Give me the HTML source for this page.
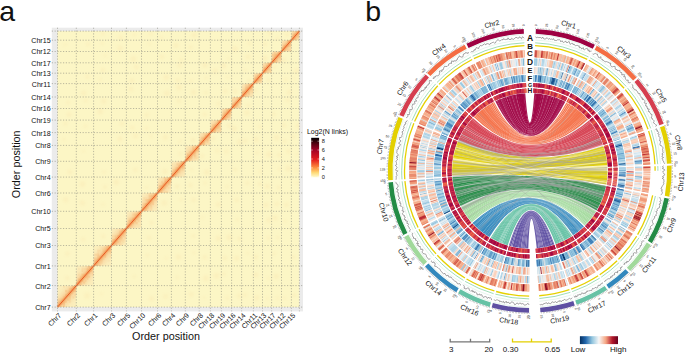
<!DOCTYPE html>
<html><head><meta charset="utf-8"><style>
html,body{margin:0;padding:0;background:#fff;}
body{width:685px;height:354px;overflow:hidden;}
svg{display:block;font-family:"Liberation Sans",sans-serif;}
text{fill:#111;}
</style></head><body>
<svg width="685" height="354" viewBox="0 0 685 354">
<rect x="51.8" y="27.7" width="251.2" height="283.7" fill="#ebebeb"/><rect x="57.5" y="31.1" width="241.9" height="276.0" fill="#fcf6c5"/><defs><clipPath id="cb0"><rect x="57.50" y="285.65" width="18.80" height="21.45"/></clipPath><clipPath id="cb1"><rect x="76.30" y="265.91" width="17.30" height="19.74"/></clipPath><clipPath id="cb2"><rect x="93.60" y="245.49" width="17.90" height="20.42"/></clipPath><clipPath id="cb3"><rect x="111.50" y="228.49" width="14.90" height="17.00"/></clipPath><clipPath id="cb4"><rect x="126.40" y="211.26" width="15.10" height="17.23"/></clipPath><clipPath id="cb5"><rect x="141.50" y="193.00" width="16.00" height="18.26"/></clipPath><clipPath id="cb6"><rect x="157.50" y="177.14" width="13.90" height="15.86"/></clipPath><clipPath id="cb7"><rect x="171.40" y="161.28" width="13.90" height="15.86"/></clipPath><clipPath id="cb8"><rect x="185.30" y="145.42" width="13.90" height="15.86"/></clipPath><clipPath id="cb9"><rect x="199.20" y="132.65" width="11.20" height="12.78"/></clipPath><clipPath id="cb10"><rect x="210.40" y="120.10" width="11.00" height="12.55"/></clipPath><clipPath id="cb11"><rect x="221.40" y="108.46" width="10.20" height="11.64"/></clipPath><clipPath id="cb12"><rect x="231.60" y="97.05" width="10.00" height="11.41"/></clipPath><clipPath id="cb13"><rect x="241.60" y="83.58" width="11.80" height="13.46"/></clipPath><clipPath id="cb14"><rect x="253.40" y="73.20" width="9.10" height="10.38"/></clipPath><clipPath id="cb15"><rect x="262.50" y="62.82" width="9.10" height="10.38"/></clipPath><clipPath id="cb16"><rect x="271.60" y="51.52" width="9.90" height="11.30"/></clipPath><clipPath id="cb17"><rect x="281.50" y="40.23" width="9.90" height="11.30"/></clipPath><clipPath id="cb18"><rect x="291.40" y="31.10" width="8.00" height="9.13"/></clipPath><filter id="bl0" x="-30%" y="-30%" width="160%" height="160%"><feGaussianBlur stdDeviation="0.5"/></filter><filter id="bl1" x="-30%" y="-30%" width="160%" height="160%"><feGaussianBlur stdDeviation="1"/></filter><filter id="bl2" x="-30%" y="-30%" width="160%" height="160%"><feGaussianBlur stdDeviation="2.2"/></filter><filter id="bl3" x="-30%" y="-30%" width="160%" height="160%"><feGaussianBlur stdDeviation="1.6"/></filter></defs><g fill="#f5c98a" opacity="0.14" filter="url(#bl3)"><circle cx="67.3" cy="278.3" r="2.2"/><circle cx="67.4" cy="253.8" r="2.3"/><circle cx="65.7" cy="199.7" r="2.7"/><circle cx="69.8" cy="172.0" r="2.5"/><circle cx="64.0" cy="139.2" r="1.6"/><circle cx="65.4" cy="123.6" r="2.2"/><circle cx="69.0" cy="114.4" r="2.5"/><circle cx="67.9" cy="102.5" r="1.9"/><circle cx="65.3" cy="44.6" r="1.6"/><circle cx="87.0" cy="295.7" r="2.9"/><circle cx="83.2" cy="239.4" r="2.2"/><circle cx="82.4" cy="202.9" r="2.7"/><circle cx="82.5" cy="184.1" r="2.9"/><circle cx="83.4" cy="151.0" r="1.6"/><circle cx="85.3" cy="126.1" r="1.8"/><circle cx="85.8" cy="100.5" r="2.1"/><circle cx="83.6" cy="93.1" r="2.7"/><circle cx="87.3" cy="76.7" r="2.1"/><circle cx="87.9" cy="44.2" r="1.9"/><circle cx="101.3" cy="293.8" r="1.6"/><circle cx="103.2" cy="236.2" r="2.2"/><circle cx="103.0" cy="204.3" r="1.8"/><circle cx="105.0" cy="187.0" r="1.9"/><circle cx="104.0" cy="171.9" r="1.8"/><circle cx="100.2" cy="111.5" r="2.9"/><circle cx="103.8" cy="101.3" r="2.7"/><circle cx="100.6" cy="79.7" r="1.6"/><circle cx="102.9" cy="70.1" r="2.4"/><circle cx="105.1" cy="55.4" r="1.5"/><circle cx="102.2" cy="43.2" r="1.8"/><circle cx="103.0" cy="33.5" r="2.0"/><circle cx="116.2" cy="182.2" r="2.9"/><circle cx="119.8" cy="138.9" r="2.6"/><circle cx="121.9" cy="123.8" r="2.3"/><circle cx="120.1" cy="48.3" r="2.8"/><circle cx="120.7" cy="37.8" r="2.4"/><circle cx="134.4" cy="276.4" r="1.6"/><circle cx="135.4" cy="169.7" r="2.2"/><circle cx="135.5" cy="136.2" r="2.4"/><circle cx="132.3" cy="127.6" r="2.2"/><circle cx="131.0" cy="89.1" r="2.5"/><circle cx="132.0" cy="80.8" r="2.5"/><circle cx="136.3" cy="67.0" r="2.5"/><circle cx="133.5" cy="59.0" r="2.9"/><circle cx="134.4" cy="34.6" r="1.7"/><circle cx="151.5" cy="298.5" r="2.6"/><circle cx="147.5" cy="255.4" r="1.9"/><circle cx="149.0" cy="237.7" r="2.2"/><circle cx="151.5" cy="222.8" r="2.2"/><circle cx="146.7" cy="187.3" r="1.6"/><circle cx="151.2" cy="136.2" r="1.7"/><circle cx="146.6" cy="128.3" r="1.9"/><circle cx="146.8" cy="115.1" r="2.2"/><circle cx="149.4" cy="43.9" r="1.5"/><circle cx="150.8" cy="33.7" r="1.9"/><circle cx="165.6" cy="296.5" r="2.4"/><circle cx="166.2" cy="258.1" r="1.6"/><circle cx="164.2" cy="202.9" r="2.9"/><circle cx="164.9" cy="171.5" r="2.7"/><circle cx="165.4" cy="137.3" r="2.6"/><circle cx="166.8" cy="93.2" r="3.0"/><circle cx="166.2" cy="77.3" r="2.9"/><circle cx="161.9" cy="56.8" r="2.3"/><circle cx="161.6" cy="37.5" r="1.6"/><circle cx="177.4" cy="277.5" r="1.7"/><circle cx="178.4" cy="257.0" r="2.8"/><circle cx="181.0" cy="199.6" r="1.8"/><circle cx="177.1" cy="186.4" r="2.5"/><circle cx="180.4" cy="153.7" r="2.0"/><circle cx="180.4" cy="141.4" r="1.8"/><circle cx="178.8" cy="101.0" r="2.3"/><circle cx="179.0" cy="87.5" r="3.0"/><circle cx="177.8" cy="80.2" r="2.3"/><circle cx="179.5" cy="65.4" r="2.3"/><circle cx="181.1" cy="59.7" r="1.9"/><circle cx="176.1" cy="45.5" r="2.7"/><circle cx="191.2" cy="294.5" r="2.4"/><circle cx="193.9" cy="252.8" r="1.8"/><circle cx="193.4" cy="235.9" r="2.0"/><circle cx="193.6" cy="199.9" r="2.3"/><circle cx="190.4" cy="185.3" r="2.2"/><circle cx="191.7" cy="169.4" r="1.7"/><circle cx="193.0" cy="139.9" r="2.3"/><circle cx="193.7" cy="92.2" r="2.9"/><circle cx="191.1" cy="80.9" r="1.8"/><circle cx="190.7" cy="47.2" r="1.9"/><circle cx="194.2" cy="35.2" r="2.7"/><circle cx="204.2" cy="297.5" r="1.5"/><circle cx="205.9" cy="278.2" r="3.0"/><circle cx="204.8" cy="257.2" r="2.3"/><circle cx="202.2" cy="217.5" r="1.6"/><circle cx="205.2" cy="183.0" r="1.8"/><circle cx="206.8" cy="172.2" r="2.9"/><circle cx="202.2" cy="156.1" r="2.2"/><circle cx="204.6" cy="114.4" r="2.1"/><circle cx="206.0" cy="92.4" r="1.8"/><circle cx="206.2" cy="77.8" r="1.8"/><circle cx="204.9" cy="65.1" r="2.8"/><circle cx="216.5" cy="275.8" r="3.0"/><circle cx="218.4" cy="238.5" r="2.7"/><circle cx="218.3" cy="204.4" r="2.5"/><circle cx="217.2" cy="150.8" r="2.0"/><circle cx="213.0" cy="138.2" r="2.5"/><circle cx="218.6" cy="103.7" r="2.0"/><circle cx="215.2" cy="71.0" r="2.5"/><circle cx="227.2" cy="297.8" r="1.9"/><circle cx="223.8" cy="274.0" r="2.1"/><circle cx="225.0" cy="258.1" r="2.3"/><circle cx="229.3" cy="237.4" r="3.0"/><circle cx="227.1" cy="186.6" r="1.6"/><circle cx="226.3" cy="151.4" r="2.2"/><circle cx="229.2" cy="125.9" r="2.3"/><circle cx="225.2" cy="91.2" r="2.3"/><circle cx="227.8" cy="77.2" r="1.5"/><circle cx="223.8" cy="65.9" r="2.6"/><circle cx="228.9" cy="58.7" r="1.6"/><circle cx="239.0" cy="296.0" r="2.2"/><circle cx="236.7" cy="258.3" r="2.6"/><circle cx="239.5" cy="238.9" r="2.4"/><circle cx="237.3" cy="219.6" r="1.8"/><circle cx="236.8" cy="199.9" r="2.2"/><circle cx="235.2" cy="169.7" r="2.1"/><circle cx="239.6" cy="141.8" r="2.6"/><circle cx="234.3" cy="128.7" r="2.7"/><circle cx="235.2" cy="91.4" r="2.3"/><circle cx="235.1" cy="48.8" r="2.9"/><circle cx="244.9" cy="295.0" r="2.1"/><circle cx="247.7" cy="253.1" r="1.6"/><circle cx="247.4" cy="183.3" r="2.0"/><circle cx="245.2" cy="140.9" r="2.4"/><circle cx="247.0" cy="112.8" r="2.7"/><circle cx="248.4" cy="105.7" r="2.0"/><circle cx="249.0" cy="80.9" r="2.1"/><circle cx="245.1" cy="70.3" r="1.6"/><circle cx="247.9" cy="57.1" r="2.5"/><circle cx="249.2" cy="43.3" r="1.8"/><circle cx="256.8" cy="297.7" r="2.5"/><circle cx="255.8" cy="274.9" r="2.6"/><circle cx="255.7" cy="257.0" r="2.4"/><circle cx="259.8" cy="183.9" r="2.0"/><circle cx="260.6" cy="171.6" r="1.9"/><circle cx="257.1" cy="152.5" r="2.1"/><circle cx="256.1" cy="139.4" r="2.7"/><circle cx="260.0" cy="126.7" r="1.8"/><circle cx="255.1" cy="90.4" r="2.3"/><circle cx="267.3" cy="298.1" r="1.6"/><circle cx="268.5" cy="278.2" r="1.6"/><circle cx="268.5" cy="237.9" r="1.9"/><circle cx="268.6" cy="220.0" r="2.6"/><circle cx="266.1" cy="204.9" r="2.5"/><circle cx="267.3" cy="186.4" r="2.6"/><circle cx="269.0" cy="154.4" r="2.8"/><circle cx="268.3" cy="80.2" r="2.1"/><circle cx="264.9" cy="58.6" r="3.0"/><circle cx="265.1" cy="44.1" r="2.1"/><circle cx="269.9" cy="33.0" r="2.0"/><circle cx="277.4" cy="298.0" r="1.8"/><circle cx="276.3" cy="276.3" r="2.9"/><circle cx="274.2" cy="253.8" r="1.8"/><circle cx="277.9" cy="237.6" r="1.8"/><circle cx="275.2" cy="217.9" r="2.6"/><circle cx="276.8" cy="204.0" r="2.2"/><circle cx="278.9" cy="187.6" r="2.0"/><circle cx="279.3" cy="169.1" r="1.8"/><circle cx="279.2" cy="155.2" r="2.1"/><circle cx="276.6" cy="137.7" r="3.0"/><circle cx="273.6" cy="114.1" r="2.1"/><circle cx="274.5" cy="66.9" r="1.9"/><circle cx="277.4" cy="38.6" r="1.9"/><circle cx="284.4" cy="298.0" r="1.5"/><circle cx="285.1" cy="221.2" r="1.6"/><circle cx="286.3" cy="204.9" r="2.4"/><circle cx="288.2" cy="168.7" r="2.9"/><circle cx="288.4" cy="151.6" r="2.3"/><circle cx="284.4" cy="141.0" r="2.0"/><circle cx="283.9" cy="125.2" r="2.2"/><circle cx="287.6" cy="100.4" r="2.1"/><circle cx="289.3" cy="92.3" r="2.5"/><circle cx="285.7" cy="79.7" r="1.9"/><circle cx="283.5" cy="60.1" r="2.7"/><circle cx="287.1" cy="34.4" r="2.1"/><circle cx="294.2" cy="295.4" r="2.1"/><circle cx="293.6" cy="257.1" r="2.0"/><circle cx="297.4" cy="182.6" r="1.7"/><circle cx="296.5" cy="170.5" r="1.8"/><circle cx="297.4" cy="153.9" r="1.6"/><circle cx="293.3" cy="136.8" r="2.1"/><circle cx="297.9" cy="125.9" r="2.3"/><circle cx="294.4" cy="77.9" r="1.5"/><circle cx="296.6" cy="70.9" r="2.7"/></g><g clip-path="url(#cb0)"><rect x="57.50" y="285.65" width="18.80" height="21.45" fill="#f8d49a" opacity="0.2"/><line x1="57.50" y1="307.10" x2="76.30" y2="285.65" stroke="#f7c084" stroke-width="12" opacity="0.42" filter="url(#bl2)"/><line x1="57.50" y1="307.10" x2="76.30" y2="285.65" stroke="#f39a55" stroke-width="4.5" opacity="0.45" filter="url(#bl1)"/></g><g clip-path="url(#cb1)"><rect x="76.30" y="265.91" width="17.30" height="19.74" fill="#f8d49a" opacity="0.2"/><line x1="76.30" y1="285.65" x2="93.60" y2="265.91" stroke="#f7c084" stroke-width="12" opacity="0.42" filter="url(#bl2)"/><line x1="76.30" y1="285.65" x2="93.60" y2="265.91" stroke="#f39a55" stroke-width="4.5" opacity="0.45" filter="url(#bl1)"/></g><g clip-path="url(#cb2)"><rect x="93.60" y="245.49" width="17.90" height="20.42" fill="#f8d49a" opacity="0.2"/><line x1="93.60" y1="265.91" x2="111.50" y2="245.49" stroke="#f7c084" stroke-width="12" opacity="0.42" filter="url(#bl2)"/><line x1="93.60" y1="265.91" x2="111.50" y2="245.49" stroke="#f39a55" stroke-width="4.5" opacity="0.45" filter="url(#bl1)"/></g><g clip-path="url(#cb3)"><rect x="111.50" y="228.49" width="14.90" height="17.00" fill="#f8d49a" opacity="0.2"/><line x1="111.50" y1="245.49" x2="126.40" y2="228.49" stroke="#f7c084" stroke-width="12" opacity="0.42" filter="url(#bl2)"/><line x1="111.50" y1="245.49" x2="126.40" y2="228.49" stroke="#f39a55" stroke-width="4.5" opacity="0.45" filter="url(#bl1)"/></g><g clip-path="url(#cb4)"><rect x="126.40" y="211.26" width="15.10" height="17.23" fill="#f8d49a" opacity="0.2"/><line x1="126.40" y1="228.49" x2="141.50" y2="211.26" stroke="#f7c084" stroke-width="12" opacity="0.42" filter="url(#bl2)"/><line x1="126.40" y1="228.49" x2="141.50" y2="211.26" stroke="#f39a55" stroke-width="4.5" opacity="0.45" filter="url(#bl1)"/></g><g clip-path="url(#cb5)"><rect x="141.50" y="193.00" width="16.00" height="18.26" fill="#f8d49a" opacity="0.2"/><line x1="141.50" y1="211.26" x2="157.50" y2="193.00" stroke="#f7c084" stroke-width="12" opacity="0.42" filter="url(#bl2)"/><line x1="141.50" y1="211.26" x2="157.50" y2="193.00" stroke="#f39a55" stroke-width="4.5" opacity="0.45" filter="url(#bl1)"/></g><g clip-path="url(#cb6)"><rect x="157.50" y="177.14" width="13.90" height="15.86" fill="#f8d49a" opacity="0.2"/><line x1="157.50" y1="193.00" x2="171.40" y2="177.14" stroke="#f7c084" stroke-width="12" opacity="0.42" filter="url(#bl2)"/><line x1="157.50" y1="193.00" x2="171.40" y2="177.14" stroke="#f39a55" stroke-width="4.5" opacity="0.45" filter="url(#bl1)"/></g><g clip-path="url(#cb7)"><rect x="171.40" y="161.28" width="13.90" height="15.86" fill="#f8d49a" opacity="0.2"/><line x1="171.40" y1="177.14" x2="185.30" y2="161.28" stroke="#f7c084" stroke-width="12" opacity="0.42" filter="url(#bl2)"/><line x1="171.40" y1="177.14" x2="185.30" y2="161.28" stroke="#f39a55" stroke-width="4.5" opacity="0.45" filter="url(#bl1)"/></g><g clip-path="url(#cb8)"><rect x="185.30" y="145.42" width="13.90" height="15.86" fill="#f8d49a" opacity="0.2"/><line x1="185.30" y1="161.28" x2="199.20" y2="145.42" stroke="#f7c084" stroke-width="12" opacity="0.42" filter="url(#bl2)"/><line x1="185.30" y1="161.28" x2="199.20" y2="145.42" stroke="#f39a55" stroke-width="4.5" opacity="0.45" filter="url(#bl1)"/></g><g clip-path="url(#cb9)"><rect x="199.20" y="132.65" width="11.20" height="12.78" fill="#f8d49a" opacity="0.2"/><line x1="199.20" y1="145.42" x2="210.40" y2="132.65" stroke="#f7c084" stroke-width="12" opacity="0.42" filter="url(#bl2)"/><line x1="199.20" y1="145.42" x2="210.40" y2="132.65" stroke="#f39a55" stroke-width="4.5" opacity="0.45" filter="url(#bl1)"/></g><g clip-path="url(#cb10)"><rect x="210.40" y="120.10" width="11.00" height="12.55" fill="#f8d49a" opacity="0.2"/><line x1="210.40" y1="132.65" x2="221.40" y2="120.10" stroke="#f7c084" stroke-width="12" opacity="0.42" filter="url(#bl2)"/><line x1="210.40" y1="132.65" x2="221.40" y2="120.10" stroke="#f39a55" stroke-width="4.5" opacity="0.45" filter="url(#bl1)"/></g><g clip-path="url(#cb11)"><rect x="221.40" y="108.46" width="10.20" height="11.64" fill="#f8d49a" opacity="0.2"/><line x1="221.40" y1="120.10" x2="231.60" y2="108.46" stroke="#f7c084" stroke-width="12" opacity="0.42" filter="url(#bl2)"/><line x1="221.40" y1="120.10" x2="231.60" y2="108.46" stroke="#f39a55" stroke-width="4.5" opacity="0.45" filter="url(#bl1)"/></g><g clip-path="url(#cb12)"><rect x="231.60" y="97.05" width="10.00" height="11.41" fill="#f8d49a" opacity="0.2"/><line x1="231.60" y1="108.46" x2="241.60" y2="97.05" stroke="#f7c084" stroke-width="12" opacity="0.42" filter="url(#bl2)"/><line x1="231.60" y1="108.46" x2="241.60" y2="97.05" stroke="#f39a55" stroke-width="4.5" opacity="0.45" filter="url(#bl1)"/></g><g clip-path="url(#cb13)"><rect x="241.60" y="83.58" width="11.80" height="13.46" fill="#f8d49a" opacity="0.2"/><line x1="241.60" y1="97.05" x2="253.40" y2="83.58" stroke="#f7c084" stroke-width="12" opacity="0.42" filter="url(#bl2)"/><line x1="241.60" y1="97.05" x2="253.40" y2="83.58" stroke="#f39a55" stroke-width="4.5" opacity="0.45" filter="url(#bl1)"/></g><g clip-path="url(#cb14)"><rect x="253.40" y="73.20" width="9.10" height="10.38" fill="#f8d49a" opacity="0.2"/><line x1="253.40" y1="83.58" x2="262.50" y2="73.20" stroke="#f7c084" stroke-width="12" opacity="0.42" filter="url(#bl2)"/><line x1="253.40" y1="83.58" x2="262.50" y2="73.20" stroke="#f39a55" stroke-width="4.5" opacity="0.45" filter="url(#bl1)"/></g><g clip-path="url(#cb15)"><rect x="262.50" y="62.82" width="9.10" height="10.38" fill="#f8d49a" opacity="0.2"/><line x1="262.50" y1="73.20" x2="271.60" y2="62.82" stroke="#f7c084" stroke-width="12" opacity="0.42" filter="url(#bl2)"/><line x1="262.50" y1="73.20" x2="271.60" y2="62.82" stroke="#f39a55" stroke-width="4.5" opacity="0.45" filter="url(#bl1)"/></g><g clip-path="url(#cb16)"><rect x="271.60" y="51.52" width="9.90" height="11.30" fill="#f8d49a" opacity="0.2"/><line x1="271.60" y1="62.82" x2="281.50" y2="51.52" stroke="#f7c084" stroke-width="12" opacity="0.42" filter="url(#bl2)"/><line x1="271.60" y1="62.82" x2="281.50" y2="51.52" stroke="#f39a55" stroke-width="4.5" opacity="0.45" filter="url(#bl1)"/></g><g clip-path="url(#cb17)"><rect x="281.50" y="40.23" width="9.90" height="11.30" fill="#f8d49a" opacity="0.2"/><line x1="281.50" y1="51.52" x2="291.40" y2="40.23" stroke="#f7c084" stroke-width="12" opacity="0.42" filter="url(#bl2)"/><line x1="281.50" y1="51.52" x2="291.40" y2="40.23" stroke="#f39a55" stroke-width="4.5" opacity="0.45" filter="url(#bl1)"/></g><g clip-path="url(#cb18)"><rect x="291.40" y="31.10" width="8.00" height="9.13" fill="#f8d49a" opacity="0.2"/><line x1="291.40" y1="40.23" x2="299.40" y2="31.10" stroke="#f7c084" stroke-width="12" opacity="0.42" filter="url(#bl2)"/><line x1="291.40" y1="40.23" x2="299.40" y2="31.10" stroke="#f39a55" stroke-width="4.5" opacity="0.45" filter="url(#bl1)"/></g><g fill="#f5a55c"><rect x="57.5" y="302.8" width="1.9" height="2.1" opacity="0.18"/><rect x="57.5" y="300.7" width="1.9" height="2.1" opacity="0.22"/><rect x="57.5" y="298.5" width="1.9" height="2.1" opacity="0.13"/><rect x="59.4" y="300.7" width="1.9" height="2.1" opacity="0.18"/><rect x="59.4" y="298.5" width="1.9" height="2.1" opacity="0.10"/><rect x="61.3" y="302.8" width="1.9" height="2.1" opacity="0.14"/><rect x="61.3" y="298.5" width="1.9" height="2.1" opacity="0.15"/><rect x="63.1" y="305.0" width="1.9" height="2.1" opacity="0.24"/><rect x="63.1" y="302.8" width="1.9" height="2.1" opacity="0.28"/><rect x="63.1" y="300.7" width="1.9" height="2.1" opacity="0.24"/><rect x="63.1" y="296.4" width="1.9" height="2.1" opacity="0.16"/><rect x="63.1" y="285.6" width="1.9" height="2.1" opacity="0.12"/><rect x="65.0" y="300.7" width="1.9" height="2.1" opacity="0.20"/><rect x="65.0" y="294.2" width="1.9" height="2.1" opacity="0.24"/><rect x="65.0" y="292.1" width="1.9" height="2.1" opacity="0.07"/><rect x="65.0" y="289.9" width="1.9" height="2.1" opacity="0.24"/><rect x="66.9" y="298.5" width="1.9" height="2.1" opacity="0.21"/><rect x="66.9" y="292.1" width="1.9" height="2.1" opacity="0.14"/><rect x="66.9" y="289.9" width="1.9" height="2.1" opacity="0.10"/><rect x="68.8" y="300.7" width="1.9" height="2.1" opacity="0.13"/><rect x="68.8" y="298.5" width="1.9" height="2.1" opacity="0.18"/><rect x="68.8" y="296.4" width="1.9" height="2.1" opacity="0.22"/><rect x="68.8" y="294.2" width="1.9" height="2.1" opacity="0.36"/><rect x="68.8" y="289.9" width="1.9" height="2.1" opacity="0.22"/><rect x="68.8" y="287.8" width="1.9" height="2.1" opacity="0.21"/><rect x="70.7" y="292.1" width="1.9" height="2.1" opacity="0.21"/><rect x="70.7" y="287.8" width="1.9" height="2.1" opacity="0.34"/><rect x="72.5" y="296.4" width="1.9" height="2.1" opacity="0.16"/><rect x="72.5" y="289.9" width="1.9" height="2.1" opacity="0.30"/><rect x="72.5" y="285.6" width="1.9" height="2.1" opacity="0.25"/><rect x="74.4" y="294.2" width="1.9" height="2.1" opacity="0.15"/><rect x="74.4" y="289.9" width="1.9" height="2.1" opacity="0.14"/><rect x="74.4" y="287.8" width="1.9" height="2.1" opacity="0.15"/><rect x="76.3" y="281.7" width="1.7" height="2.0" opacity="0.34"/><rect x="78.0" y="279.7" width="1.7" height="2.0" opacity="0.31"/><rect x="78.0" y="277.8" width="1.7" height="2.0" opacity="0.19"/><rect x="78.0" y="273.8" width="1.7" height="2.0" opacity="0.08"/><rect x="78.0" y="267.9" width="1.7" height="2.0" opacity="0.10"/><rect x="79.8" y="283.7" width="1.7" height="2.0" opacity="0.15"/><rect x="79.8" y="281.7" width="1.7" height="2.0" opacity="0.10"/><rect x="79.8" y="277.8" width="1.7" height="2.0" opacity="0.34"/><rect x="79.8" y="275.8" width="1.7" height="2.0" opacity="0.18"/><rect x="81.5" y="279.7" width="1.7" height="2.0" opacity="0.32"/><rect x="81.5" y="275.8" width="1.7" height="2.0" opacity="0.22"/><rect x="81.5" y="273.8" width="1.7" height="2.0" opacity="0.27"/><rect x="81.5" y="269.9" width="1.7" height="2.0" opacity="0.14"/><rect x="81.5" y="267.9" width="1.7" height="2.0" opacity="0.15"/><rect x="81.5" y="265.9" width="1.7" height="2.0" opacity="0.04"/><rect x="83.2" y="281.7" width="1.7" height="2.0" opacity="0.23"/><rect x="83.2" y="273.8" width="1.7" height="2.0" opacity="0.28"/><rect x="83.2" y="267.9" width="1.7" height="2.0" opacity="0.08"/><rect x="84.9" y="281.7" width="1.7" height="2.0" opacity="0.07"/><rect x="84.9" y="279.7" width="1.7" height="2.0" opacity="0.18"/><rect x="84.9" y="275.8" width="1.7" height="2.0" opacity="0.27"/><rect x="84.9" y="267.9" width="1.7" height="2.0" opacity="0.11"/><rect x="86.7" y="277.8" width="1.7" height="2.0" opacity="0.24"/><rect x="86.7" y="275.8" width="1.7" height="2.0" opacity="0.19"/><rect x="86.7" y="273.8" width="1.7" height="2.0" opacity="0.09"/><rect x="86.7" y="269.9" width="1.7" height="2.0" opacity="0.16"/><rect x="86.7" y="267.9" width="1.7" height="2.0" opacity="0.26"/><rect x="86.7" y="265.9" width="1.7" height="2.0" opacity="0.11"/><rect x="88.4" y="275.8" width="1.7" height="2.0" opacity="0.23"/><rect x="88.4" y="271.8" width="1.7" height="2.0" opacity="0.21"/><rect x="88.4" y="265.9" width="1.7" height="2.0" opacity="0.29"/><rect x="90.1" y="269.9" width="1.7" height="2.0" opacity="0.23"/><rect x="91.9" y="273.8" width="1.7" height="2.0" opacity="0.14"/><rect x="91.9" y="271.8" width="1.7" height="2.0" opacity="0.14"/><rect x="93.6" y="259.8" width="1.8" height="2.0" opacity="0.18"/><rect x="93.6" y="257.7" width="1.8" height="2.0" opacity="0.17"/><rect x="93.6" y="253.7" width="1.8" height="2.0" opacity="0.11"/><rect x="95.4" y="263.9" width="1.8" height="2.0" opacity="0.09"/><rect x="95.4" y="259.8" width="1.8" height="2.0" opacity="0.21"/><rect x="95.4" y="257.7" width="1.8" height="2.0" opacity="0.13"/><rect x="95.4" y="253.7" width="1.8" height="2.0" opacity="0.19"/><rect x="97.2" y="263.9" width="1.8" height="2.0" opacity="0.14"/><rect x="97.2" y="261.8" width="1.8" height="2.0" opacity="0.17"/><rect x="97.2" y="257.7" width="1.8" height="2.0" opacity="0.23"/><rect x="97.2" y="255.7" width="1.8" height="2.0" opacity="0.21"/><rect x="97.2" y="253.7" width="1.8" height="2.0" opacity="0.21"/><rect x="97.2" y="251.6" width="1.8" height="2.0" opacity="0.09"/><rect x="97.2" y="249.6" width="1.8" height="2.0" opacity="0.13"/><rect x="99.0" y="263.9" width="1.8" height="2.0" opacity="0.13"/><rect x="99.0" y="261.8" width="1.8" height="2.0" opacity="0.12"/><rect x="99.0" y="255.7" width="1.8" height="2.0" opacity="0.22"/><rect x="99.0" y="249.6" width="1.8" height="2.0" opacity="0.12"/><rect x="99.0" y="245.5" width="1.8" height="2.0" opacity="0.06"/><rect x="100.8" y="261.8" width="1.8" height="2.0" opacity="0.13"/><rect x="100.8" y="259.8" width="1.8" height="2.0" opacity="0.17"/><rect x="100.8" y="257.7" width="1.8" height="2.0" opacity="0.09"/><rect x="100.8" y="247.5" width="1.8" height="2.0" opacity="0.08"/><rect x="102.5" y="257.7" width="1.8" height="2.0" opacity="0.15"/><rect x="102.5" y="251.6" width="1.8" height="2.0" opacity="0.09"/><rect x="102.5" y="249.6" width="1.8" height="2.0" opacity="0.22"/><rect x="102.5" y="247.5" width="1.8" height="2.0" opacity="0.12"/><rect x="104.3" y="255.7" width="1.8" height="2.0" opacity="0.26"/><rect x="104.3" y="253.7" width="1.8" height="2.0" opacity="0.31"/><rect x="104.3" y="249.6" width="1.8" height="2.0" opacity="0.18"/><rect x="104.3" y="247.5" width="1.8" height="2.0" opacity="0.20"/><rect x="104.3" y="245.5" width="1.8" height="2.0" opacity="0.09"/><rect x="106.1" y="247.5" width="1.8" height="2.0" opacity="0.19"/><rect x="106.1" y="245.5" width="1.8" height="2.0" opacity="0.23"/><rect x="107.9" y="259.8" width="1.8" height="2.0" opacity="0.05"/><rect x="107.9" y="249.6" width="1.8" height="2.0" opacity="0.19"/><rect x="107.9" y="245.5" width="1.8" height="2.0" opacity="0.35"/><rect x="109.7" y="255.7" width="1.8" height="2.0" opacity="0.08"/><rect x="109.7" y="251.6" width="1.8" height="2.0" opacity="0.22"/><rect x="109.7" y="249.6" width="1.8" height="2.0" opacity="0.25"/><rect x="109.7" y="247.5" width="1.8" height="2.0" opacity="0.10"/><rect x="111.5" y="241.2" width="1.9" height="2.1" opacity="0.15"/><rect x="111.5" y="239.1" width="1.9" height="2.1" opacity="0.10"/><rect x="111.5" y="234.9" width="1.9" height="2.1" opacity="0.09"/><rect x="113.4" y="239.1" width="1.9" height="2.1" opacity="0.29"/><rect x="113.4" y="234.9" width="1.9" height="2.1" opacity="0.09"/><rect x="115.2" y="243.4" width="1.9" height="2.1" opacity="0.27"/><rect x="115.2" y="241.2" width="1.9" height="2.1" opacity="0.17"/><rect x="115.2" y="237.0" width="1.9" height="2.1" opacity="0.14"/><rect x="115.2" y="234.9" width="1.9" height="2.1" opacity="0.07"/><rect x="117.1" y="241.2" width="1.9" height="2.1" opacity="0.22"/><rect x="117.1" y="234.9" width="1.9" height="2.1" opacity="0.28"/><rect x="119.0" y="243.4" width="1.9" height="2.1" opacity="0.14"/><rect x="119.0" y="241.2" width="1.9" height="2.1" opacity="0.14"/><rect x="119.0" y="239.1" width="1.9" height="2.1" opacity="0.08"/><rect x="119.0" y="237.0" width="1.9" height="2.1" opacity="0.18"/><rect x="119.0" y="232.7" width="1.9" height="2.1" opacity="0.16"/><rect x="119.0" y="230.6" width="1.9" height="2.1" opacity="0.16"/><rect x="120.8" y="243.4" width="1.9" height="2.1" opacity="0.12"/><rect x="120.8" y="241.2" width="1.9" height="2.1" opacity="0.06"/><rect x="120.8" y="239.1" width="1.9" height="2.1" opacity="0.14"/><rect x="120.8" y="237.0" width="1.9" height="2.1" opacity="0.20"/><rect x="120.8" y="230.6" width="1.9" height="2.1" opacity="0.28"/><rect x="120.8" y="228.5" width="1.9" height="2.1" opacity="0.16"/><rect x="122.7" y="241.2" width="1.9" height="2.1" opacity="0.09"/><rect x="122.7" y="239.1" width="1.9" height="2.1" opacity="0.12"/><rect x="122.7" y="234.9" width="1.9" height="2.1" opacity="0.14"/><rect x="122.7" y="232.7" width="1.9" height="2.1" opacity="0.09"/><rect x="122.7" y="228.5" width="1.9" height="2.1" opacity="0.34"/><rect x="124.5" y="237.0" width="1.9" height="2.1" opacity="0.12"/><rect x="124.5" y="230.6" width="1.9" height="2.1" opacity="0.25"/><rect x="128.3" y="219.9" width="1.9" height="2.2" opacity="0.28"/><rect x="128.3" y="217.7" width="1.9" height="2.2" opacity="0.08"/><rect x="130.2" y="224.2" width="1.9" height="2.2" opacity="0.14"/><rect x="130.2" y="219.9" width="1.9" height="2.2" opacity="0.28"/><rect x="130.2" y="217.7" width="1.9" height="2.2" opacity="0.07"/><rect x="132.1" y="222.0" width="1.9" height="2.2" opacity="0.26"/><rect x="132.1" y="217.7" width="1.9" height="2.2" opacity="0.32"/><rect x="132.1" y="213.4" width="1.9" height="2.2" opacity="0.12"/><rect x="133.9" y="219.9" width="1.9" height="2.2" opacity="0.36"/><rect x="133.9" y="213.4" width="1.9" height="2.2" opacity="0.21"/><rect x="135.8" y="222.0" width="1.9" height="2.2" opacity="0.20"/><rect x="135.8" y="217.7" width="1.9" height="2.2" opacity="0.15"/><rect x="135.8" y="213.4" width="1.9" height="2.2" opacity="0.13"/><rect x="137.7" y="226.3" width="1.9" height="2.2" opacity="0.04"/><rect x="137.7" y="224.2" width="1.9" height="2.2" opacity="0.05"/><rect x="137.7" y="219.9" width="1.9" height="2.2" opacity="0.14"/><rect x="137.7" y="215.6" width="1.9" height="2.2" opacity="0.13"/><rect x="139.6" y="224.2" width="1.9" height="2.2" opacity="0.06"/><rect x="139.6" y="213.4" width="1.9" height="2.2" opacity="0.29"/><rect x="141.5" y="207.2" width="1.8" height="2.0" opacity="0.18"/><rect x="143.3" y="203.1" width="1.8" height="2.0" opacity="0.16"/><rect x="143.3" y="199.1" width="1.8" height="2.0" opacity="0.07"/><rect x="143.3" y="197.1" width="1.8" height="2.0" opacity="0.11"/><rect x="145.1" y="209.2" width="1.8" height="2.0" opacity="0.23"/><rect x="145.1" y="207.2" width="1.8" height="2.0" opacity="0.26"/><rect x="145.1" y="203.1" width="1.8" height="2.0" opacity="0.35"/><rect x="145.1" y="199.1" width="1.8" height="2.0" opacity="0.19"/><rect x="145.1" y="197.1" width="1.8" height="2.0" opacity="0.05"/><rect x="146.8" y="207.2" width="1.8" height="2.0" opacity="0.14"/><rect x="146.8" y="205.2" width="1.8" height="2.0" opacity="0.24"/><rect x="146.8" y="201.1" width="1.8" height="2.0" opacity="0.19"/><rect x="146.8" y="199.1" width="1.8" height="2.0" opacity="0.25"/><rect x="148.6" y="203.1" width="1.8" height="2.0" opacity="0.28"/><rect x="148.6" y="199.1" width="1.8" height="2.0" opacity="0.31"/><rect x="148.6" y="197.1" width="1.8" height="2.0" opacity="0.11"/><rect x="148.6" y="195.0" width="1.8" height="2.0" opacity="0.23"/><rect x="148.6" y="193.0" width="1.8" height="2.0" opacity="0.12"/><rect x="150.4" y="209.2" width="1.8" height="2.0" opacity="0.08"/><rect x="150.4" y="207.2" width="1.8" height="2.0" opacity="0.13"/><rect x="150.4" y="205.2" width="1.8" height="2.0" opacity="0.17"/><rect x="150.4" y="203.1" width="1.8" height="2.0" opacity="0.12"/><rect x="150.4" y="201.1" width="1.8" height="2.0" opacity="0.19"/><rect x="150.4" y="197.1" width="1.8" height="2.0" opacity="0.10"/><rect x="150.4" y="195.0" width="1.8" height="2.0" opacity="0.28"/><rect x="150.4" y="193.0" width="1.8" height="2.0" opacity="0.07"/><rect x="152.2" y="203.1" width="1.8" height="2.0" opacity="0.22"/><rect x="152.2" y="201.1" width="1.8" height="2.0" opacity="0.16"/><rect x="152.2" y="195.0" width="1.8" height="2.0" opacity="0.10"/><rect x="153.9" y="197.1" width="1.8" height="2.0" opacity="0.32"/><rect x="155.7" y="207.2" width="1.8" height="2.0" opacity="0.04"/><rect x="155.7" y="205.2" width="1.8" height="2.0" opacity="0.04"/><rect x="155.7" y="199.1" width="1.8" height="2.0" opacity="0.15"/><rect x="155.7" y="197.1" width="1.8" height="2.0" opacity="0.12"/><rect x="157.5" y="189.0" width="1.7" height="2.0" opacity="0.23"/><rect x="159.2" y="185.1" width="1.7" height="2.0" opacity="0.29"/><rect x="161.0" y="191.0" width="1.7" height="2.0" opacity="0.20"/><rect x="161.0" y="189.0" width="1.7" height="2.0" opacity="0.19"/><rect x="161.0" y="185.1" width="1.7" height="2.0" opacity="0.27"/><rect x="161.0" y="181.1" width="1.7" height="2.0" opacity="0.18"/><rect x="162.7" y="189.0" width="1.7" height="2.0" opacity="0.09"/><rect x="162.7" y="187.1" width="1.7" height="2.0" opacity="0.29"/><rect x="162.7" y="183.1" width="1.7" height="2.0" opacity="0.29"/><rect x="162.7" y="177.1" width="1.7" height="2.0" opacity="0.06"/><rect x="164.4" y="191.0" width="1.7" height="2.0" opacity="0.10"/><rect x="164.4" y="187.1" width="1.7" height="2.0" opacity="0.18"/><rect x="164.4" y="185.1" width="1.7" height="2.0" opacity="0.17"/><rect x="164.4" y="181.1" width="1.7" height="2.0" opacity="0.35"/><rect x="164.4" y="179.1" width="1.7" height="2.0" opacity="0.27"/><rect x="164.4" y="177.1" width="1.7" height="2.0" opacity="0.20"/><rect x="166.2" y="191.0" width="1.7" height="2.0" opacity="0.16"/><rect x="166.2" y="185.1" width="1.7" height="2.0" opacity="0.16"/><rect x="166.2" y="179.1" width="1.7" height="2.0" opacity="0.16"/><rect x="167.9" y="187.1" width="1.7" height="2.0" opacity="0.10"/><rect x="167.9" y="183.1" width="1.7" height="2.0" opacity="0.22"/><rect x="167.9" y="181.1" width="1.7" height="2.0" opacity="0.27"/><rect x="167.9" y="177.1" width="1.7" height="2.0" opacity="0.26"/><rect x="169.7" y="181.1" width="1.7" height="2.0" opacity="0.26"/><rect x="169.7" y="179.1" width="1.7" height="2.0" opacity="0.21"/><rect x="171.4" y="173.2" width="1.7" height="2.0" opacity="0.20"/><rect x="171.4" y="171.2" width="1.7" height="2.0" opacity="0.12"/><rect x="171.4" y="163.3" width="1.7" height="2.0" opacity="0.10"/><rect x="173.1" y="175.2" width="1.7" height="2.0" opacity="0.25"/><rect x="173.1" y="169.2" width="1.7" height="2.0" opacity="0.18"/><rect x="174.9" y="173.2" width="1.7" height="2.0" opacity="0.33"/><rect x="174.9" y="169.2" width="1.7" height="2.0" opacity="0.37"/><rect x="174.9" y="167.2" width="1.7" height="2.0" opacity="0.12"/><rect x="176.6" y="171.2" width="1.7" height="2.0" opacity="0.37"/><rect x="176.6" y="167.2" width="1.7" height="2.0" opacity="0.33"/><rect x="176.6" y="163.3" width="1.7" height="2.0" opacity="0.21"/><rect x="178.4" y="171.2" width="1.7" height="2.0" opacity="0.13"/><rect x="178.4" y="169.2" width="1.7" height="2.0" opacity="0.10"/><rect x="178.4" y="165.2" width="1.7" height="2.0" opacity="0.31"/><rect x="178.4" y="163.3" width="1.7" height="2.0" opacity="0.12"/><rect x="180.1" y="163.3" width="1.7" height="2.0" opacity="0.19"/><rect x="180.1" y="161.3" width="1.7" height="2.0" opacity="0.08"/><rect x="181.8" y="169.2" width="1.7" height="2.0" opacity="0.09"/><rect x="181.8" y="167.2" width="1.7" height="2.0" opacity="0.27"/><rect x="181.8" y="165.2" width="1.7" height="2.0" opacity="0.34"/><rect x="181.8" y="161.3" width="1.7" height="2.0" opacity="0.36"/><rect x="183.6" y="167.2" width="1.7" height="2.0" opacity="0.18"/><rect x="183.6" y="165.2" width="1.7" height="2.0" opacity="0.07"/><rect x="183.6" y="163.3" width="1.7" height="2.0" opacity="0.17"/><rect x="185.3" y="157.3" width="1.7" height="2.0" opacity="0.16"/><rect x="185.3" y="151.4" width="1.7" height="2.0" opacity="0.07"/><rect x="187.0" y="159.3" width="1.7" height="2.0" opacity="0.35"/><rect x="187.0" y="155.3" width="1.7" height="2.0" opacity="0.18"/><rect x="187.0" y="153.4" width="1.7" height="2.0" opacity="0.30"/><rect x="188.8" y="159.3" width="1.7" height="2.0" opacity="0.10"/><rect x="188.8" y="157.3" width="1.7" height="2.0" opacity="0.20"/><rect x="188.8" y="151.4" width="1.7" height="2.0" opacity="0.17"/><rect x="190.5" y="157.3" width="1.7" height="2.0" opacity="0.20"/><rect x="190.5" y="155.3" width="1.7" height="2.0" opacity="0.33"/><rect x="190.5" y="151.4" width="1.7" height="2.0" opacity="0.33"/><rect x="192.2" y="153.4" width="1.7" height="2.0" opacity="0.10"/><rect x="192.2" y="149.4" width="1.7" height="2.0" opacity="0.16"/><rect x="192.2" y="147.4" width="1.7" height="2.0" opacity="0.29"/><rect x="192.2" y="145.4" width="1.7" height="2.0" opacity="0.19"/><rect x="194.0" y="157.3" width="1.7" height="2.0" opacity="0.11"/><rect x="194.0" y="155.3" width="1.7" height="2.0" opacity="0.23"/><rect x="194.0" y="153.4" width="1.7" height="2.0" opacity="0.17"/><rect x="194.0" y="151.4" width="1.7" height="2.0" opacity="0.32"/><rect x="195.7" y="157.3" width="1.7" height="2.0" opacity="0.15"/><rect x="195.7" y="155.3" width="1.7" height="2.0" opacity="0.10"/><rect x="195.7" y="149.4" width="1.7" height="2.0" opacity="0.18"/><rect x="197.5" y="157.3" width="1.7" height="2.0" opacity="0.10"/><rect x="197.5" y="149.4" width="1.7" height="2.0" opacity="0.22"/><rect x="197.5" y="147.4" width="1.7" height="2.0" opacity="0.36"/><rect x="201.1" y="136.9" width="1.9" height="2.1" opacity="0.18"/><rect x="202.9" y="143.3" width="1.9" height="2.1" opacity="0.30"/><rect x="202.9" y="141.2" width="1.9" height="2.1" opacity="0.19"/><rect x="202.9" y="136.9" width="1.9" height="2.1" opacity="0.19"/><rect x="202.9" y="132.6" width="1.9" height="2.1" opacity="0.09"/><rect x="204.8" y="134.8" width="1.9" height="2.1" opacity="0.31"/><rect x="206.7" y="141.2" width="1.9" height="2.1" opacity="0.14"/><rect x="206.7" y="139.0" width="1.9" height="2.1" opacity="0.27"/><rect x="208.5" y="143.3" width="1.9" height="2.1" opacity="0.08"/><rect x="208.5" y="136.9" width="1.9" height="2.1" opacity="0.25"/><rect x="208.5" y="134.8" width="1.9" height="2.1" opacity="0.23"/><rect x="210.4" y="128.5" width="1.8" height="2.1" opacity="0.24"/><rect x="210.4" y="126.4" width="1.8" height="2.1" opacity="0.09"/><rect x="212.2" y="130.6" width="1.8" height="2.1" opacity="0.20"/><rect x="212.2" y="126.4" width="1.8" height="2.1" opacity="0.14"/><rect x="212.2" y="124.3" width="1.8" height="2.1" opacity="0.20"/><rect x="214.1" y="130.6" width="1.8" height="2.1" opacity="0.27"/><rect x="214.1" y="128.5" width="1.8" height="2.1" opacity="0.36"/><rect x="214.1" y="124.3" width="1.8" height="2.1" opacity="0.20"/><rect x="215.9" y="128.5" width="1.8" height="2.1" opacity="0.07"/><rect x="215.9" y="126.4" width="1.8" height="2.1" opacity="0.32"/><rect x="217.7" y="130.6" width="1.8" height="2.1" opacity="0.13"/><rect x="217.7" y="128.5" width="1.8" height="2.1" opacity="0.08"/><rect x="217.7" y="126.4" width="1.8" height="2.1" opacity="0.29"/><rect x="217.7" y="124.3" width="1.8" height="2.1" opacity="0.32"/><rect x="217.7" y="120.1" width="1.8" height="2.1" opacity="0.20"/><rect x="219.6" y="130.6" width="1.8" height="2.1" opacity="0.07"/><rect x="219.6" y="128.5" width="1.8" height="2.1" opacity="0.19"/><rect x="219.6" y="126.4" width="1.8" height="2.1" opacity="0.15"/><rect x="223.1" y="118.2" width="1.7" height="1.9" opacity="0.29"/><rect x="223.1" y="114.3" width="1.7" height="1.9" opacity="0.19"/><rect x="223.1" y="112.3" width="1.7" height="1.9" opacity="0.18"/><rect x="223.1" y="110.4" width="1.7" height="1.9" opacity="0.14"/><rect x="224.8" y="118.2" width="1.7" height="1.9" opacity="0.26"/><rect x="224.8" y="116.2" width="1.7" height="1.9" opacity="0.23"/><rect x="224.8" y="112.3" width="1.7" height="1.9" opacity="0.20"/><rect x="224.8" y="110.4" width="1.7" height="1.9" opacity="0.09"/><rect x="224.8" y="108.5" width="1.7" height="1.9" opacity="0.12"/><rect x="226.5" y="116.2" width="1.7" height="1.9" opacity="0.24"/><rect x="226.5" y="114.3" width="1.7" height="1.9" opacity="0.08"/><rect x="226.5" y="110.4" width="1.7" height="1.9" opacity="0.36"/><rect x="226.5" y="108.5" width="1.7" height="1.9" opacity="0.21"/><rect x="228.2" y="116.2" width="1.7" height="1.9" opacity="0.17"/><rect x="228.2" y="114.3" width="1.7" height="1.9" opacity="0.14"/><rect x="228.2" y="112.3" width="1.7" height="1.9" opacity="0.25"/><rect x="228.2" y="108.5" width="1.7" height="1.9" opacity="0.22"/><rect x="229.9" y="114.3" width="1.7" height="1.9" opacity="0.07"/><rect x="229.9" y="112.3" width="1.7" height="1.9" opacity="0.13"/><rect x="231.6" y="104.7" width="1.7" height="1.9" opacity="0.33"/><rect x="231.6" y="102.8" width="1.7" height="1.9" opacity="0.13"/><rect x="231.6" y="98.9" width="1.7" height="1.9" opacity="0.20"/><rect x="233.3" y="106.6" width="1.7" height="1.9" opacity="0.17"/><rect x="233.3" y="97.0" width="1.7" height="1.9" opacity="0.17"/><rect x="234.9" y="106.6" width="1.7" height="1.9" opacity="0.21"/><rect x="234.9" y="104.7" width="1.7" height="1.9" opacity="0.35"/><rect x="234.9" y="100.9" width="1.7" height="1.9" opacity="0.09"/><rect x="236.6" y="104.7" width="1.7" height="1.9" opacity="0.24"/><rect x="236.6" y="102.8" width="1.7" height="1.9" opacity="0.28"/><rect x="238.3" y="106.6" width="1.7" height="1.9" opacity="0.17"/><rect x="238.3" y="100.9" width="1.7" height="1.9" opacity="0.21"/><rect x="238.3" y="97.0" width="1.7" height="1.9" opacity="0.12"/><rect x="239.9" y="102.8" width="1.7" height="1.9" opacity="0.08"/><rect x="239.9" y="98.9" width="1.7" height="1.9" opacity="0.24"/><rect x="241.6" y="93.2" width="1.7" height="1.9" opacity="0.12"/><rect x="241.6" y="91.3" width="1.7" height="1.9" opacity="0.29"/><rect x="243.3" y="95.1" width="1.7" height="1.9" opacity="0.32"/><rect x="243.3" y="91.3" width="1.7" height="1.9" opacity="0.33"/><rect x="243.3" y="89.4" width="1.7" height="1.9" opacity="0.07"/><rect x="245.0" y="93.2" width="1.7" height="1.9" opacity="0.28"/><rect x="245.0" y="89.4" width="1.7" height="1.9" opacity="0.30"/><rect x="245.0" y="87.4" width="1.7" height="1.9" opacity="0.24"/><rect x="245.0" y="85.5" width="1.7" height="1.9" opacity="0.17"/><rect x="245.0" y="83.6" width="1.7" height="1.9" opacity="0.10"/><rect x="246.7" y="95.1" width="1.7" height="1.9" opacity="0.12"/><rect x="246.7" y="91.3" width="1.7" height="1.9" opacity="0.19"/><rect x="246.7" y="87.4" width="1.7" height="1.9" opacity="0.32"/><rect x="246.7" y="85.5" width="1.7" height="1.9" opacity="0.20"/><rect x="248.3" y="93.2" width="1.7" height="1.9" opacity="0.19"/><rect x="248.3" y="91.3" width="1.7" height="1.9" opacity="0.13"/><rect x="248.3" y="85.5" width="1.7" height="1.9" opacity="0.16"/><rect x="248.3" y="83.6" width="1.7" height="1.9" opacity="0.26"/><rect x="250.0" y="87.4" width="1.7" height="1.9" opacity="0.36"/><rect x="251.7" y="91.3" width="1.7" height="1.9" opacity="0.16"/><rect x="251.7" y="89.4" width="1.7" height="1.9" opacity="0.11"/><rect x="251.7" y="85.5" width="1.7" height="1.9" opacity="0.28"/><rect x="253.4" y="79.4" width="1.8" height="2.1" opacity="0.24"/><rect x="253.4" y="77.4" width="1.8" height="2.1" opacity="0.10"/><rect x="255.2" y="77.4" width="1.8" height="2.1" opacity="0.31"/><rect x="255.2" y="75.3" width="1.8" height="2.1" opacity="0.11"/><rect x="257.0" y="79.4" width="1.8" height="2.1" opacity="0.30"/><rect x="257.0" y="75.3" width="1.8" height="2.1" opacity="0.34"/><rect x="258.9" y="79.4" width="1.8" height="2.1" opacity="0.29"/><rect x="258.9" y="73.2" width="1.8" height="2.1" opacity="0.33"/><rect x="260.7" y="79.4" width="1.8" height="2.1" opacity="0.10"/><rect x="260.7" y="77.4" width="1.8" height="2.1" opacity="0.19"/><rect x="260.7" y="75.3" width="1.8" height="2.1" opacity="0.17"/><rect x="262.5" y="69.0" width="1.8" height="2.1" opacity="0.12"/><rect x="262.5" y="67.0" width="1.8" height="2.1" opacity="0.13"/><rect x="262.5" y="64.9" width="1.8" height="2.1" opacity="0.11"/><rect x="264.3" y="67.0" width="1.8" height="2.1" opacity="0.33"/><rect x="266.1" y="64.9" width="1.8" height="2.1" opacity="0.27"/><rect x="268.0" y="69.0" width="1.8" height="2.1" opacity="0.08"/><rect x="268.0" y="62.8" width="1.8" height="2.1" opacity="0.31"/><rect x="269.8" y="71.1" width="1.8" height="2.1" opacity="0.12"/><rect x="269.8" y="69.0" width="1.8" height="2.1" opacity="0.19"/><rect x="269.8" y="64.9" width="1.8" height="2.1" opacity="0.24"/><rect x="271.6" y="58.3" width="2.0" height="2.3" opacity="0.15"/><rect x="271.6" y="53.8" width="2.0" height="2.3" opacity="0.24"/><rect x="273.6" y="60.6" width="2.0" height="2.3" opacity="0.34"/><rect x="273.6" y="56.0" width="2.0" height="2.3" opacity="0.24"/><rect x="273.6" y="53.8" width="2.0" height="2.3" opacity="0.30"/><rect x="273.6" y="51.5" width="2.0" height="2.3" opacity="0.22"/><rect x="275.6" y="60.6" width="2.0" height="2.3" opacity="0.22"/><rect x="275.6" y="58.3" width="2.0" height="2.3" opacity="0.09"/><rect x="275.6" y="53.8" width="2.0" height="2.3" opacity="0.36"/><rect x="277.5" y="56.0" width="2.0" height="2.3" opacity="0.10"/><rect x="277.5" y="51.5" width="2.0" height="2.3" opacity="0.13"/><rect x="279.5" y="58.3" width="2.0" height="2.3" opacity="0.15"/><rect x="279.5" y="56.0" width="2.0" height="2.3" opacity="0.23"/><rect x="279.5" y="53.8" width="2.0" height="2.3" opacity="0.22"/><rect x="281.5" y="47.0" width="2.0" height="2.3" opacity="0.22"/><rect x="283.5" y="49.3" width="2.0" height="2.3" opacity="0.17"/><rect x="283.5" y="44.7" width="2.0" height="2.3" opacity="0.28"/><rect x="287.4" y="49.3" width="2.0" height="2.3" opacity="0.15"/><rect x="287.4" y="44.7" width="2.0" height="2.3" opacity="0.26"/><rect x="287.4" y="40.2" width="2.0" height="2.3" opacity="0.35"/><rect x="289.4" y="49.3" width="2.0" height="2.3" opacity="0.13"/><rect x="289.4" y="44.7" width="2.0" height="2.3" opacity="0.09"/><rect x="291.4" y="33.4" width="2.0" height="2.3" opacity="0.07"/><rect x="293.4" y="37.9" width="2.0" height="2.3" opacity="0.23"/><rect x="293.4" y="33.4" width="2.0" height="2.3" opacity="0.30"/><rect x="295.4" y="37.9" width="2.0" height="2.3" opacity="0.08"/><rect x="297.4" y="35.7" width="2.0" height="2.3" opacity="0.15"/><rect x="297.4" y="33.4" width="2.0" height="2.3" opacity="0.09"/></g><line x1="57.5" y1="307.1" x2="299.4" y2="31.1" stroke="#f39a58" stroke-width="3.0" opacity="0.5" filter="url(#bl0)"/><line x1="57.5" y1="307.1" x2="299.4" y2="31.1" stroke="#e85a22" stroke-width="1.0"/><path d="M57.5 27.7V311.4M51.8 307.1H303M76.3 27.7V311.4M51.8 285.6H303M93.6 27.7V311.4M51.8 265.9H303M111.5 27.7V311.4M51.8 245.5H303M126.4 27.7V311.4M51.8 228.5H303M141.5 27.7V311.4M51.8 211.3H303M157.5 27.7V311.4M51.8 193.0H303M171.4 27.7V311.4M51.8 177.1H303M185.3 27.7V311.4M51.8 161.3H303M199.2 27.7V311.4M51.8 145.4H303M210.4 27.7V311.4M51.8 132.6H303M221.4 27.7V311.4M51.8 120.1H303M231.6 27.7V311.4M51.8 108.5H303M241.6 27.7V311.4M51.8 97.0H303M253.4 27.7V311.4M51.8 83.6H303M262.5 27.7V311.4M51.8 73.2H303M271.6 27.7V311.4M51.8 62.8H303M281.5 27.7V311.4M51.8 51.5H303M291.4 27.7V311.4M51.8 40.2H303M299.4 27.7V311.4M51.8 31.1H303" stroke="#85857a" stroke-width="0.55" stroke-dasharray="1.2 1.6" fill="none"/><text x="50.6" y="310.0" text-anchor="end" font-size="7.1">Chr7</text><text x="50.6" y="288.5" text-anchor="end" font-size="7.1">Chr2</text><text x="50.6" y="268.8" text-anchor="end" font-size="7.1">Chr1</text><text x="50.6" y="248.4" text-anchor="end" font-size="7.1">Chr3</text><text x="50.6" y="231.4" text-anchor="end" font-size="7.1">Chr5</text><text x="50.6" y="214.2" text-anchor="end" font-size="7.1">Chr10</text><text x="50.6" y="195.9" text-anchor="end" font-size="7.1">Chr6</text><text x="50.6" y="180.0" text-anchor="end" font-size="7.1">Chr4</text><text x="50.6" y="164.2" text-anchor="end" font-size="7.1">Chr9</text><text x="50.6" y="148.3" text-anchor="end" font-size="7.1">Chr8</text><text x="50.6" y="135.5" text-anchor="end" font-size="7.1">Chr18</text><text x="50.6" y="123.0" text-anchor="end" font-size="7.1">Chr19</text><text x="50.6" y="111.4" text-anchor="end" font-size="7.1">Chr16</text><text x="50.6" y="99.9" text-anchor="end" font-size="7.1">Chr14</text><text x="50.6" y="86.5" text-anchor="end" font-size="7.1">Chr11</text><text x="50.6" y="76.1" text-anchor="end" font-size="7.1">Chr13</text><text x="50.6" y="65.7" text-anchor="end" font-size="7.1">Chr17</text><text x="50.6" y="54.4" text-anchor="end" font-size="7.1">Chr12</text><text x="50.6" y="43.1" text-anchor="end" font-size="7.1">Chr15</text><text transform="translate(59.1 313.1) rotate(-45)" text-anchor="end" font-size="7.1" dy="0.55em">Chr7</text><text transform="translate(77.9 313.1) rotate(-45)" text-anchor="end" font-size="7.1" dy="0.55em">Chr2</text><text transform="translate(95.2 313.1) rotate(-45)" text-anchor="end" font-size="7.1" dy="0.55em">Chr1</text><text transform="translate(113.1 313.1) rotate(-45)" text-anchor="end" font-size="7.1" dy="0.55em">Chr3</text><text transform="translate(128.0 313.1) rotate(-45)" text-anchor="end" font-size="7.1" dy="0.55em">Chr5</text><text transform="translate(143.1 313.1) rotate(-45)" text-anchor="end" font-size="7.1" dy="0.55em">Chr10</text><text transform="translate(159.1 313.1) rotate(-45)" text-anchor="end" font-size="7.1" dy="0.55em">Chr6</text><text transform="translate(173.0 313.1) rotate(-45)" text-anchor="end" font-size="7.1" dy="0.55em">Chr4</text><text transform="translate(186.9 313.1) rotate(-45)" text-anchor="end" font-size="7.1" dy="0.55em">Chr9</text><text transform="translate(200.8 313.1) rotate(-45)" text-anchor="end" font-size="7.1" dy="0.55em">Chr8</text><text transform="translate(212.0 313.1) rotate(-45)" text-anchor="end" font-size="7.1" dy="0.55em">Chr18</text><text transform="translate(223.0 313.1) rotate(-45)" text-anchor="end" font-size="7.1" dy="0.55em">Chr19</text><text transform="translate(233.2 313.1) rotate(-45)" text-anchor="end" font-size="7.1" dy="0.55em">Chr16</text><text transform="translate(243.2 313.1) rotate(-45)" text-anchor="end" font-size="7.1" dy="0.55em">Chr14</text><text transform="translate(255.0 313.1) rotate(-45)" text-anchor="end" font-size="7.1" dy="0.55em">Chr11</text><text transform="translate(264.1 313.1) rotate(-45)" text-anchor="end" font-size="7.1" dy="0.55em">Chr13</text><text transform="translate(273.2 313.1) rotate(-45)" text-anchor="end" font-size="7.1" dy="0.55em">Chr17</text><text transform="translate(283.1 313.1) rotate(-45)" text-anchor="end" font-size="7.1" dy="0.55em">Chr12</text><text transform="translate(293.0 313.1) rotate(-45)" text-anchor="end" font-size="7.1" dy="0.55em">Chr15</text><text x="166" y="339.9" text-anchor="middle" font-size="10.8">Order position</text><text transform="translate(20.2 164.3) rotate(-90)" text-anchor="middle" font-size="10.8">Order position</text><defs><linearGradient id="lg" x1="0" y1="1" x2="0" y2="0"><stop offset="0" stop-color="#fffbd0"/><stop offset="0.12" stop-color="#fed976"/><stop offset="0.25" stop-color="#fd8d3c"/><stop offset="0.45" stop-color="#e31a1c"/><stop offset="0.7" stop-color="#a00026"/><stop offset="0.87" stop-color="#4a0010"/><stop offset="1" stop-color="#000"/></linearGradient></defs><rect x="311.2" y="137.8" width="7.9" height="39.5" fill="url(#lg)"/><text x="306.9" y="134.2" font-size="7">Log2(N links)</text><text x="321.8" y="143.2" font-size="5.6">8</text><path d="M311.2 141.2h1.6M319.1 141.2h-1.6" stroke="#fff" stroke-width="0.5"/><text x="321.8" y="152.0" font-size="5.6">6</text><path d="M311.2 150.0h1.6M319.1 150.0h-1.6" stroke="#fff" stroke-width="0.5"/><text x="321.8" y="161.0" font-size="5.6">4</text><path d="M311.2 159.0h1.6M319.1 159.0h-1.6" stroke="#fff" stroke-width="0.5"/><text x="321.8" y="169.9" font-size="5.6">2</text><path d="M311.2 167.9h1.6M319.1 167.9h-1.6" stroke="#fff" stroke-width="0.5"/><text x="321.8" y="178.8" font-size="5.6">0</text><path d="M311.2 176.8h1.6M319.1 176.8h-1.6" stroke="#fff" stroke-width="0.5"/><text x="-0.8" y="20.7" font-size="28.5">a</text>
<path d="M535.87 29.03A141.9 141.9 0 0 1 594.88 44.70L592.77 48.79A137.3 137.3 0 0 0 535.67 33.63Z" fill="#9e0142"/><path d="M596.74 45.68A141.9 141.9 0 0 1 636.62 77.39L633.15 80.42A137.3 137.3 0 0 0 594.57 49.74Z" fill="#f46d43"/><path d="M637.99 78.98A141.9 141.9 0 0 1 663.68 123.76L659.34 125.28A137.3 137.3 0 0 0 634.48 81.96Z" fill="#d53e4f"/><path d="M664.36 125.75A141.9 141.9 0 0 1 671.51 163.46L666.92 163.70A137.3 137.3 0 0 0 660.00 127.21Z" fill="#e3d000"/><path d="M671.60 165.57A141.9 141.9 0 0 1 669.32 196.70L664.79 195.86A137.3 137.3 0 0 0 667.01 165.74Z" fill="#e3d000"/><path d="M668.92 198.77A141.9 141.9 0 0 1 651.86 243.17L647.90 240.82A137.3 137.3 0 0 0 664.41 197.86Z" fill="#238b45"/><path d="M650.77 244.97A141.9 141.9 0 0 1 630.18 271.10L626.92 267.85A137.3 137.3 0 0 0 646.85 242.57Z" fill="#a1d99b"/><path d="M628.68 272.58A141.9 141.9 0 0 1 608.95 288.58L606.38 284.76A137.3 137.3 0 0 0 625.47 269.28Z" fill="#3288bd"/><path d="M607.19 289.74A141.9 141.9 0 0 1 576.72 304.72L575.20 300.38A137.3 137.3 0 0 0 604.68 285.88Z" fill="#66c2a5"/><path d="M574.73 305.40A141.9 141.9 0 0 1 540.44 312.30L540.09 307.71A137.3 137.3 0 0 0 573.27 301.04Z" fill="#5e4fa2"/><path d="M529.06 312.70A141.9 141.9 0 0 1 491.66 307.48L492.89 303.05A137.3 137.3 0 0 0 529.08 308.10Z" fill="#5e4fa2"/><path d="M489.63 306.90A141.9 141.9 0 0 1 458.11 293.26L460.43 289.29A137.3 137.3 0 0 0 490.94 302.48Z" fill="#66c2a5"/><path d="M456.30 292.18A141.9 141.9 0 0 1 425.01 266.48L428.41 263.38A137.3 137.3 0 0 0 458.68 288.25Z" fill="#3288bd"/><path d="M423.60 264.92A141.9 141.9 0 0 1 404.26 236.95L408.33 234.80A137.3 137.3 0 0 0 427.05 261.86Z" fill="#a1d99b"/><path d="M403.29 235.08A141.9 141.9 0 0 1 388.38 182.40L392.96 182.03A137.3 137.3 0 0 0 407.39 232.99Z" fill="#238b45"/><path d="M388.22 180.30A141.9 141.9 0 0 1 398.51 116.96L402.77 118.71A137.3 137.3 0 0 0 392.81 179.99Z" fill="#e3d000"/><path d="M399.32 115.02A141.9 141.9 0 0 1 425.60 74.48L428.98 77.60A137.3 137.3 0 0 0 403.55 116.83Z" fill="#d53e4f"/><path d="M427.04 72.94A141.9 141.9 0 0 1 464.60 44.76L466.72 48.85A137.3 137.3 0 0 0 430.37 76.11Z" fill="#f46d43"/><path d="M466.48 43.81A141.9 141.9 0 0 1 523.73 29.03L523.93 33.63A137.3 137.3 0 0 0 468.53 47.93Z" fill="#9e0142"/><circle cx="529.8" cy="170.8" r="142.60" pathLength="360" stroke="#888" stroke-width="1.4" stroke-dasharray="0 0.29 0.16 0.46 0.16 0.46 0.16 0.46 0.16 0.46 0.16 0.46 0.16 0.46 0.16 0.46 0.16 0.46 0.16 0.46 0.16 0.46 0.16 0.46 0.16 0.46 0.16 0.46 0.16 0.46 0.16 0.46 0.16 0.46 0.16 0.92 0.16 0.46 0.16 0.46 0.16 0.46 0.16 0.46 0.16 0.46 0.16 0.46 0.16 0.46 0.16 0.46 0.16 0.46 0.16 0.46 0.16 0.46 0.16 0.46 0.16 0.46 0.16 0.46 0.16 0.46 0.16 0.46 0.16 0.46 0.16 0.46 0.16 0.46 0.16 0.46 0.16 0.46 0.16 0.46 0.16 0.46 0.16 0.46 0.16 0.46 0.16 0.46 0.16 0.46 0.16 0.46 0.16 0.46 0.16 0.46 0.16 0.46 0.16 0.76 0.16 0.46 0.16 0.46 0.16 0.46 0.16 0.46 0.16 0.46 0.16 0.46 0.16 0.46 0.16 0.46 0.16 0.46 0.16 0.46 0.16 0.46 0.16 0.46 0.16 0.46 0.16 0.46 0.16 0.46 0.16 0.46 0.16 0.46 0.16 0.46 0.16 0.46 0.16 0.46 0.16 0.46 0.16 1.13 0.16 0.46 0.16 0.46 0.16 0.46 0.16 0.46 0.16 0.46 0.16 0.46 0.16 0.46 0.16 0.46 0.16 0.46 0.16 0.46 0.16 0.46 0.16 0.46 0.16 0.46 0.16 0.46 0.16 0.46 0.16 0.46 0.16 1.04 0.16 0.46 0.16 0.46 0.16 0.46 0.16 0.46 0.16 0.46 0.16 0.46 0.16 0.46 0.16 0.46 0.16 0.46 0.16 0.46 0.16 0.46 0.16 0.46 0.16 0.46 0.16 0.46 0.16 0.46 0.16 0.46 0.16 0.46 0.16 0.46 0.16 0.46 0.16 0.46 0.16 0.46 0.16 0.46 0.16 0.79 0.16 0.46 0.16 0.46 0.16 0.46 0.16 0.46 0.16 0.46 0.16 0.46 0.16 0.46 0.16 0.46 0.16 0.46 0.16 0.46 0.16 0.46 0.16 0.46 0.16 0.46 0.16 0.46 0.16 0.46 0.16 0.46 0.16 0.46 0.16 0.46 0.16 0.46 0.16 0.46 0.16 0.46 0.16 0.46 0.16 4.96 0.16 0.46 0.16 0.46 0.16 0.46 0.16 0.46 0.16 0.46 0.16 0.46 0.16 0.46 0.16 0.46 0.16 0.46 0.16 0.46 0.16 0.46 0.16 0.46 0.16 0.46 0.16 0.46 0.16 0.46 0.16 0.46 0.16 0.46 0.16 0.46 0.16 0.46 0.16 0.46 0.16 0.46 0.16 0.46 0.16 0.46 0.16 0.46 0.16 1.1 0.16 0.46 0.16 0.46 0.16 0.46 0.16 0.46 0.16 0.46 0.16 0.46 0.16 0.46 0.16 0.46 0.16 0.46 0.16 0.46 0.16 0.46 0.16 0.46 0.16 0.46 0.16 0.46 0.16 0.46 0.16 0.46 0.16 0.46 0.16 0.46 0.16 0.46 0.16 0.46 0.16 0.46 0.16 0.46 0.16 0.95 0.16 0.46 0.16 0.46 0.16 0.46 0.16 0.46 0.16 0.46 0.16 0.46 0.16 0.46 0.16 0.46 0.16 0.46 0.16 0.46 0.16 0.46 0.16 0.46 0.16 0.46 0.16 0.46 0.16 0.46 0.16 0.46 0.16 0.46 0.16 0.46 0.16 0.46 0.16 0.46 0.16 0.46 0.16 0.46 0.16 0.46 0.16 0.46 0.16 0.46 0.16 0.46 0.16 0.98 0.16 0.46 0.16 0.46 0.16 0.46 0.16 0.46 0.16 0.46 0.16 0.46 0.16 0.46 0.16 0.46 0.16 0.46 0.16 0.46 0.16 0.46 0.16 0.46 0.16 0.46 0.16 0.46 0.16 0.46 0.16 0.46 0.16 0.46 0.16 0.46 0.16 0.46 0.16 0.46 0.16 0.46 0.16 0.46 0.16 0.81 0.16 0.46 0.16 0.46 0.16 0.46 0.16 0.46 0.16 0.46 0.16 0.46 0.16 0.46 0.16 0.46 0.16 0.46 0.16 0.46 0.16 0.46 0.16 0.46 0.16 0.46 0.16 0.46 0.16 0.46 0.16 0.46 0.16 0.46 0.16 0.46 0.16 0.46 0.16 0.46 0.16 0.46 0.16 0.46 0.16 0.46 0.16 0.46 0.16 0.46 0.16 0.46 0.16 0.46 0.16 0.46 0.16 0.46 0.16 0.46 0.16 0.46 0.16 0.46 0.16 0.46 0.16 0.46 0.16 0.46 0.16 1.23 0.16 0.46 0.16 0.46 0.16 0.46 0.16 0.46 0.16 0.46 0.16 0.46 0.16 0.46 0.16 0.46 0.16 0.46 0.16 0.46 0.16 0.46 0.16 0.46 0.16 0.46 0.16 0.46 0.16 0.46 0.16 0.46 0.16 0.46 0.16 0.46 0.16 0.46 0.16 0.46 0.16 0.46 0.16 0.46 0.16 0.46 0.16 0.46 0.16 0.46 0.16 0.46 0.16 0.46 0.16 0.46 0.16 0.46 0.16 0.46 0.16 0.46 0.16 0.46 0.16 0.46 0.16 0.46 0.16 0.46 0.16 0.46 0.16 0.46 0.16 0.46 0.16 0.46 0.16 0.46 0.16 0.46 0.16 0.46 0.16 0.79 0.16 0.46 0.16 0.46 0.16 0.46 0.16 0.46 0.16 0.46 0.16 0.46 0.16 0.46 0.16 0.46 0.16 0.46 0.16 0.46 0.16 0.46 0.16 0.46 0.16 0.46 0.16 0.46 0.16 0.46 0.16 0.46 0.16 0.46 0.16 0.46 0.16 0.46 0.16 0.46 0.16 0.46 0.16 0.46 0.16 0.46 0.16 0.46 0.16 0.46 0.16 0.46 0.16 0.46 0.16 0.46 0.16 0.46 0.16 0.46 0.16 0.46 0.16 1.07 0.16 0.46 0.16 0.46 0.16 0.46 0.16 0.46 0.16 0.46 0.16 0.46 0.16 0.46 0.16 0.46 0.16 0.46 0.16 0.46 0.16 0.46 0.16 0.46 0.16 0.46 0.16 0.46 0.16 0.46 0.16 0.46 0.16 0.46 0.16 0.46 0.16 0.46 0.16 0.46 0.16 0.46 0.16 0.46 0.16 0.46 0.16 0.46 0.16 0.46 0.16 0.46 0.16 0.46 0.16 0.46 0.16 0.46 0.16 0.46 0.16 1.14 0.16 0.46 0.16 0.46 0.16 0.46 0.16 0.46 0.16 0.46 0.16 0.46 0.16 0.46 0.16 0.46 0.16 0.46 0.16 0.46 0.16 0.46 0.16 0.46 0.16 0.46 0.16 0.46 0.16 0.46 0.16 0.46 0.16 0.46 0.16 0.46 0.16 0.46 0.16 0.46 0.16 0.46 0.16 0.46 0.16 0.46 0.16 0.46 0.16 0.46 0.16 0.46 0.16 0.46 0.16 0.46 0.16 0.46 0.16 0.46 0.16 0.46 0.16 0.46 0.16 0.46 0.16 0.46 0.16 0.46 0.16 0.46 0.16 0.46 0.16 0.46 0.16 5.23 0.16 0.46 0.16 0.46 0.16 0.46 0.16 0.46 0.16 0.46 0.16 0.46 0.16 0.46 0.16 0.46 0.16 0.46 0.16 0.46 0.16 0.46 0.16 0.46 0.16 0.46 0.16 0.46 0.16 0.46 0.16 0.46 0.16 0.46 0.16 0.46 0.16 0.46 0.16 0.46 0.16 0.46 0.16 0.46 0.16 0.46 0.16 0.46 0.16 0.46 0.16 0.46 0.16 0.46 0.16 0.46 0.16 0.46 0.16 0.46 0.16 0.46 0.16 0.46 0.16 0.46 0.16 0.46 0.16 0.46 0.16 0.46 0.16 0.46 0.16 0.46 0.16 0.46 0.16 0.46 0.16 0.74 0.16 0.46 0.16 0.46 0.16 0.46 0.16 0.46 0.16 0.46 0.16 0.46 0.16 0.46 0.16 0.46 0.16 0.46 0.16 0.46 0.16 0.46 0.16 0.46 0.16 0.46 0.16 0.46 0.16 0.46 0.16 0.46 0.16 0.46 0.16 0.46 0.16 0.46 0.16 0.46 0.16 0.46 0.16 0.46 0.16 0.46 0.16 0.46 0.16 0.46 0.16 0.46 0.16 0.46 0.16 0.46 0.16 0.46 0.16 0.46 0.16 0.46 0.16 0.46 0.16 0.46 0.16 0.91 0.16 0.46 0.16 0.46 0.16 0.46 0.16 0.46 0.16 0.46 0.16 0.46 0.16 0.46 0.16 0.46 0.16 0.46 0.16 0.46 0.16 0.46 0.16 0.46 0.16 0.46 0.16 0.46 0.16 0.46 0.16 0.46 0.16 0.46 0.16 0.46 0.16 0.46 0.16 0.46 0.16 0.46 0.16 0.46 0.16 0.46 0.16 0.46 0.16 0.46 0.16 0.46 0.16 0.46 0.16 0.46 0.16 0.46 0.16 0.46 0.16 0.46 0.16 0.46 0.16 0.46 0.16 1.19 0.16 0.46 0.16 0.46 0.16 0.46 0.16 0.46 0.16 0.46 0.16 0.46 0.16 0.46 0.16 0.46 0.16 0.46 0.16 0.46 0.16 0.46 0.16 0.46 0.16 0.46 0.16 0.46 0.16 0.46 0.16 0.46 0.16 0.46 0.16 0.46 0.16 0.46 0.16 0.46 0.16 0.46 0.16 0.46 0.16 0.46 0.16 0.46 0.16 0.46 0.16 0.74 0.16 0.46 0.16 0.46 0.16 0.46 0.16 0.17" fill="none"/><g font-size="3.2" fill="#8a8a8a"><text transform="translate(536.0 26.3) rotate(-88)" dy="1.1">0</text><text transform="translate(546.4 27.2) rotate(-83)" dy="1.1">25</text><text transform="translate(556.7 28.7) rotate(-79)" dy="1.1">50</text><text transform="translate(566.9 31.0) rotate(-75)" dy="1.1">75</text><text transform="translate(576.9 34.1) rotate(-71)" dy="1.1">100</text><text transform="translate(586.7 37.8) rotate(-67)" dy="1.1">125</text><text transform="translate(595.4 42.0) rotate(-63)" dy="1.1">150</text><text transform="translate(598.0 43.3) rotate(-62)" dy="1.1">0</text><text transform="translate(607.0 48.6) rotate(-58)" dy="1.1">5</text><text transform="translate(615.6 54.4) rotate(-54)" dy="1.1">10</text><text transform="translate(623.8 60.9) rotate(-49)" dy="1.1">15</text><text transform="translate(631.5 68.0) rotate(-45)" dy="1.1">20</text><text transform="translate(638.1 75.0) rotate(-41)" dy="1.1">25</text><text transform="translate(640.0 77.2) rotate(-40)" dy="1.1">0</text><text transform="translate(646.6 85.5) rotate(-36)" dy="1.1">5</text><text transform="translate(652.5 94.3) rotate(-32)" dy="1.1">10</text><text transform="translate(657.8 103.5) rotate(-28)" dy="1.1">15</text><text transform="translate(662.4 113.0) rotate(-24)" dy="1.1">20</text><text transform="translate(666.0 122.2) rotate(-20)" dy="1.1">25</text><text transform="translate(666.9 124.9) rotate(-19)" dy="1.1">0</text><text transform="translate(669.7 134.3) rotate(-15)" dy="1.1">5</text><text transform="translate(671.9 143.9) rotate(-11)" dy="1.1">10</text><text transform="translate(673.4 153.6) rotate(-7)" dy="1.1">15</text><text transform="translate(674.2 162.6) rotate(-3)" dy="1.1">20</text><text transform="translate(674.3 165.5) rotate(-2)" dy="1.1">0</text><text transform="translate(674.3 176.1) rotate(2)" dy="1.1">5</text><text transform="translate(673.5 186.7) rotate(6)" dy="1.1">10</text><text transform="translate(672.1 196.5) rotate(10)" dy="1.1">15</text><text transform="translate(671.6 199.3) rotate(11)" dy="1.1">0</text><text transform="translate(669.3 208.8) rotate(15)" dy="1.1">5</text><text transform="translate(666.5 218.1) rotate(19)" dy="1.1">10</text><text transform="translate(663.0 227.2) rotate(23)" dy="1.1">15</text><text transform="translate(658.9 236.0) rotate(27)" dy="1.1">20</text><text transform="translate(654.6 243.9) rotate(30)" dy="1.1">25</text><text transform="translate(653.1 246.4) rotate(32)" dy="1.1">0</text><text transform="translate(646.8 255.8) rotate(36)" dy="1.1">5</text><text transform="translate(639.8 264.7) rotate(40)" dy="1.1">10</text><text transform="translate(632.6 272.5) rotate(45)" dy="1.1">15</text><text transform="translate(630.6 274.5) rotate(46)" dy="1.1">0</text><text transform="translate(624.2 280.3) rotate(49)" dy="1.1">5</text><text transform="translate(617.5 285.8) rotate(53)" dy="1.1">10</text><text transform="translate(611.1 290.4) rotate(56)" dy="1.1">15</text><text transform="translate(608.7 292.0) rotate(57)" dy="1.1">0</text><text transform="translate(598.7 297.9) rotate(62)" dy="1.1">5</text><text transform="translate(588.4 303.0) rotate(66)" dy="1.1">10</text><text transform="translate(578.3 307.0) rotate(70)" dy="1.1">15</text><text transform="translate(575.6 308.0) rotate(72)" dy="1.1">0</text><text transform="translate(564.1 311.3) rotate(76)" dy="1.1">5</text><text transform="translate(552.5 313.6) rotate(81)" dy="1.1">10</text><text transform="translate(541.4 314.9) rotate(85)" dy="1.1">15</text><text transform="translate(490.9 310.1) rotate(-74)" dy="1.1" text-anchor="end">0</text><text transform="translate(500.3 312.4) rotate(-78)" dy="1.1" text-anchor="end">5</text><text transform="translate(509.8 314.0) rotate(-82)" dy="1.1" text-anchor="end">10</text><text transform="translate(519.4 315.0) rotate(-86)" dy="1.1" text-anchor="end">15</text><text transform="translate(529.0 315.4) rotate(-90)" dy="1.1" text-anchor="end">20</text><text transform="translate(456.7 295.6) rotate(-60)" dy="1.1" text-anchor="end">0</text><text transform="translate(467.1 301.1) rotate(-64)" dy="1.1" text-anchor="end">5</text><text transform="translate(477.8 305.7) rotate(-69)" dy="1.1" text-anchor="end">10</text><text transform="translate(488.9 309.5) rotate(-74)" dy="1.1" text-anchor="end">15</text><text transform="translate(423.0 268.3) rotate(-42)" dy="1.1" text-anchor="end">0</text><text transform="translate(430.3 275.7) rotate(-46)" dy="1.1" text-anchor="end">5</text><text transform="translate(438.0 282.5) rotate(-51)" dy="1.1" text-anchor="end">10</text><text transform="translate(446.2 288.8) rotate(-55)" dy="1.1" text-anchor="end">15</text><text transform="translate(454.9 294.5) rotate(-59)" dy="1.1" text-anchor="end">20</text><text transform="translate(401.9 238.2) rotate(-28)" dy="1.1" text-anchor="end">0</text><text transform="translate(407.7 248.2) rotate(-32)" dy="1.1" text-anchor="end">5</text><text transform="translate(414.3 257.7) rotate(-37)" dy="1.1" text-anchor="end">10</text><text transform="translate(421.6 266.7) rotate(-42)" dy="1.1" text-anchor="end">15</text><text transform="translate(385.7 182.6) rotate(-5)" dy="1.1" text-anchor="end">0</text><text transform="translate(387.0 193.8) rotate(-9)" dy="1.1" text-anchor="end">5</text><text transform="translate(389.2 204.8) rotate(-14)" dy="1.1" text-anchor="end">10</text><text transform="translate(392.3 215.6) rotate(-18)" dy="1.1" text-anchor="end">15</text><text transform="translate(396.2 226.1) rotate(-22)" dy="1.1" text-anchor="end">20</text><text transform="translate(400.9 236.3) rotate(-27)" dy="1.1" text-anchor="end">25</text><text transform="translate(396.0 115.9) rotate(22)" dy="1.1" text-anchor="end">0</text><text transform="translate(392.2 126.3) rotate(18)" dy="1.1" text-anchor="end">25</text><text transform="translate(389.2 136.8) rotate(14)" dy="1.1" text-anchor="end">50</text><text transform="translate(387.1 147.6) rotate(9)" dy="1.1" text-anchor="end">75</text><text transform="translate(385.7 158.5) rotate(5)" dy="1.1" text-anchor="end">100</text><text transform="translate(385.2 169.5) rotate(1)" dy="1.1" text-anchor="end">125</text><text transform="translate(385.5 180.5) rotate(-4)" dy="1.1" text-anchor="end">150</text><text transform="translate(423.6 72.6) rotate(43)" dy="1.1" text-anchor="end">0</text><text transform="translate(417.2 80.1) rotate(39)" dy="1.1" text-anchor="end">5</text><text transform="translate(411.2 88.0) rotate(35)" dy="1.1" text-anchor="end">10</text><text transform="translate(405.8 96.3) rotate(31)" dy="1.1" text-anchor="end">15</text><text transform="translate(401.0 105.0) rotate(27)" dy="1.1" text-anchor="end">20</text><text transform="translate(396.8 114.0) rotate(23)" dy="1.1" text-anchor="end">25</text><text transform="translate(463.4 42.4) rotate(63)" dy="1.1" text-anchor="end">0</text><text transform="translate(455.0 47.1) rotate(59)" dy="1.1" text-anchor="end">5</text><text transform="translate(446.9 52.3) rotate(55)" dy="1.1" text-anchor="end">10</text><text transform="translate(439.2 58.1) rotate(51)" dy="1.1" text-anchor="end">15</text><text transform="translate(431.9 64.3) rotate(47)" dy="1.1" text-anchor="end">20</text><text transform="translate(425.1 71.1) rotate(44)" dy="1.1" text-anchor="end">25</text><text transform="translate(523.6 26.3) rotate(88)" dy="1.1" text-anchor="end">0</text><text transform="translate(513.5 27.1) rotate(84)" dy="1.1" text-anchor="end">25</text><text transform="translate(503.5 28.6) rotate(80)" dy="1.1" text-anchor="end">50</text><text transform="translate(493.7 30.8) rotate(76)" dy="1.1" text-anchor="end">75</text><text transform="translate(484.0 33.7) rotate(72)" dy="1.1" text-anchor="end">100</text><text transform="translate(474.5 37.2) rotate(68)" dy="1.1" text-anchor="end">125</text><text transform="translate(465.3 41.4) rotate(63)" dy="1.1" text-anchor="end">150</text></g><circle cx="529.8" cy="170.8" r="136.40" pathLength="360" stroke="#d5efe0" stroke-width="0.6" stroke-dasharray="0 11.37 19.29 0.85 13.46 0.85 10.27 0.85 13.74 0.85 14.16 4.6 15.29 0.85 13.9 0.85 16.41 0.85 13.76 0.85 22.24 0.85 26.14 0.85 19.6 0.85 19.05 0.85 24.05 4.9 24.85 0.85 20.68 0.85 20.96 0.85 15.55 0.85 12.63 0" fill="none"/><circle cx="529.8" cy="170.8" r="130.90" pathLength="360" stroke="#d5efe0" stroke-width="0.6" stroke-dasharray="0 11.37 19.29 0.85 13.46 0.85 10.27 0.85 13.74 0.85 14.16 4.6 15.29 0.85 13.9 0.85 16.41 0.85 13.76 0.85 22.24 0.85 26.14 0.85 19.6 0.85 19.05 0.85 24.05 4.9 24.85 0.85 20.68 0.85 20.96 0.85 15.55 0.85 12.63 0" fill="none"/><circle cx="529.8" cy="170.8" r="128.10" pathLength="360" stroke="#86d3a3" stroke-width="0.8" stroke-dasharray="0 11.37 19.29 0.85 13.46 0.85 10.27 0.85 13.74 0.85 14.16 4.6 15.29 0.85 13.9 0.85 16.41 0.85 13.76 0.85 22.24 0.85 26.14 0.85 19.6 0.85 19.05 0.85 24.05 4.9 24.85 0.85 20.68 0.85 20.96 0.85 15.55 0.85 12.63 0" fill="none"/><circle cx="529.8" cy="170.8" r="125.30" pathLength="360" stroke="#e6d100" stroke-width="1.3" stroke-dasharray="0 11.37 19.29 0.85 13.46 0.85 10.27 0.85 13.74 0.85 14.16 4.6 15.29 0.85 13.9 0.85 16.41 0.85 13.76 0.85 22.24 0.85 26.14 0.85 19.6 0.85 19.05 0.85 24.05 4.9 24.85 0.85 20.68 0.85 20.96 0.85 15.55 0.85 12.63 0" fill="none"/><path d="M535.5 36.6L536.4 37.8L537.3 37.3L538.2 37.4L539.0 37.9L540.0 37.2L540.8 37.7L541.7 38.4L542.7 37.0L543.4 38.5L544.3 39.0L545.2 39.0L546.1 38.5L547.1 37.7L547.9 38.7L548.7 39.3L549.7 38.5L550.5 39.4L551.4 39.0L552.2 39.7L553.4 38.5L554.0 40.0L554.8 40.4L555.7 40.5L556.6 40.5L557.7 39.7L558.6 39.8L559.5 39.7L560.3 40.4L560.8 41.9L562.0 40.7L562.7 41.9L563.4 42.4L564.4 42.2L565.7 40.9L566.2 42.3L567.0 42.9L568.2 41.9L569.2 41.6L569.7 43.2L570.2 44.4L571.5 43.4L572.5 43.3L573.0 44.6L574.1 44.0L574.7 45.1L575.4 45.8L576.4 45.5L577.5 45.3L578.1 46.1L579.2 45.8L579.4 47.8L580.5 47.5L581.2 47.9L581.7 49.0L583.3 47.6L583.5 49.3L584.3 49.8L585.8 48.7L586.8 48.5L587.7 48.8L587.9 50.5L589.2 49.9L589.2 51.8L590.4 51.3L591.6 51.0M592.5 53.7L593.1 54.4L594.5 53.7L595.7 53.4L596.4 54.0L597.4 54.0L597.6 55.4L598.1 56.3L598.5 57.4L599.4 57.7L601.0 56.7L600.9 58.7L601.5 59.3L602.5 59.4L602.8 60.5L603.9 60.6L604.5 61.2L605.1 61.9L606.4 61.6L607.3 61.9L608.1 62.3L609.1 62.4L609.5 63.3L610.8 63.1L610.4 65.2L611.0 65.8L611.5 66.7L612.5 66.8L613.9 66.4L615.1 66.4L615.2 67.7L615.2 69.1L616.0 69.5L617.1 69.6L617.4 70.6L618.8 70.4L620.0 70.4L619.9 71.8L620.6 72.4L621.7 72.5L621.8 73.7L621.8 75.0L623.6 74.4L624.6 74.7L623.7 76.9L625.2 76.6L625.4 77.7L625.3 79.0L625.9 79.7L626.6 80.3L628.2 80.0L628.1 81.3L628.2 82.4L629.0 82.9L630.7 82.5M631.7 84.4L632.5 84.8L632.8 85.7L632.8 86.9L632.8 88.0L633.8 88.3L634.0 89.3L634.8 89.8L636.2 89.9L636.4 90.8L637.1 91.4L637.9 91.9L637.9 93.0L638.4 93.7L640.0 93.7L640.1 94.7L640.2 95.7L640.8 96.4L641.2 97.2L641.4 98.1L643.0 98.1L642.3 99.6L644.0 99.6L644.6 100.3L645.2 101.0L644.1 102.7L644.9 103.2L646.5 103.3L645.7 104.8L645.6 105.9L647.1 106.1L646.7 107.3L647.7 107.8L647.3 109.0L649.3 109.0L648.6 110.3L648.3 111.5L649.8 111.7L649.7 112.7L650.5 113.3L650.8 114.2L652.1 114.5L651.8 115.7L651.7 116.7L651.1 117.9L652.3 118.4L652.4 119.3L653.3 119.9L654.0 120.6L654.0 121.5L653.3 122.7L654.4 123.3L654.8 124.0L655.6 124.7L656.7 125.2L655.6 126.6M656.4 128.4L655.8 129.6L657.5 130.0L656.8 131.1L658.2 131.6L658.7 132.4L657.7 133.7L659.2 134.2L658.8 135.3L658.7 136.2L659.2 137.0L660.4 137.7L659.8 138.8L659.8 139.7L659.4 140.7L660.8 141.3L660.5 142.3L660.2 143.3L659.9 144.3L660.0 145.2L661.7 145.8L662.1 146.6L662.8 147.4L662.9 148.4L662.5 149.4L662.8 150.2L662.7 151.2L663.1 152.0L663.2 152.9L661.8 154.0L663.1 154.8L662.2 155.8L661.9 156.7L663.6 157.5L661.9 158.6L662.7 159.4L662.5 160.3L663.7 161.1L663.5 162.1L664.3 162.9L664.6 163.8M663.7 165.9L662.3 166.8L663.5 167.7L662.4 168.6L664.4 169.4L664.6 170.3L663.2 171.2L662.6 172.1L663.7 173.0L664.1 173.9L664.7 174.8L664.0 175.7L662.5 176.5L663.6 177.5L662.2 178.3L663.8 179.3L663.9 180.2L663.9 181.1L664.1 182.0L663.3 182.9L664.0 183.8L663.3 184.7L662.7 185.5L662.2 186.3L662.0 187.2L661.0 188.0L661.0 188.9L662.5 190.0L661.3 190.7L662.0 191.7L662.4 192.7L662.1 193.5L661.5 194.3L660.8 195.1M660.2 197.0L659.7 197.8L660.5 198.9L660.7 199.9L661.2 200.9L659.7 201.5L660.6 202.7L660.6 203.6L659.0 204.1L660.0 205.3L659.3 206.0L659.7 207.1L659.2 207.9L657.8 208.4L657.1 209.2L657.4 210.2L657.1 211.1L655.8 211.6L657.2 213.0L656.6 213.7L656.0 214.5L656.3 215.5L655.0 216.0L654.3 216.7L654.8 217.9L653.9 218.5L653.6 219.3L652.7 219.9L652.2 220.7L652.5 221.8L652.7 222.8L653.5 224.1L652.7 224.8L651.7 225.3L651.2 226.1L650.3 226.7L650.4 227.7L651.2 229.1L649.2 229.1L649.1 230.1L649.4 231.2L649.3 232.2L648.5 232.8L648.2 233.6L648.4 234.8L648.1 235.7L646.3 235.7L646.1 236.6L646.7 238.0L645.5 238.4L644.1 238.6M644.3 241.0L642.4 240.9L641.8 241.6L642.1 242.8L641.3 243.3L641.6 244.6L641.3 245.5L640.1 245.7L640.3 247.0L639.7 247.7L639.3 248.5L638.3 248.9L637.6 249.5L636.4 249.7L636.4 250.8L636.9 252.4L636.5 253.2L634.4 252.7L633.5 253.1L633.2 254.0L633.5 255.4L632.7 255.9L631.4 256.0L631.3 257.0L631.1 258.1L630.9 259.1L629.8 259.3L629.5 260.3L629.0 261.1L628.3 261.6L626.7 261.3L627.0 262.8L625.6 262.7L624.6 263.0L624.7 264.3L623.4 264.3M622.2 265.9L621.9 266.9L621.5 267.7L620.3 267.7L620.9 269.7L620.4 270.5L619.2 270.4L618.5 271.1L617.4 271.1L617.7 272.9L615.9 272.1L615.2 272.7L614.4 273.1L614.7 274.8L613.7 275.0L612.8 275.3L612.0 275.7L612.1 277.2L610.6 276.7L610.5 278.1L609.8 278.7L608.7 278.7L607.8 278.9L607.1 279.5L606.4 280.0L605.5 280.3L605.2 281.3L604.2 281.5M602.4 282.4L602.2 283.7L601.2 283.8L600.4 284.2L600.1 285.5L599.0 285.2L598.0 285.4L597.8 286.9L597.3 287.7L596.4 287.9L595.1 287.4L594.5 288.2L593.8 288.9L592.5 288.4L592.1 289.5L591.7 290.6L590.7 290.5L589.8 290.8L588.7 290.7L588.1 291.4L586.9 290.9L586.6 292.3L585.6 292.4L585.2 293.7L583.9 292.9L583.3 293.8L581.8 292.7L581.3 293.6L580.8 294.9L579.6 294.3L579.0 295.2L577.9 294.7L577.2 295.3L576.9 297.0L575.5 295.8L575.1 297.4L573.7 296.1M572.2 297.7L571.5 298.6L570.7 299.1L569.6 298.3L568.8 298.8L568.0 299.4L567.2 299.9L566.4 300.2L565.4 300.0L564.3 299.3L563.6 300.4L562.7 300.5L561.9 300.7L561.2 301.9L559.9 300.3L559.3 301.7L558.3 301.0L557.6 302.0L556.8 302.9L555.7 301.6L554.9 302.1L554.0 302.3L553.1 302.4L552.1 301.7L551.3 302.8L550.6 303.8L549.7 303.6L548.6 302.7L547.9 303.9L546.9 303.3L545.9 302.5L545.2 303.6L544.2 303.5L543.4 303.8L542.6 305.0L541.6 304.4L540.8 305.2L539.8 304.0M529.1 305.0L528.2 303.5L527.3 303.7L526.4 304.7L525.5 304.9L524.6 305.3L523.8 304.2L522.9 303.6L522.0 303.7L521.1 304.1L520.3 302.9L519.4 303.4L518.4 304.2L517.6 303.0L516.7 303.1L515.7 304.4L514.7 304.8L514.0 303.2L513.2 302.5L512.4 302.1L511.5 301.8L510.4 303.4L509.5 303.5L508.8 302.3L507.8 302.4L506.8 302.9L506.2 301.2L505.1 302.6L504.1 303.0L503.5 301.3L502.5 302.0L501.6 302.0L500.9 301.0L499.7 301.9L499.2 300.3L498.2 300.4L497.5 299.9L496.5 299.9L495.4 300.6L494.7 300.1L493.8 299.8M491.6 300.1L491.2 298.3L490.5 297.7L489.4 298.2L488.8 297.1L487.4 298.5L486.9 297.2L486.0 296.8L485.2 296.5L484.0 297.1L483.0 297.3L482.3 296.5L482.0 294.9L481.1 294.7L479.9 295.2L479.5 293.9L478.1 294.9L477.1 294.8L476.9 293.0L476.1 292.7L475.4 292.0L474.1 292.6L473.9 291.0L472.6 291.8L472.3 290.2L470.8 291.3L470.1 290.6L469.3 290.2L469.0 288.7L468.5 287.9L467.4 288.1L465.7 289.2L465.2 288.3L464.1 288.3L464.3 286.3L463.7 285.5L463.1 284.8M460.3 285.5L460.2 284.0L459.5 283.5L458.2 283.9L457.3 283.7L457.0 282.5L456.2 282.1L455.7 281.3L454.6 281.2L454.1 280.4L453.4 279.9L452.8 279.1L452.1 278.6L451.4 278.0L451.1 277.0L450.0 277.0L448.8 277.1L448.5 276.1L448.1 275.1L446.4 275.9L446.0 274.9L445.3 274.4L445.0 273.4L443.4 273.8L442.7 273.3L442.3 272.4L441.6 271.8L440.9 271.3L440.5 270.4L440.1 269.5L439.5 268.8L438.7 268.4L438.1 267.8L437.3 267.3L436.6 266.7L435.6 266.5L434.6 266.2L435.1 264.5L435.1 263.2L434.2 262.9L434.0 261.9L432.1 262.5L431.4 261.8L431.5 260.6M430.4 258.9L428.7 259.2L427.9 258.7L427.5 257.9L427.0 257.1L426.3 256.5L426.3 255.4L426.0 254.5L425.2 254.0L423.9 253.8L423.0 253.4L422.5 252.7L422.1 251.8L423.1 250.0L422.6 249.2L420.7 249.5L420.7 248.5L420.3 247.6L420.3 246.5L418.8 246.5L418.7 245.5L417.3 245.3L418.5 243.4L416.6 243.7L417.8 241.8L417.4 241.0L416.5 240.5L415.4 240.2L415.9 238.8L414.7 238.5L413.3 238.3L413.7 237.0L412.7 236.5L412.5 235.6L412.2 234.8L412.7 233.5L411.8 232.9M409.8 231.8L409.7 230.8L410.4 229.5L409.7 228.8L409.1 228.1L409.1 227.1L408.3 226.5L407.7 225.8L408.6 224.4L408.2 223.6L406.8 223.3L407.2 222.1L407.4 221.1L405.6 220.9L405.9 219.8L404.2 219.5L404.5 218.4L405.4 217.1L404.2 216.6L404.5 215.5L403.1 215.1L402.7 214.3L402.3 213.4L403.7 212.1L403.9 211.1L401.9 210.8L402.8 209.5L402.7 208.7L402.9 207.7L402.4 206.9L401.4 206.2L399.8 205.8L400.7 204.6L401.0 203.6L399.5 203.0L400.5 201.9L399.5 201.2L399.2 200.3L398.2 199.6L399.9 198.3L399.0 197.6L399.0 196.7L397.9 196.0L398.8 194.9L397.8 194.2L398.8 193.1L398.1 192.3L396.7 191.7L398.0 190.6L398.2 189.6L396.5 189.0L396.7 188.0L398.1 186.9L398.1 186.1L397.9 185.2L397.6 184.3L396.1 183.6L396.1 182.7L395.3 181.8M396.1 179.8L396.0 178.9L396.6 177.9L395.9 177.1L396.2 176.2L397.4 175.2L396.5 174.4L396.6 173.5L396.2 172.6L397.3 171.7L397.7 170.8L395.4 169.9L396.3 169.0L396.7 168.1L397.2 167.2L396.3 166.3L395.3 165.4L396.9 164.5L396.5 163.6L396.5 162.7L395.8 161.8L396.2 160.9L397.2 160.1L397.6 159.2L396.5 158.2L397.8 157.5L396.3 156.4L398.1 155.7L398.2 154.8L397.6 153.9L396.6 152.8L397.0 152.0L396.9 151.0L397.0 150.1L397.2 149.3L399.0 148.6L397.7 147.5L399.1 146.9L399.6 146.0L400.1 145.2L400.4 144.4L398.5 143.1L399.4 142.4L400.5 141.7L401.0 140.9L399.4 139.6L399.7 138.7L399.2 137.7L401.4 137.3L401.9 136.5L401.8 135.6L402.2 134.8L402.6 134.0L402.7 133.1L401.9 131.9L403.0 131.3L403.5 130.5L402.9 129.4L403.4 128.6L404.3 128.0L403.7 126.8L403.9 126.0L404.5 125.2L404.7 124.3L406.0 123.9L405.2 122.6L406.2 122.1L406.4 121.2L407.5 120.6M406.1 117.9L406.9 117.3L407.8 116.7L408.0 115.8L407.4 114.5L409.4 114.5L409.6 113.6L409.2 112.4L410.1 111.9L409.9 110.8L409.7 109.6L411.9 109.8L412.2 108.9L412.6 108.1L412.0 106.8L412.1 105.8L412.7 105.1L412.7 104.0L414.6 104.1L415.0 103.3L414.4 101.9L414.8 101.1L416.7 101.2L415.6 99.5L416.2 98.8L416.5 97.9L418.0 97.8L418.2 96.9L417.9 95.6L418.4 94.8L419.5 94.5L419.5 93.4L419.7 92.4L420.5 91.9L421.5 91.5L421.5 90.4L423.5 90.8L423.9 89.9L424.1 89.0L425.4 88.9L424.9 87.3L426.6 87.5L426.3 86.1L427.4 85.8L428.0 85.2L428.0 84.1L429.3 83.9L429.5 83.0L429.3 81.6L429.4 80.5L431.3 80.9L432.0 80.4M432.7 78.3L434.1 78.5L433.8 76.9L435.3 77.2L435.5 76.1L436.4 75.8L437.7 75.8L438.5 75.4L439.2 74.8L439.3 73.7L439.9 73.0L439.3 71.1L440.3 70.8L442.0 71.4L441.8 69.8L443.1 69.9L443.5 69.1L443.7 68.0L444.1 67.0L444.6 66.2L446.0 66.5L447.1 66.4L447.7 65.8L448.6 65.4L448.6 64.1L449.6 63.9L450.1 63.0L451.5 63.5L451.5 61.9L451.7 60.8L453.5 61.7L453.8 60.7L455.1 61.0L456.2 60.9L456.5 59.8L457.4 59.6L457.5 58.1L458.3 57.7L458.9 57.0L459.2 55.8L461.1 57.1L462.0 57.1L462.9 56.8L463.2 55.5L463.4 54.1L464.2 53.7L465.1 53.6L465.6 52.5L466.9 53.0L468.1 53.4L468.4 52.0M470.7 52.3L471.4 51.7L472.4 51.7L473.1 51.2L474.0 51.0L474.3 49.6L475.4 49.9L475.8 48.6L476.3 47.5L477.5 48.1L478.7 48.5L479.0 47.0L479.7 46.3L480.3 45.5L481.4 45.8L482.3 45.6L482.9 44.7L483.8 44.6L484.5 43.7L485.8 44.9L486.4 43.8L487.3 43.6L488.3 43.8L489.5 44.7L490.1 43.6L491.0 43.7L491.7 42.7L492.5 42.5L493.4 42.2L494.5 43.1L495.4 42.9L496.0 41.6L496.7 40.9L497.4 39.8L498.3 39.9L499.5 40.9L500.3 40.7L501.2 40.3L501.9 39.4L502.9 40.0L503.6 38.7L504.6 39.4L505.6 39.6L506.4 39.4L507.3 39.5L508.0 37.8L509.2 39.7L510.0 39.1L511.0 39.7L511.7 38.3L512.7 39.1L513.6 39.3L514.4 38.6L515.2 37.9L516.0 37.2L517.0 37.8L517.9 38.2L518.8 38.1L519.6 36.7L520.6 38.0L521.5 38.8L522.3 36.8L523.2 37.2L524.1 38.2" stroke="#5a5a5a" stroke-width="0.55" fill="none"/><circle cx="529.8" cy="170.8" r="117.10" pathLength="360" stroke="#f4a582" stroke-width="7.0" stroke-dasharray="0 11.37 19.29 0.85 13.46 0.85 10.27 0.85 13.74 0.85 14.16 4.6 15.29 0.85 13.9 0.85 16.41 0.85 13.76 0.85 22.24 0.85 26.14 0.85 19.6 0.85 19.05 0.85 24.05 4.9 24.85 0.85 20.68 0.85 20.96 0.85 15.55 0.85 12.63 0" fill="none"/><circle cx="529.8" cy="170.8" r="117.10" pathLength="360" stroke="#9ccae1" stroke-width="7.0" stroke-dasharray="0 124.4 0.45 0 0.4 234.75" fill="none"/><circle cx="529.8" cy="170.8" r="117.10" pathLength="360" stroke="#b2d5e7" stroke-width="7.0" stroke-dasharray="0 122.8 0.45 236.75" fill="none"/><circle cx="529.8" cy="170.8" r="117.10" pathLength="360" stroke="#c6e0ed" stroke-width="7.0" stroke-dasharray="0 75.59 0.45 47.16 0.45 27.35 0.45 53.69 0.45 12.75 0.45 5.61 0.46 60.81 0.45 1.55 0.45 12.45 0.46 58.96" fill="none"/><circle cx="529.8" cy="170.8" r="117.10" pathLength="360" stroke="#e4eef4" stroke-width="7.0" stroke-dasharray="0 8.07 0.46 7.26 0.45 33.28 0.46 21.56 0.45 0 0.4 6.02 0.45 20.68 0.45 9.71 0.46 9.35 0.46 3.61 0.45 16.02 0.45 0 0.4 31.95 0.45 6.84 0.45 40.52 0.45 6.86 0.46 18.59 0.45 0 0.4 9.57 0.45 41.39 0.46 0 0.41 0.36 0.46 7.66 0.46 1.98 0.46 23.41 0.45 17.91 0.46 5.78" fill="none"/><circle cx="529.8" cy="170.8" r="117.10" pathLength="360" stroke="#fae9df" stroke-width="7.0" stroke-dasharray="0 1.15 0.46 0.76 0.46 1.58 0.46 7.31 0.45 0 0.4 6.38 0.45 9.2 0.45 0.75 0.4 16.4 0.46 0.77 0.46 0.36 0.46 2 0.46 10.97 0.45 37.3 0.45 0 0.4 1.56 0.45 0.75 0.45 7.33 0.46 3.22 0.46 0 0.41 3.22 0.41 2.05 0.45 20.06 0.45 0.76 0.45 6.02 0.45 14.15 0.45 6.83 0.45 6.85 0.45 14.02 0.45 16.04 0.45 13.62 0.46 1.98 0.46 1.17 0.46 5.62 0.46 6.43 0.46 3.21 0.45 20.8 0.45 7.66 0.45 3.56 0.45 8.77 0.45 3.16 0.45 7.23 0.46 4.82 0.46 27.49 0.45 1.97 0.45 0.35 0.45 10.55 0.46 8.13 0.46 4.14" fill="none"/><circle cx="529.8" cy="170.8" r="117.10" pathLength="360" stroke="#fcd2bc" stroke-width="7.0" stroke-dasharray="0 1.96 0.46 2.39 0.46 7.71 0.45 5.18 0.45 5.98 0.45 4.37 0.45 5.28 0.46 10.19 0.46 3.65 0.46 0 0.41 2 0.46 0.77 0.46 3.25 0.45 0.35 0.45 15.76 0.45 7.23 0.45 0.76 0.45 9.79 0.45 0.35 0.45 1.16 0.45 1.16 0.45 0.35 0.45 3.97 0.45 6.09 0.46 1.99 0.46 6.08 0.46 15.62 0.45 4.02 0.45 4.4 0.45 14.56 0.45 4.8 0.45 2.78 0.45 4.8 0.45 16.89 0.45 4.78 0.45 3.97 0.45 4.81 0.45 1.55 0.45 6.75 0.45 1.15 0.45 3.55 0.45 3.21 0.46 10.89 0.46 1.57 0.46 1.98 0.46 0 0.41 8.04 0.45 0 0.4 0 0.4 9.17 0.45 2.36 0.45 26.89 0.45 3.16 0.45 9.27 0.46 0 0.41 0.76 0.46 1.17 0.46 3.19 0.46 1.17 0.46 10.12 0.45 8.01 0.45 1.16 0.45 14.17 0.46 13.14" fill="none"/><circle cx="529.8" cy="170.8" r="117.10" pathLength="360" stroke="#f8c0a4" stroke-width="7.0" stroke-dasharray="0 0.74 0.46 0.36 0.46 1.17 0.46 2.8 0.46 8.08 0.45 0 0.4 1.16 0.45 0.75 0.45 7.59 0.45 0.35 0.45 0 0.4 4.84 0.46 1.58 0.46 0 0.41 0.36 0.46 11.01 0.46 0.77 0.46 0.77 0.46 2.42 0.46 3.68 0.45 1.16 0.45 6.01 0.45 1.97 0.45 0.76 0.45 0 0.4 0.35 0.45 2.42 0.45 0.35 0.45 10.47 0.45 5.36 0.45 0 0.4 0 0.4 8.8 0.45 4.38 0.4 4.94 0.46 0.36 0.46 9.39 0.45 3.55 0.45 0.75 0.45 3.55 0.45 0 0.4 0.35 0.45 0.75 0.45 7.63 0.45 0 0.4 1.57 0.45 0 0.4 0.76 0.45 0 0.4 2.78 0.45 1.16 0.45 4.04 0.45 3.99 0.45 0.35 0.45 3.59 0.45 12.12 0.45 1.56 0.45 3.57 0.45 7.19 0.45 2.36 0.45 0.35 0.45 1.96 0.45 1.56 0.45 1.16 0.45 7.61 0.45 0.75 0.45 0.75 0.45 0.75 0.45 1.95 0.45 1.15 0.45 9.22 0.46 0 0.41 0.36 0.46 4 0.46 3.19 0.46 0.76 0.46 0 0.41 0.36 0.46 0.36 0.46 0 0.41 1.98 0.46 4.83 0.45 0.35 0.45 0 0.4 0.75 0.45 1.55 0.45 0.35 0.45 5.96 0.45 3.16 0.45 0 0.4 1.95 0.45 0.75 0.45 0.75 0.45 0.35 0.4 6.9 0.45 5.16 0.45 0.75 0.45 2.76 0.45 0 0.4 0 0.4 0.35 0.45 0 0.4 0 0.4 1.55 0.45 0.35 0.45 1.15 0.45 3.16 0.45 0.35 0.45 2.41 0.46 0 0.41 2.79 0.46 1.17 0.46 2.38 0.46 0 0.41 0 0.41 0 0.41 4.82 0.46 0.36 0.46 0 0.41 3.19 0.46 4.83 0.45 1.97 0.45 1.16 0.45 1.97 0.45 1.16 0.45 1.97 0.45 2.37 0.45 2.37 0.45 6.11 0.46 9.36 0.46 2.43 0.46 0 0.41 0.36 0.46 0" fill="none"/><circle cx="529.8" cy="170.8" r="117.10" pathLength="360" stroke="#f6ae8d" stroke-width="7.0" stroke-dasharray="0 2.78 0.46 0.76 0.46 4.84 0.46 0 0.41 1.21 0.45 1.56 0.45 2.36 0.45 2.36 0.45 0.35 0.45 0 0.4 5.18 0.45 1.56 0.45 0 0.4 4.44 0.46 3.62 0.46 0.36 0.46 3.62 0.46 0.77 0.46 0.77 0.41 0.85 0.46 7.35 0.46 0 0.41 0.36 0.46 0.36 0.41 1.25 0.45 0 0.4 1.16 0.45 0 0.4 1.16 0.45 0 0.4 0.35 0.45 2.38 0.45 2.38 0.45 1.57 0.4 3.28 0.45 0.35 0.45 3.59 0.45 4 0.45 1.57 0.4 11.44 0.45 0.35 0.45 1.56 0.45 3.57 0.45 0.35 0.45 1.2 0.46 2.4 0.46 1.99 0.46 3.22 0.46 1.18 0.46 6.46 0.45 1.15 0.45 0 0.4 1.55 0.45 1.15 0.45 1.15 0.45 1.55 0.45 1.15 0.45 0.35 0.45 0 0.4 2 0.45 7.64 0.45 1.16 0.45 0.35 0.45 0.35 0.45 3.23 0.45 0.35 0.45 0.35 0.45 2.78 0.45 5.61 0.45 0.76 0.45 0 0.4 0.76 0.45 0.76 0.45 0 0.4 9.68 0.45 3.57 0.45 1.56 0.45 1.56 0.45 0.75 0.45 8.39 0.45 1.16 0.45 0 0.4 0 0.4 1.96 0.4 1.25 0.45 0.75 0.45 0.75 0.45 1.95 0.45 0 0.4 1.95 0.45 0.35 0.45 0.35 0.45 0 0.4 3.15 0.45 1.55 0.45 0 0.4 1.15 0.45 0.35 0.45 0 0.4 0 0.35 0.85 0.46 1.98 0.46 0.36 0.46 0.76 0.46 0.76 0.46 0.76 0.46 15.36 0.45 3.16 0.45 1.55 0.45 0.75 0.45 3.16 0.45 0 0.4 3.16 0.45 3.16 0.45 8.86 0.45 0 0.4 0.75 0.45 1.95 0.45 1.15 0.45 1.95 0.45 0.35 0.45 0 0.4 0 0.4 0.35 0.45 2.76 0.45 0.75 0.45 3.56 0.45 0.35 0.45 1.55 0.45 2.4 0.46 3.19 0.46 9.68 0.46 2.38 0.46 0 0.41 2.79 0.41 3.27 0.45 0 0.4 2.37 0.45 0.35 0.45 0 0.4 0 0.4 0.35 0.45 3.98 0.45 1.97 0.45 1.16 0.45 0.35 0.45 2.37 0.45 0 0.35 1.26 0.46 1.18 0.46 0 0.41 0.36 0.46 0 0.41 6.91 0.46 1.18 0.46 4.88 0.46 0.03" fill="none"/><circle cx="529.8" cy="170.8" r="117.10" pathLength="360" stroke="#ef9a79" stroke-width="7.0" stroke-dasharray="0 0.33 0.46 2.8 0.46 1.58 0.46 0 0.41 0.36 0.46 0.36 0.46 0.36 0.46 0 0.41 2.42 0.45 1.56 0.45 0 0.4 0 0.4 1.56 0.45 4.37 0.45 0.35 0.45 2.76 0.45 3.57 0.45 2.42 0.46 0.77 0.46 5.66 0.46 2.81 0.46 7.77 0.46 8.55 0.45 1.57 0.45 1.57 0.45 0 0.4 1.97 0.45 0.35 0.45 4.84 0.45 3.19 0.45 0.76 0.45 0.76 0.45 0 0.4 0.76 0.45 2.38 0.45 7.38 0.45 0 0.4 0 0.4 1.96 0.45 2.36 0.45 3.57 0.45 0.75 0.45 4.03 0.46 0 0.41 4.86 0.46 4.45 0.46 9.25 0.45 1.95 0.45 1.55 0.45 0 0.4 1.15 0.45 11.69 0.45 5.21 0.4 1.66 0.45 3.19 0.45 0 0.4 3.99 0.45 0.76 0.45 3.59 0.45 1.57 0.45 0.35 0.45 2.78 0.45 0 0.4 1.61 0.45 0.35 0.45 0.35 0.45 1.16 0.45 6.79 0.45 0.35 0.45 5.58 0.45 0.75 0.45 2.36 0.45 2.76 0.45 0 0.4 2.4 0.45 0 0.4 1.55 0.45 0 0.4 5.15 0.45 1.55 0.45 12.85 0.46 3.19 0.46 6.84 0.46 4.45 0.45 0.75 0.45 6.36 0.45 0.75 0.45 0.75 0.45 1.15 0.45 0.35 0.45 3.16 0.45 1.95 0.45 0 0.4 1.55 0.45 11.26 0.45 0.35 0.45 1.95 0.45 11.97 0.45 1.15 0.45 1.95 0.45 4.85 0.46 1.57 0.46 2.38 0.46 1.57 0.46 3.6 0.46 0 0.41 0.36 0.46 1.98 0.46 4.85 0.45 1.16 0.45 0.35 0.45 0.35 0.45 6 0.45 1.56 0.45 0.76 0.45 2.77 0.45 5.26 0.46 0.77 0.46 2.4 0.46 0 0.41 0.36 0.46 2.4 0.46 1.18 0.46 2.81 0.46 3.32" fill="none"/><circle cx="529.8" cy="170.8" r="117.10" pathLength="360" stroke="#e58267" stroke-width="7.0" stroke-dasharray="0 5.22 0.46 1.58 0.46 2.39 0.41 7.28 0.45 10.4 0.45 2.41 0.46 0 0.41 1.99 0.46 1.99 0.46 0.36 0.46 0.36 0.46 0.36 0.46 0.36 0.46 0.36 0.46 1.17 0.46 4.89 0.46 4.06 0.46 2.42 0.46 13.74 0.45 6.46 0.45 0.35 0.45 0 0.4 4.4 0.45 10.6 0.45 14.11 0.46 0 0.41 1.99 0.46 7.31 0.46 2.83 0.45 4.35 0.45 6.35 0.45 0.35 0.45 2.35 0.4 1.66 0.45 1.97 0.45 3.59 0.45 1.16 0.45 0 0.4 1.16 0.45 3.23 0.45 3.59 0.45 3.19 0.45 0.35 0.45 4.4 0.45 3.99 0.45 0 0.4 2.78 0.45 2.41 0.45 0.35 0.45 1.96 0.45 0 0.4 0 0.4 1.56 0.45 0.35 0.45 0.75 0.45 0 0.4 0 0.4 1.16 0.45 0.35 0.45 0 0.4 0 0.4 1.16 0.45 1.16 0.45 2.36 0.45 1.96 0.45 4.82 0.45 3.55 0.45 1.95 0.45 5.95 0.45 0.75 0.45 1.95 0.45 12.11 0.46 0 0.41 8.06 0.46 0 0.41 0.36 0.41 1.25 0.45 0 0.4 0.35 0.45 5.16 0.45 3.16 0.45 1.15 0.45 3.16 0.45 5.56 0.45 7.25 0.45 3.16 0.45 1.15 0.45 1.95 0.45 0.75 0.45 7.56 0.45 0.35 0.45 14.11 0.46 2.79 0.46 0.76 0.46 0 0.41 0 0.41 4.41 0.46 1.57 0.46 1.61 0.45 0.76 0.45 6.8 0.45 0 0.4 9.62 0.45 3.64 0.46 6.5 0.46 0 0.41 0.36 0.46 0.77 0.46 4.04 0.41 0.85 0.46 1.66" fill="none"/><circle cx="529.8" cy="170.8" r="117.10" pathLength="360" stroke="#db6c56" stroke-width="7.0" stroke-dasharray="0 17.4 0.45 6.78 0.45 1.56 0.45 6.87 0.46 1.99 0.46 1.99 0.46 1.17 0.46 0.77 0.46 4.48 0.46 4.88 0.46 14.2 0.45 5.25 0.45 1.57 0.45 5.61 0.45 4 0.45 8.58 0.45 1.16 0.45 0 0.4 10.47 0.46 1.59 0.46 4.45 0.46 0.36 0.46 1.59 0.46 0.36 0.46 9.26 0.45 1.15 0.45 0 0.4 6.75 0.45 0 0.4 14.15 0.45 6.87 0.45 1.16 0.45 1.97 0.45 3.59 0.45 4.8 0.45 12.08 0.45 4.78 0.45 1.16 0.45 0.35 0.45 3.97 0.45 12.83 0.45 3.15 0.45 1.15 0.45 2.35 0.45 11.68 0.46 1.17 0.46 0.76 0.46 0 0.41 5.22 0.46 12.86 0.45 2.36 0.45 2.76 0.45 0 0.4 1.15 0.45 5.16 0.45 11.66 0.45 1.95 0.45 13.17 0.45 10.5 0.46 11.71 0.46 6.45 0.45 6 0.45 2.37 0.45 5.19 0.45 8.56 0.46 0.77 0.46 10.28" fill="none"/><circle cx="529.8" cy="170.8" r="117.10" pathLength="360" stroke="#cd4e44" stroke-width="7.0" stroke-dasharray="0 20.61 0.45 1.56 0.45 1.16 0.45 19.07 0.46 0 0.41 15.97 0.45 2.38 0.45 0 0.4 1.57 0.45 9.7 0.45 3.59 0.45 15.85 0.45 5.58 0.45 10.57 0.46 1.18 0.46 2.81 0.46 2.84 0.45 6.35 0.45 10.01 0.45 2.78 0.45 12.94 0.45 5.21 0.45 0.35 0.45 0.76 0.45 5.61 0.45 0.35 0.45 1.16 0.45 2.78 0.4 6.48 0.45 0 0.4 9.2 0.45 2.76 0.45 34.17 0.46 3.6 0.46 2.38 0.46 2.38 0.46 13.66 0.45 0.75 0.45 7.97 0.45 0 0.4 8.46 0.45 3.16 0.45 13.98 0.45 5.56 0.45 19.45 0.46 3.23 0.45 0 0.4 16.88 0.45 3.22 0.46 0.36 0.46 2.81 0.46 2.81 0.46 1.18 0.46 2.4 0.46 0.77 0.46 0 0.41 4.55" fill="none"/><circle cx="529.8" cy="170.8" r="117.10" pathLength="360" stroke="#bb2a33" stroke-width="7.0" stroke-dasharray="0 21.02 0.45 1.96 0.45 37.11 0.45 4.8 0.45 14.55 0.45 17.05 0.45 2.77 0.45 11.79 0.46 27.83 0.45 12.94 0.45 0 0.4 0 0.4 44.33 0.45 15.6 0.45 1.95 0.45 13.74 0.46 38.26 0.45 2.35 0.45 7.56 0.45 10.37 0.45 21.86 0.46 7.66 0.45 3.58 0.45 22.31 0.46 6.12 0.46 1.25" fill="none"/><circle cx="529.8" cy="170.8" r="117.10" pathLength="360" stroke="#8c0c25" stroke-width="7.0" stroke-dasharray="0 21.82 0.45 0.75 0.45 0.35 0.45 17.02 0.46 39.89 0.45 0 0.4 10.2 0.45 0 0.4 53.38 0.45 36.39 0.45 112.64 0.4 32.06 0.45 8.41 0.45 21.33" fill="none"/><circle cx="529.8" cy="170.8" r="108.85" pathLength="360" stroke="#e0ecf3" stroke-width="7.1" stroke-dasharray="0 11.37 19.29 0.85 13.46 0.85 10.27 0.85 13.74 0.85 14.16 4.6 15.29 0.85 13.9 0.85 16.41 0.85 13.76 0.85 22.24 0.85 26.14 0.85 19.6 0.85 19.05 0.85 24.05 4.9 24.85 0.85 20.68 0.85 20.96 0.85 15.55 0.85 12.63 0" fill="none"/><circle cx="529.8" cy="170.8" r="108.85" pathLength="360" stroke="#165290" stroke-width="7.1" stroke-dasharray="0 290.88 0.45 55.88 0.46 6.91 0.46 4.96" fill="none"/><circle cx="529.8" cy="170.8" r="108.85" pathLength="360" stroke="#2469ad" stroke-width="7.1" stroke-dasharray="0 299.77 0.46 47.4 0.46 11.91" fill="none"/><circle cx="529.8" cy="170.8" r="108.85" pathLength="360" stroke="#4483bb" stroke-width="7.1" stroke-dasharray="0 3.18 0.46 99.54 0.45 224.51 0.45 6.8 0.45 1.16 0.45 22.53" fill="none"/><circle cx="529.8" cy="170.8" r="108.85" pathLength="360" stroke="#639dc9" stroke-width="7.1" stroke-dasharray="0 49.53 0.46 13.43 0.45 27.23 0.45 38.84 0.45 0.35 0.45 13.28 0.45 13.34 0.45 57.57 0.45 4.75 0.45 29.52 0.45 0.35 0.45 41.32 0.45 0 0.4 1.15 0.45 14.18 0.46 16.97 0.45 7.61 0.45 0.35 0.45 17.12 0.46 0.36 0.46 3.73" fill="none"/><circle cx="529.8" cy="170.8" r="108.85" pathLength="360" stroke="#82b8d7" stroke-width="7.1" stroke-dasharray="0 2.78 0.46 18.99 0.45 6.38 0.45 2.01 0.46 0.36 0.46 9.74 0.46 0.36 0.46 11.06 0.46 8.49 0.45 32.06 0.45 13.33 0.46 20.22 0.45 9.23 0.45 3.59 0.45 6.02 0.45 9.29 0.45 1.16 0.45 4.8 0.45 6.42 0.45 4.42 0.45 7.59 0.45 4.37 0.45 12.85 0.45 0 0.4 59.95 0.45 0 0.4 6.05 0.45 1.15 0.45 7.56 0.45 2.35 0.45 0.75 0.45 6.76 0.45 4.82 0.46 36.39 0.45 5.24 0.46 4.04 0.46 8.54 0.46 2.03 0.46 1.66" fill="none"/><circle cx="529.8" cy="170.8" r="108.85" pathLength="360" stroke="#9ccae1" stroke-width="7.1" stroke-dasharray="0 4 0.46 4.43 0.46 4.43 0.45 10.4 0.45 3.17 0.45 1.16 0.45 0 0.35 2.07 0.46 1.17 0.46 0 0.41 9.33 0.41 16.01 0.45 0 0.4 0.35 0.45 2.38 0.45 3.18 0.45 15.77 0.45 6.97 0.45 5.99 0.45 0 0.4 5.18 0.45 1.2 0.46 10.58 0.46 4.05 0.45 0 0.4 0.75 0.45 1.95 0.45 5.15 0.45 1.95 0.45 0.75 0.45 6.04 0.45 5.21 0.45 2.78 0.45 0.35 0.45 2.01 0.45 5.61 0.45 2.38 0.45 1.57 0.45 0.76 0.45 10.5 0.45 2.76 0.45 0.75 0.45 0.75 0.45 2.36 0.45 0 0.4 4.37 0.45 1.96 0.45 4.37 0.45 0.75 0.45 7.22 0.45 3.95 0.45 13.22 0.46 0.36 0.46 0 0.41 4.81 0.46 0 0.41 0 0.41 21.75 0.45 0 0.4 0 0.4 2.76 0.45 13.67 0.45 0 0.4 0.35 0.45 2.35 0.45 10.37 0.45 0.75 0.45 2.35 0.45 0 0.4 0 0.4 0.75 0.45 0 0.4 1.55 0.45 0 0.4 0.35 0.4 9.77 0.46 2.79 0.46 0.76 0.46 0 0.41 3.19 0.46 4.04 0.45 3.17 0.45 2.37 0.45 0.35 0.45 10.03 0.45 0 0.4 0 0.4 15.1 0.46 1.59 0.46 3.32" fill="none"/><circle cx="529.8" cy="170.8" r="108.85" pathLength="360" stroke="#b2d5e7" stroke-width="7.1" stroke-dasharray="0 0.74 0.46 0 0.41 11.37 0.45 1.96 0.45 0.35 0.45 0.35 0.45 8.79 0.45 0 0.4 1.56 0.45 6.08 0.46 1.58 0.46 0 0.41 0 0.41 2.81 0.46 6.12 0.46 5.29 0.46 1.59 0.41 1.66 0.45 1.57 0.45 1.57 0.45 3.18 0.45 3.59 0.45 1.61 0.45 3.19 0.45 0.76 0.45 0 0.4 6.83 0.45 6.17 0.45 0.75 0.45 5.18 0.45 0 0.4 0 0.4 3.97 0.45 1.96 0.4 4.94 0.46 5.27 0.46 6.48 0.45 2.75 0.45 6.35 0.45 0 0.4 0.35 0.45 0 0.4 10.08 0.45 2.38 0.45 3.19 0.4 5.3 0.45 1.57 0.45 1.16 0.45 1.57 0.45 0.35 0.45 0.76 0.45 0 0.4 2.78 0.45 1.16 0.45 1.57 0.45 1.97 0.4 4.47 0.45 3.97 0.45 6.38 0.45 2.76 0.45 2.76 0.45 0.35 0.45 0.75 0.45 0 0.4 3.21 0.45 0 0.4 0 0.4 0.35 0.45 1.95 0.45 0.35 0.45 3.55 0.45 0 0.4 2.75 0.45 7.2 0.46 11.3 0.46 3.6 0.46 14.06 0.45 8.37 0.45 2.36 0.45 10.86 0.45 0 0.4 4.76 0.45 1.95 0.45 2.35 0.45 1.55 0.45 8.82 0.46 1.17 0.46 0.36 0.46 6.84 0.46 1.57 0.46 1.17 0.46 2.38 0.46 0.36 0.46 1.17 0.46 3.22 0.45 2.37 0.45 0 0.4 2.77 0.45 0.76 0.45 0 0.4 6 0.45 6.05 0.46 3.22 0.46 13.55" fill="none"/><circle cx="529.8" cy="170.8" r="108.85" pathLength="360" stroke="#c6e0ed" stroke-width="7.1" stroke-dasharray="0 3.59 0.46 0.36 0.46 1.58 0.46 0.36 0.46 1.58 0.46 4.83 0.45 0 0.4 0.35 0.45 4.37 0.45 0 0.4 3.57 0.45 1.56 0.45 1.96 0.45 8.95 0.46 1.17 0.46 5.29 0.46 0.36 0.46 0.77 0.46 1.18 0.46 4.88 0.46 1.21 0.45 0 0.4 1.16 0.45 0 0.4 0.35 0.45 2.38 0.45 0.76 0.45 5.2 0.45 2.01 0.45 0 0.4 0 0.4 2.38 0.45 1.16 0.45 0.35 0.45 4 0.45 1.16 0.45 5.36 0.45 3.17 0.45 2.36 0.45 0 0.4 9.26 0.46 4.86 0.46 1.59 0.46 0 0.41 0 0.41 1.59 0.46 5.26 0.45 0.75 0.45 0 0.4 0 0.4 1.95 0.45 0 0.4 4.75 0.45 2.35 0.45 0 0.4 0 0.4 10.91 0.45 6.06 0.45 4.4 0.45 0.76 0.45 1.16 0.45 1.16 0.45 4.4 0.45 8.88 0.45 0.75 0.45 3.97 0.45 0.75 0.45 1.96 0.45 7.99 0.45 2.76 0.45 2.36 0.45 1.2 0.45 1.15 0.45 1.15 0.45 1.95 0.45 5.55 0.45 4.75 0.45 0 0.4 4.42 0.46 0.76 0.46 1.17 0.46 5.22 0.46 5.62 0.46 3.23 0.45 0.35 0.45 4.76 0.45 1.55 0.45 1.15 0.45 1.95 0.45 1.15 0.45 0 0.4 2.36 0.45 5.16 0.45 7.66 0.45 3.16 0.45 0.35 0.45 3.16 0.45 0.75 0.45 0 0.4 1.15 0.45 6.76 0.45 2.35 0.45 2.4 0.46 0 0.41 1.98 0.46 0.36 0.46 5.63 0.46 5.22 0.46 6.47 0.45 1.56 0.45 2.37 0.45 0.35 0.45 16.14 0.46 2.4 0.46 0.77 0.46 1.18 0.46 1.59 0.46 0.77 0.46 0 0.41 0 0.41 5.3 0.46 1.17 0.46 0" fill="none"/><circle cx="529.8" cy="170.8" r="108.85" pathLength="360" stroke="#e4eef4" stroke-width="7.1" stroke-dasharray="0 0.33 0.46 1.17 0.46 3.62 0.46 1.99 0.46 2.43 0.45 2.36 0.45 2.76 0.45 3.57 0.45 0 0.4 16.18 0.46 1.17 0.46 1.17 0.46 0 0.41 0.36 0.46 0.77 0.46 8.6 0.46 0.77 0.46 5.67 0.45 5.2 0.45 0.76 0.45 0 0.4 0 0.4 0.35 0.45 2.42 0.45 2.38 0.45 4 0.45 1.57 0.45 0.35 0.45 0.76 0.45 8.99 0.45 6.79 0.45 0 0.4 0.75 0.45 0 0.4 1.16 0.45 0.35 0.45 2.42 0.46 3.22 0.46 0.36 0.46 1.18 0.46 1.59 0.46 0.77 0.46 0.77 0.46 0 0.41 0.77 0.46 1.21 0.45 0 0.4 3.55 0.45 1.95 0.45 0 0.4 0 0.4 0 0.4 7.15 0.45 2.82 0.45 0.76 0.45 1.57 0.45 3.19 0.45 1.16 0.45 1.16 0.45 2.82 0.45 0.76 0.45 1.97 0.45 0.76 0.45 2.78 0.45 2.38 0.45 6.02 0.45 2.78 0.45 6.43 0.45 0.35 0.45 2.76 0.45 1.16 0.45 0.75 0.45 0.35 0.45 0 0.4 0 0.4 0.35 0.45 0.75 0.45 1.56 0.45 0.75 0.45 1.96 0.45 10.43 0.45 8.75 0.45 0.75 0.45 0 0.4 0.35 0.45 0.75 0.45 1.15 0.4 8.14 0.46 1.17 0.46 1.98 0.46 0.36 0.46 0.36 0.46 3.19 0.46 0.36 0.46 2.42 0.45 4.76 0.45 0.35 0.45 1.95 0.45 8.37 0.45 0.35 0.45 0 0.4 0.35 0.45 0 0.4 0.75 0.45 10.06 0.45 0.35 0.45 1.55 0.45 0.35 0.45 5.16 0.45 1.55 0.45 1.95 0.45 0 0.4 0.75 0.45 1.95 0.45 6.84 0.46 4.82 0.46 0 0.41 1.17 0.46 0.36 0.46 1.17 0.46 2.79 0.46 1.17 0.46 1.57 0.46 1.17 0.41 2.06 0.45 0.76 0.45 0.76 0.45 1.16 0.45 1.56 0.45 2.37 0.45 0 0.4 2.77 0.45 0 0.4 0 0.4 5.59 0.4 0.85 0.46 6.91 0.46 0 0.41 0.36 0.46 0.36 0.46 0 0.41 1.59 0.46 0 0.41 5.78" fill="none"/><circle cx="529.8" cy="170.8" r="108.85" pathLength="360" stroke="#fae9df" stroke-width="7.1" stroke-dasharray="0 7.67 0.46 0 0.41 3.64 0.45 0.75 0.45 5.58 0.45 0 0.4 3.97 0.45 2.76 0.45 0 0.4 3.62 0.46 1.17 0.46 0 0.41 1.99 0.46 6.89 0.46 1.62 0.46 1.18 0.46 0.77 0.46 0 0.41 2.42 0.46 0 0.41 0 0.41 4.89 0.45 0 0.4 5.61 0.45 8.48 0.45 3.19 0.45 0.35 0.45 3.19 0.45 0.35 0.45 0.76 0.45 15.42 0.45 3.97 0.45 3.23 0.46 1.18 0.46 0 0.41 1.18 0.46 0.77 0.46 2.81 0.46 2.4 0.46 6.03 0.45 4.35 0.45 1.55 0.45 6 0.45 1.97 0.45 0.76 0.45 1.57 0.45 4.4 0.45 0.35 0.45 2.82 0.45 1.97 0.45 10.87 0.45 0 0.4 0.35 0.45 3.59 0.45 1.16 0.45 2.01 0.45 0.75 0.45 2.76 0.45 1.16 0.45 0.35 0.45 8.39 0.45 0.35 0.45 0.75 0.45 0.75 0.45 0.75 0.45 0 0.4 3.17 0.45 12.41 0.45 0 0.4 0 0.4 6.75 0.45 5.24 0.46 7.24 0.46 1.98 0.46 1.57 0.46 8.45 0.45 0 0.4 1.95 0.45 0 0.4 1.95 0.45 1.95 0.45 0 0.4 0 0.4 2.76 0.45 0.35 0.45 0.35 0.45 3.16 0.45 1.55 0.4 6.9 0.45 4.76 0.45 7.97 0.45 16.51 0.46 1.17 0.46 1.98 0.46 0 0.41 4.41 0.46 1.57 0.46 1.17 0.46 4.43 0.45 2.37 0.45 5.19 0.45 0 0.4 0.76 0.45 1.56 0.45 3.58 0.45 5.69 0.46 4.04 0.46 6.5 0.41 2.96" fill="none"/><circle cx="529.8" cy="170.8" r="108.85" pathLength="360" stroke="#fcd2bc" stroke-width="7.1" stroke-dasharray="0 1.55 0.46 0.36 0.46 1.99 0.46 1.58 0.46 2.39 0.46 1.61 0.45 5.58 0.45 0.35 0.45 0 0.4 3.17 0.45 0 0.4 0 0.4 0 0.4 1.16 0.45 0 0.4 9.3 0.46 4.85 0.46 10.22 0.46 10.57 0.45 7.23 0.4 3.68 0.45 0.76 0.45 3.59 0.45 13.03 0.45 0 0.4 0.35 0.45 0.35 0.45 0.35 0.45 4.38 0.45 6.86 0.46 0 0.41 0 0.41 23.04 0.45 6.82 0.45 2.78 0.45 2.38 0.45 0 0.4 8.49 0.45 0.35 0.45 0.35 0.45 0.76 0.45 8.04 0.45 19.35 0.45 3.17 0.45 5.58 0.45 4.37 0.45 0.75 0.4 7.25 0.45 0 0.4 1.15 0.45 0 0.4 1.95 0.45 1.55 0.45 0.75 0.45 0 0.4 0.75 0.45 1.95 0.45 5.25 0.46 0 0.41 1.57 0.46 0 0.41 0 0.41 1.98 0.46 0.76 0.46 3.6 0.46 0 0.41 6.85 0.45 1.15 0.45 11.58 0.45 15.67 0.45 3.16 0.45 0.35 0.45 3.56 0.45 1.55 0.45 15.68 0.46 1.98 0.46 7.66 0.46 8.49 0.45 10.03 0.45 1.97 0.45 8.49 0.46 0 0.41 0 0.41 14.3 0.46 0 0.41 0.03" fill="none"/><circle cx="529.8" cy="170.8" r="108.85" pathLength="360" stroke="#f8c0a4" stroke-width="7.1" stroke-dasharray="0 5.22 0.46 6.9 0.45 5.18 0.45 14.49 0.46 2.4 0.46 2.81 0.46 0 0.41 6.52 0.46 3.24 0.46 15.03 0.45 7.67 0.45 4.4 0.45 1.16 0.45 0 0.4 4 0.4 5.81 0.45 3.57 0.45 5.18 0.45 0.75 0.45 10.16 0.46 6.49 0.41 6.45 0.45 11.61 0.45 3.19 0.45 0.76 0.45 25.07 0.45 0 0.4 0 0.4 1.16 0.45 1.16 0.45 4.43 0.45 0 0.4 9.2 0.45 12.42 0.45 7.61 0.45 0.75 0.45 0 0.4 4.35 0.45 8.01 0.46 0 0.41 4.41 0.46 6.43 0.46 0.76 0.46 2.79 0.46 0.36 0.46 2.81 0.45 1.15 0.45 0.35 0.45 1.15 0.45 1.15 0.45 7.97 0.45 21.28 0.45 0 0.4 0 0.4 22.11 0.46 9.68 0.46 2.79 0.46 2.02 0.45 10.83 0.45 1.16 0.45 10.1 0.46 1.18 0.46 13.48 0.46 0.84" fill="none"/><circle cx="529.8" cy="170.8" r="108.85" pathLength="360" stroke="#f6ae8d" stroke-width="7.1" stroke-dasharray="0 5.63 0.46 4.02 0.41 26.3 0.46 16.77 0.46 12.55 0.45 12.53 0.45 33.31 0.46 22.94 0.4 1.66 0.45 6.83 0.45 2.38 0.45 6.46 0.45 14.51 0.45 1.16 0.45 3.22 0.45 6.79 0.45 49.07 0.46 4 0.46 4 0.41 4.06 0.45 10.77 0.45 5.96 0.45 16.87 0.45 20.9 0.46 0.76 0.46 25.88 0.45 8.41 0.45 8.15 0.46 4.45 0.46 6.6" fill="none"/><circle cx="529.8" cy="170.8" r="108.85" pathLength="360" stroke="#ef9a79" stroke-width="7.1" stroke-dasharray="0 16.59 0.45 3.17 0.45 30.09 0.46 15.43 0.45 27.62 0.45 23.94 0.46 10.02 0.45 77.1 0.45 20.87 0.46 12.92 0.46 2.81 0.45 0 0.4 17.99 0.45 38.21 0.46 0.36 0.46 2.38 0.46 33.12 0.45 19.71" fill="none"/><circle cx="529.8" cy="170.8" r="108.85" pathLength="360" stroke="#e58267" stroke-width="7.1" stroke-dasharray="0 51.17 0.46 163.52 0.45 13.27 0.46 29.81 0.45 30.5 0.45 69.47" fill="none"/><circle cx="529.8" cy="170.8" r="100.35" pathLength="360" stroke="#f9ece4" stroke-width="7.1" stroke-dasharray="0 11.37 19.29 0.85 13.46 0.85 10.27 0.85 13.74 0.85 14.16 4.6 15.29 0.85 13.9 0.85 16.41 0.85 13.76 0.85 22.24 0.85 26.14 0.85 19.6 0.85 19.05 0.85 24.05 4.9 24.85 0.85 20.68 0.85 20.96 0.85 15.55 0.85 12.63 0" fill="none"/><circle cx="529.8" cy="170.8" r="100.35" pathLength="360" stroke="#165290" stroke-width="7.1" stroke-dasharray="0 288.48 0.45 71.07" fill="none"/><circle cx="529.8" cy="170.8" r="100.35" pathLength="360" stroke="#2469ad" stroke-width="7.1" stroke-dasharray="0 122 0.45 168.84 0.45 68.26" fill="none"/><circle cx="529.8" cy="170.8" r="100.35" pathLength="360" stroke="#4483bb" stroke-width="7.1" stroke-dasharray="0 103.18 0.45 15.08 0.46 55.33 0.45 73.35 0.45 30.9 0.45 27.77 0.46 3.6 0.46 47.61" fill="none"/><circle cx="529.8" cy="170.8" r="100.35" pathLength="360" stroke="#639dc9" stroke-width="7.1" stroke-dasharray="0 1.55 0.46 10.96 0.45 61.75 0.45 36.12 0.46 1.59 0.46 9.73 0.45 26.15 0.45 41.6 0.45 21.65 0.45 0 0.4 87.01 0.46 10.9 0.46 11.71 0.45 10.03 0.45 22.94" fill="none"/><circle cx="529.8" cy="170.8" r="100.35" pathLength="360" stroke="#82b8d7" stroke-width="7.1" stroke-dasharray="0 5.22 0.46 30.73 0.46 7.29 0.46 18.8 0.45 3.18 0.45 7.27 0.45 42.66 0.46 0 0.41 4.84 0.45 2.75 0.45 33.5 0.45 18.57 0.45 26.12 0.45 12.35 0.45 22.64 0.41 2.45 0.45 2.36 0.45 26.5 0.45 0.35 0.45 0 0.4 0.35 0.45 0.35 0.45 15.98 0.45 6.44 0.46 24.28 0.45 23.49 0.46 9.87" fill="none"/><circle cx="529.8" cy="170.8" r="100.35" pathLength="360" stroke="#9ccae1" stroke-width="7.1" stroke-dasharray="0 9.3 0.46 18.5 0.45 4.44 0.46 7.7 0.46 1.58 0.46 9.01 0.46 5.29 0.45 0.35 0.45 8.03 0.45 3.63 0.45 1.97 0.45 9.66 0.45 9.38 0.45 13.71 0.46 6.08 0.46 16.11 0.45 0.75 0.45 0.35 0.45 22.66 0.45 1.16 0.45 11.27 0.45 5.65 0.45 3.57 0.45 18.85 0.45 4.01 0.45 0 0.4 0 0.4 0 0.4 7.15 0.45 0.75 0.45 20.14 0.46 0 0.41 4 0.46 4.44 0.45 1.15 0.45 3.96 0.45 7.97 0.45 20.08 0.45 0.35 0.45 1.95 0.45 1.95 0.45 2.35 0.45 0.75 0.45 5.96 0.45 12.54 0.46 4.82 0.46 1.17 0.46 0.36 0.46 16.13 0.45 3.98 0.45 6.07 0.46 16.01" fill="none"/><circle cx="529.8" cy="170.8" r="100.35" pathLength="360" stroke="#b2d5e7" stroke-width="7.1" stroke-dasharray="0 1.15 0.46 11.77 0.45 7.99 0.45 7.19 0.45 0 0.4 1.61 0.46 1.17 0.46 1.99 0.46 1.99 0.46 20.06 0.45 4.4 0.45 2.38 0.45 1.57 0.45 9.7 0.45 1.57 0.45 21.48 0.45 4.85 0.46 11.4 0.41 2.45 0.45 1.15 0.45 0.35 0.45 7.55 0.45 7.23 0.45 4 0.45 2.38 0.45 0.35 0.45 0.76 0.45 0.35 0.45 3.63 0.45 0.35 0.45 1.57 0.45 0.35 0.45 0.35 0.45 0 0.4 0 0.4 8.85 0.45 0.76 0.45 1.97 0.45 0 0.4 0.76 0.4 1.25 0.45 1.16 0.45 3.97 0.45 0.75 0.45 3.97 0.45 0 0.4 2.76 0.45 2.76 0.45 0.35 0.45 0.35 0.45 1.16 0.45 7.22 0.45 7.95 0.45 1.95 0.45 9.24 0.46 6.84 0.46 1.17 0.46 4 0.46 8.44 0.45 0.35 0.45 1.95 0.45 3.16 0.45 20.48 0.45 7.16 0.45 2.76 0.45 0.35 0.45 1.95 0.45 8.83 0.46 2.79 0.46 0 0.41 4.82 0.46 2.38 0.46 0.36 0.46 3.6 0.46 0.76 0.46 0 0.41 10.88 0.45 6.4 0.45 5.65 0.46 0 0.41 8.95 0.46 7.41" fill="none"/><circle cx="529.8" cy="170.8" r="100.35" pathLength="360" stroke="#c6e0ed" stroke-width="7.1" stroke-dasharray="0 4 0.46 0 0.41 1.17 0.46 7.69 0.45 0.75 0.45 2.36 0.45 1.16 0.45 2.76 0.45 4.37 0.45 12.19 0.46 0.77 0.46 1.58 0.46 4.49 0.46 3.24 0.46 0.36 0.46 3.27 0.45 4.4 0.45 0 0.4 0 0.4 1.16 0.45 0.76 0.45 1.57 0.45 3.63 0.45 0.35 0.45 1.16 0.45 6.02 0.45 3.19 0.45 0.76 0.4 18.28 0.45 0 0.4 1.6 0.46 4.45 0.46 0.36 0.46 0.36 0.46 0 0.41 3.63 0.46 21.32 0.45 0 0.4 11.28 0.45 0 0.35 3.28 0.45 3.19 0.45 5.21 0.45 1.57 0.45 5.21 0.45 4.84 0.45 12.42 0.45 1.16 0.45 12.85 0.45 4.75 0.45 0.75 0.45 0.75 0.45 1.95 0.45 5.15 0.45 0 0.4 2.01 0.46 0 0.41 1.98 0.46 6.84 0.46 11.71 0.45 3.16 0.45 6.36 0.45 1.95 0.45 3.56 0.45 2.76 0.45 7.66 0.45 0.35 0.45 1.55 0.45 1.15 0.45 1.15 0.45 0.35 0.45 1.95 0.45 0.35 0.45 1.95 0.45 2.35 0.45 1.55 0.45 2.35 0.45 1.15 0.45 2.82 0.46 10.9 0.46 3.19 0.46 9.29 0.45 0 0.4 0.35 0.45 2.37 0.45 6.8 0.45 5.64 0.46 1.18 0.46 15.52 0.46 0.43" fill="none"/><circle cx="529.8" cy="170.8" r="100.35" pathLength="360" stroke="#e4eef4" stroke-width="7.1" stroke-dasharray="0 5.63 0.46 5.28 0.45 0.35 0.45 0 0.4 1.96 0.45 5.98 0.45 2.76 0.45 0.35 0.45 6.44 0.46 0 0.41 0.77 0.46 0.77 0.46 0 0.41 4.03 0.46 5.7 0.46 0.77 0.46 1.18 0.46 0.77 0.46 1.18 0.46 1.59 0.46 3.66 0.45 1.57 0.45 2.38 0.45 1.57 0.45 3.59 0.45 3.63 0.45 1.97 0.45 2.38 0.45 4 0.45 1.57 0.45 6.56 0.45 1.56 0.45 0.35 0.45 2.77 0.45 14.18 0.46 6.08 0.46 2.82 0.45 0.35 0.45 1.95 0.45 0.35 0.45 1.55 0.45 1.15 0.45 0.35 0.45 2.75 0.45 6.83 0.45 2.38 0.45 1.16 0.45 0.35 0.45 0.76 0.45 0.35 0.45 0.35 0.45 0 0.4 6.06 0.45 4.4 0.45 7.63 0.45 2.38 0.45 0.35 0.45 0.76 0.45 2.41 0.45 0 0.4 3.57 0.45 0.35 0.45 0.75 0.45 0.75 0.45 0 0.4 1.96 0.45 1.16 0.45 4.37 0.45 0.35 0.45 1.96 0.45 0.35 0.45 0.35 0.45 0 0.4 10.82 0.45 1.55 0.45 6.75 0.45 0.75 0.45 2.4 0.46 1.57 0.46 0 0.41 4.81 0.46 0 0.41 0 0.41 0.36 0.46 2.38 0.46 0.76 0.46 0.36 0.46 0.76 0.46 5.24 0.45 2.36 0.45 1.15 0.45 2.76 0.45 1.95 0.45 1.15 0.45 1.15 0.45 1.95 0.45 1.95 0.45 3.96 0.4 4.9 0.45 0.35 0.45 4.76 0.45 2.76 0.45 0 0.4 12.37 0.45 2.8 0.46 8.87 0.46 3.19 0.46 4.01 0.46 2.38 0.41 1.25 0.45 6 0.45 0 0.4 0 0.4 0.76 0.45 0 0.4 20.68 0.46 0.36 0.46 1.18 0.46 0 0.41 1.59 0.46 0.77 0.46 0 0.36 1.66 0.46 0.84" fill="none"/><circle cx="529.8" cy="170.8" r="100.35" pathLength="360" stroke="#fae9df" stroke-width="7.1" stroke-dasharray="0 3.18 0.46 5.25 0.46 4.43 0.45 0.35 0.45 5.98 0.45 1.16 0.45 0.75 0.45 0 0.4 2.36 0.45 1.56 0.45 0.75 0.4 3.71 0.46 1.99 0.46 1.99 0.46 1.17 0.46 3.21 0.41 1.67 0.46 0.77 0.46 1.59 0.46 0.36 0.46 2.42 0.46 0.36 0.46 2.44 0.45 0 0.4 7.63 0.45 6.46 0.45 2.78 0.45 1.16 0.45 0 0.4 1.16 0.45 3.59 0.45 6.57 0.45 0.35 0.45 6.39 0.45 1.96 0.45 6.04 0.46 1.18 0.46 0.36 0.46 5.27 0.46 0.77 0.46 4.47 0.45 3.95 0.45 0.75 0.45 1.95 0.45 4.35 0.45 0.35 0.45 3.21 0.45 14.97 0.45 2.78 0.45 3.99 0.45 0.35 0.45 0 0.4 3.59 0.45 2.78 0.45 0.76 0.45 6.85 0.45 6.38 0.45 6.79 0.45 7.19 0.45 2.01 0.45 3.15 0.45 1.15 0.45 4.75 0.45 1.95 0.45 0.75 0.45 0 0.4 3.95 0.45 2.42 0.46 0 0.41 1.98 0.46 0 0.41 0 0.41 0 0.41 1.17 0.46 2.38 0.46 2.79 0.46 6.87 0.45 9.57 0.45 1.55 0.45 0.75 0.45 2.36 0.45 3.56 0.45 0.75 0.45 1.15 0.45 6.45 0.45 0 0.4 8.37 0.45 0 0.4 5.56 0.45 2.35 0.45 0 0.4 0.75 0.45 8.06 0.46 1.17 0.46 0.36 0.46 4.82 0.46 2.38 0.46 0 0.41 3.19 0.46 2.42 0.45 0.76 0.45 2.37 0.45 3.58 0.45 3.17 0.45 0 0.4 0 0.4 3.17 0.45 1.16 0.45 4.03 0.46 1.59 0.46 1.59 0.46 0.36 0.46 0 0.41 0 0.41 1.18 0.46 4.45 0.46 0 0.41 4.48 0.46 0 0.41 0" fill="none"/><circle cx="529.8" cy="170.8" r="100.35" pathLength="360" stroke="#fcd2bc" stroke-width="7.1" stroke-dasharray="0 2.78 0.46 0.36 0.46 2.8 0.46 0.36 0.46 0.36 0.46 6.85 0.45 2.36 0.45 0 0.4 0 0.4 0.35 0.45 1.56 0.45 0.75 0.45 14.16 0.46 1.17 0.46 5.7 0.46 2 0.46 6.52 0.46 8.89 0.45 1.16 0.45 6.86 0.45 7.23 0.45 0 0.4 0.35 0.45 7.38 0.45 5.99 0.45 1.56 0.45 0 0.4 0.35 0.45 0 0.4 0.35 0.45 0.75 0.45 4.84 0.46 2.4 0.46 5.27 0.46 0.36 0.46 1.99 0.46 10.41 0.45 1.15 0.45 9.24 0.45 0 0.4 0 0.4 0.76 0.45 0.35 0.45 2.38 0.45 5.25 0.45 3.59 0.45 6.42 0.45 0.76 0.45 2.38 0.45 0 0.4 2.38 0.45 6.85 0.45 1.56 0.45 0 0.4 1.56 0.45 1.96 0.45 1.96 0.45 1.16 0.45 1.56 0.45 1.56 0.45 2.36 0.45 3.17 0.45 6.81 0.45 3.55 0.45 4.75 0.45 3.15 0.45 9.68 0.46 5.62 0.46 1.57 0.46 1.57 0.46 1.17 0.46 1.21 0.45 15.58 0.45 3.56 0.45 0.35 0.45 0 0.4 0.75 0.45 6.45 0.45 4.76 0.45 2.35 0.45 3.96 0.45 0.75 0.45 3.16 0.45 8.42 0.46 1.98 0.46 2.38 0.46 0.76 0.46 0 0.41 2.79 0.46 0 0.41 4.82 0.46 1.98 0.46 3.63 0.45 1.16 0.45 0 0.4 1.16 0.45 7.61 0.45 4.38 0.45 0.35 0.45 0 0.4 0 0.4 5.29 0.46 0.77 0.46 3.63 0.46 2.81 0.46 1.18 0.46 0 0.41 1.62 0.46 0 0.41 1.25" fill="none"/><circle cx="529.8" cy="170.8" r="100.35" pathLength="360" stroke="#f8c0a4" stroke-width="7.1" stroke-dasharray="0 0.74 0.46 5.25 0.46 0.36 0.46 2.39 0.41 6.08 0.45 0.75 0.45 2.36 0.45 3.97 0.45 0.35 0.45 2.36 0.45 2.41 0.46 6.89 0.46 3.21 0.46 4.07 0.46 8.17 0.41 3.68 0.45 0.35 0.45 0.35 0.45 6.42 0.45 0.76 0.45 0.35 0.4 5.7 0.45 0 0.4 1.97 0.45 11.42 0.45 0.75 0.45 0.75 0.45 1.16 0.45 0.35 0.45 0 0.4 0.35 0.45 0 0.4 5.58 0.45 6.09 0.46 4.04 0.46 0.77 0.46 4.89 0.45 3.15 0.45 2.75 0.45 0.35 0.45 9.2 0.45 4.4 0.45 9.71 0.45 7.63 0.45 2.38 0.45 0.76 0.45 0.35 0.45 1.97 0.45 12.5 0.45 1.96 0.45 1.96 0.45 8.39 0.45 4.37 0.45 0.75 0.45 1.6 0.45 5.55 0.45 0 0.4 7.95 0.45 1.55 0.45 1.55 0.4 4.5 0.46 1.98 0.46 0.76 0.46 1.17 0.46 4.41 0.46 0.76 0.46 1.57 0.46 4.43 0.45 0.75 0.45 0 0.4 3.16 0.45 2.36 0.45 1.15 0.45 1.95 0.45 0.35 0.45 2.76 0.45 0.35 0.45 23.29 0.45 4.36 0.45 10.46 0.46 4.82 0.46 12.96 0.45 9.22 0.45 0 0.4 0 0.4 3.58 0.45 8.9 0.46 0 0.41 0.36 0.46 2 0.46 2.81 0.46 1.59 0.46 6.19" fill="none"/><circle cx="529.8" cy="170.8" r="100.35" pathLength="360" stroke="#f6ae8d" stroke-width="7.1" stroke-dasharray="0 1.96 0.46 9.35 0.45 3.97 0.45 0.75 0.45 8.79 0.45 7.68 0.46 1.99 0.46 0 0.41 11.43 0.46 1.59 0.46 8.95 0.45 15.76 0.45 4.4 0.45 10.2 0.45 11.62 0.45 1.61 0.46 1.99 0.46 1.18 0.46 2.81 0.46 16.53 0.45 0.75 0.45 4.35 0.4 2.47 0.45 0 0.4 4 0.45 1.57 0.45 6.47 0.45 11.68 0.45 1.16 0.45 18.13 0.45 3.17 0.45 0 0.4 3.57 0.45 7.19 0.4 9.25 0.45 6.75 0.45 21.83 0.46 0 0.41 12.43 0.45 5.96 0.45 24.49 0.45 7.16 0.45 1.95 0.45 2.41 0.46 1.57 0.46 4.01 0.46 1.17 0.46 3.19 0.46 11.33 0.45 10.83 0.45 0 0.4 0 0.4 0 0.4 4.79 0.45 0 0.35 7.81 0.46 2.81 0.46 7.82" fill="none"/><circle cx="529.8" cy="170.8" r="100.35" pathLength="360" stroke="#ef9a79" stroke-width="7.1" stroke-dasharray="0 9.7 0.46 41.01 0.46 3.24 0.46 24.71 0.45 15.04 0.45 5.99 0.45 25.17 0.45 1.15 0.45 6.75 0.45 9.29 0.45 16.98 0.45 27 0.45 5.98 0.45 3.17 0.45 6 0.45 1.15 0.45 41.52 0.45 1.15 0.45 0 0.4 7.57 0.45 0.35 0.45 3.16 0.45 30.5 0.45 3.23 0.46 5.63 0.46 14.98 0.45 7.61 0.45 8.01 0.45 21.33" fill="none"/><circle cx="529.8" cy="170.8" r="100.35" pathLength="360" stroke="#e58267" stroke-width="7.1" stroke-dasharray="0 2.37 0.46 1.99 0.46 2.8 0.46 17.71 0.45 0.75 0.45 14.22 0.46 0.36 0.46 49.72 0.45 8 0.45 32.78 0.45 0.35 0.45 0.75 0.45 5.65 0.45 11.32 0.45 24.24 0.45 7.19 0.45 21.28 0.45 42.32 0.45 40.92 0.45 3.56 0.4 25.2 0.45 25.9 0.46 10.69" fill="none"/><circle cx="529.8" cy="170.8" r="100.35" pathLength="360" stroke="#db6c56" stroke-width="7.1" stroke-dasharray="0 105.19 0.4 56.77 0.45 45.13 0.45 9.55 0.45 141.6" fill="none"/><circle cx="529.8" cy="170.8" r="100.35" pathLength="360" stroke="#cd4e44" stroke-width="7.1" stroke-dasharray="0 17 0.45 52.44 0.45 29.22 0.45 35.99 0.45 92.82 0.46 130.27" fill="none"/><circle cx="529.8" cy="170.8" r="100.35" pathLength="360" stroke="#bb2a33" stroke-width="7.1" stroke-dasharray="0 0.33 0.46 359.21" fill="none"/><circle cx="529.8" cy="170.8" r="100.35" pathLength="360" stroke="#8c0c25" stroke-width="7.1" stroke-dasharray="0 83.27 0.45 276.27" fill="none"/><circle cx="529.8" cy="170.8" r="92.55" pathLength="360" stroke="#85bad8" stroke-width="6.7" stroke-dasharray="0 11.37 19.29 0.85 13.46 0.85 10.27 0.85 13.74 0.85 14.16 4.6 15.29 0.85 13.9 0.85 16.41 0.85 13.76 0.85 22.24 0.85 26.14 0.85 19.6 0.85 19.05 0.85 24.05 4.9 24.85 0.85 20.68 0.85 20.96 0.85 15.55 0.85 12.63 0" fill="none"/><circle cx="529.8" cy="170.8" r="92.55" pathLength="360" stroke="#0b3b71" stroke-width="6.7" stroke-dasharray="0 3.18 0.46 1.99 0.46 2.8 0.46 9.66 0.45 26.78 0.46 21.16 0.45 0 0.4 0 0.4 14.55 0.45 7.78 0.45 60.7 0.45 39.93 0.45 0 0.4 37.81 0.46 43.89 0.45 6.76 0.45 1.15 0.45 7.56 0.45 15.76 0.46 1.17 0.46 43.82 0.46 4.14" fill="none"/><circle cx="529.8" cy="170.8" r="92.55" pathLength="360" stroke="#165290" stroke-width="6.7" stroke-dasharray="0 0.74 0.46 10.17 0.45 6.38 0.45 20.61 0.46 15.55 0.46 14.14 0.45 2.01 0.45 17.9 0.45 14.04 0.4 18.8 0.45 8.75 0.45 8.85 0.45 0 0.4 9.71 0.45 35.91 0.45 3.97 0.45 11.24 0.45 52.33 0.45 17.68 0.45 6.76 0.45 0 0.4 0 0.4 22.15 0.46 5.63 0.46 14.53 0.45 14.94 0.46 0 0.41 15.11 0.46 0" fill="none"/><circle cx="529.8" cy="170.8" r="92.55" pathLength="360" stroke="#2469ad" stroke-width="6.7" stroke-dasharray="0 2.78 0.46 1.99 0.46 2.8 0.46 5.65 0.45 3.57 0.45 5.18 0.45 4.37 0.45 7.31 0.46 11.02 0.46 0.36 0.46 4.88 0.46 0.77 0.41 2.06 0.45 1.97 0.45 8.44 0.45 6.87 0.45 23.51 0.45 18.72 0.41 14.05 0.45 10.89 0.45 38.01 0.45 4.37 0.45 0 0.4 12.01 0.4 8.05 0.45 4.75 0.45 0.75 0.45 15.32 0.46 10.53 0.45 0.35 0.45 0 0.4 15.18 0.45 2.36 0.45 1.55 0.45 9.66 0.45 3.56 0.45 6.76 0.45 21.76 0.46 0 0.41 3.6 0.46 8.49 0.45 33.26 0.46 3.73" fill="none"/><circle cx="529.8" cy="170.8" r="92.55" pathLength="360" stroke="#4483bb" stroke-width="6.7" stroke-dasharray="0 1.55 0.46 7.28 0.46 0 0.41 1.61 0.45 5.18 0.45 1.56 0.45 1.16 0.45 1.96 0.45 8.04 0.46 2.81 0.46 12.24 0.46 0.36 0.46 0.36 0.46 0 0.41 1.18 0.46 6.53 0.45 6.82 0.45 3.99 0.4 5.7 0.45 7.64 0.45 0 0.4 0 0.35 4.6 0.45 0.75 0.45 1.56 0.45 18.6 0.46 0 0.41 1.99 0.46 8.1 0.45 0.35 0.45 7.15 0.45 1.95 0.45 1.15 0.45 2.41 0.45 4.81 0.45 1.16 0.45 2.38 0.45 1.16 0.45 9.7 0.45 3.99 0.45 1.97 0.45 3.19 0.45 14.9 0.45 4.37 0.45 16.46 0.45 0.35 0.45 0 0.4 0 0.4 9.15 0.45 1.55 0.45 0 0.4 1.2 0.46 0 0.41 0.76 0.46 1.98 0.46 3.19 0.46 0 0.41 22.56 0.45 0.35 0.45 3.16 0.45 0.35 0.45 4.36 0.45 0.35 0.45 0.35 0.45 6.45 0.45 0 0.4 0 0.4 1.15 0.45 0 0.4 6.36 0.45 3.56 0.45 1.95 0.45 1.15 0.45 2.76 0.45 0 0.4 0 0.4 12.54 0.46 1.57 0.46 1.57 0.46 0 0.41 1.17 0.46 1.98 0.46 3.63 0.45 7.21 0.45 0.35 0.45 4.38 0.45 1.16 0.45 0 0.4 9.73 0.46 2.81 0.46 10.28" fill="none"/><circle cx="529.8" cy="170.8" r="92.55" pathLength="360" stroke="#639dc9" stroke-width="6.7" stroke-dasharray="0 1.96 0.46 0 0.41 3.21 0.46 1.17 0.46 1.99 0.41 3.66 0.45 0.75 0.45 0 0.4 1.56 0.45 3.17 0.45 0.35 0.45 1.96 0.45 1.16 0.45 1.56 0.45 1.56 0.4 5.34 0.46 0 0.41 1.17 0.46 1.17 0.46 0.36 0.46 4.88 0.46 6.11 0.46 2 0.46 2.03 0.45 0 0.4 1.57 0.45 0 0.4 1.97 0.45 3.59 0.45 1.97 0.45 4.04 0.45 0.76 0.45 0 0.4 0 0.4 1.57 0.45 4.4 0.45 0 0.4 0.76 0.45 6.57 0.45 2.77 0.45 1.96 0.45 0 0.4 2.77 0.45 2.36 0.45 0 0.4 0.35 0.45 0 0.4 6.11 0.46 0 0.41 1.99 0.46 0 0.41 0 0.41 1.59 0.46 0.77 0.46 0 0.41 6.03 0.45 6.35 0.45 0.75 0.45 0.35 0.45 4.41 0.45 2.78 0.45 1.16 0.45 0 0.4 2.38 0.45 1.97 0.45 7.68 0.45 1.16 0.45 3.59 0.45 8.04 0.45 0.76 0.45 0 0.4 3.62 0.45 5.98 0.45 2.76 0.45 0 0.4 0 0.4 0 0.4 5.98 0.45 0.75 0.45 3.57 0.45 0.75 0.45 2 0.45 1.55 0.45 0.35 0.45 0 0.4 1.55 0.45 3.15 0.45 2.35 0.45 6.75 0.4 2.07 0.46 0.36 0.46 0 0.41 0.36 0.46 0.76 0.46 4.41 0.46 0 0.41 0.76 0.46 4.41 0.46 1.98 0.46 9.62 0.45 0 0.4 1.15 0.45 7.17 0.45 0 0.4 12.47 0.45 7.16 0.45 0.35 0.45 1.95 0.45 3.96 0.45 1.95 0.45 0 0.4 6.02 0.46 0.76 0.46 3.19 0.46 0 0.41 1.98 0.46 6.84 0.46 11.3 0.45 2.77 0.45 3.17 0.45 6.8 0.4 2.49 0.46 0 0.41 1.18 0.46 6.5 0.46 7.41" fill="none"/><circle cx="529.8" cy="170.8" r="92.55" pathLength="360" stroke="#82b8d7" stroke-width="6.7" stroke-dasharray="0 1.15 0.46 6.47 0.46 4.85 0.45 5.98 0.45 0 0.4 0 0.4 1.56 0.45 0.75 0.45 2.36 0.45 0.75 0.45 6.48 0.46 8.52 0.46 2.44 0.46 0 0.41 3.24 0.46 2 0.46 0.36 0.46 4.46 0.45 1.57 0.45 0.35 0.45 1.16 0.45 0 0.4 1.16 0.45 0.35 0.45 0.35 0.45 0 0.4 3.63 0.45 0.76 0.45 0 0.4 0.35 0.45 0 0.4 3.19 0.45 0 0.4 2.38 0.45 1.57 0.45 10.19 0.45 1.96 0.45 2.77 0.45 1.16 0.45 2.36 0.45 2.42 0.46 6.08 0.46 1.99 0.46 2.81 0.46 0 0.41 1.21 0.45 1.15 0.45 0 0.4 0 0.4 2.75 0.45 0.35 0.45 2.35 0.45 0 0.4 0.35 0.45 3.95 0.45 2 0.45 1.16 0.45 1.97 0.45 8.05 0.45 2.82 0.45 2.38 0.45 0.35 0.45 0.35 0.45 0.35 0.45 3.59 0.45 5.21 0.45 1.16 0.45 0.76 0.45 4.44 0.45 0.75 0.45 0 0.4 6.38 0.45 5.18 0.45 5.18 0.45 3.17 0.45 0 0.4 2.01 0.45 3.55 0.45 0.35 0.45 2.35 0.45 0.35 0.45 0 0.4 2.35 0.45 1.15 0.45 0.75 0.45 6.41 0.46 1.57 0.46 1.57 0.46 1.98 0.46 2.79 0.46 0.36 0.46 0 0.41 0.36 0.46 2.38 0.46 0.36 0.46 0 0.41 0 0.41 0 0.41 0 0.41 2.01 0.45 1.55 0.45 0.35 0.45 3.56 0.45 0 0.4 1.15 0.45 0 0.4 0.75 0.45 0.35 0.45 0.75 0.45 3.96 0.45 1.15 0.45 0.75 0.45 0 0.4 1.55 0.45 0.75 0.4 4.9 0.45 4.36 0.45 0 0.4 0 0.4 2.35 0.45 4.76 0.45 4.76 0.45 0 0.4 1.55 0.45 1.55 0.45 2 0.46 0 0.41 0 0.41 0.76 0.46 0.76 0.46 0.36 0.46 2.79 0.46 0.36 0.46 4.01 0.46 1.57 0.46 6.48 0.45 0.76 0.45 0.35 0.45 2.77 0.45 0 0.4 0.76 0.45 0 0.4 0.35 0.45 1.56 0.45 1.56 0.45 2.77 0.45 1.56 0.45 7.3 0.46 1.59 0.46 2.4 0.46 0.36 0.46 0.36 0.46 0.77 0.46 2 0.46 1.18 0.41 2.48 0.46 0.03" fill="none"/><circle cx="529.8" cy="170.8" r="92.55" pathLength="360" stroke="#9ccae1" stroke-width="6.7" stroke-dasharray="0 0.33 0.46 4.02 0.46 6.9 0.45 0.35 0.45 0.35 0.45 1.96 0.45 6.38 0.45 3.57 0.45 1.16 0.45 5.26 0.46 0.77 0.46 1.17 0.46 0 0.41 1.99 0.46 0.36 0.46 0 0.41 9.41 0.46 0.36 0.46 4.5 0.45 3.99 0.45 0.35 0.45 0.35 0.45 1.57 0.45 6.46 0.45 3.59 0.45 0.76 0.45 1.16 0.45 0 0.4 0 0.4 1.97 0.45 10.2 0.45 1.56 0.45 0.35 0.45 0 0.4 6.39 0.45 4.03 0.46 0.36 0.46 2.4 0.46 0.77 0.46 1.18 0.46 1.99 0.46 1.18 0.46 11.25 0.45 5.15 0.45 1.55 0.4 2.06 0.45 1.57 0.45 2.78 0.45 0 0.4 0.76 0.45 0.35 0.45 1.97 0.45 0 0.4 0.76 0.45 2.01 0.45 1.16 0.45 5.21 0.45 0.76 0.45 0 0.4 1.57 0.45 0.35 0.45 2.38 0.45 0 0.4 3.19 0.45 1.57 0.45 1.61 0.45 2.36 0.45 1.56 0.45 0 0.4 0 0.4 0.75 0.45 4.78 0.45 1.56 0.45 1.96 0.45 1.56 0.45 0 0.4 0.35 0.45 4.78 0.45 3.2 0.45 1.95 0.45 3.15 0.45 1.15 0.45 2.75 0.45 1.95 0.45 1.15 0.45 0.75 0.45 7.27 0.46 0.76 0.46 0 0.41 6.03 0.46 0.76 0.46 6.46 0.45 0 0.4 1.15 0.45 0 0.4 0 0.4 1.15 0.45 0 0.4 1.15 0.45 3.96 0.45 4.76 0.45 16.87 0.45 0 0.4 0.35 0.45 7.16 0.45 0.35 0.45 1.15 0.45 5.16 0.45 0.75 0.45 0 0.35 2.47 0.46 3.19 0.46 6.44 0.46 0.76 0.46 5.22 0.46 3.63 0.45 0.76 0.45 0 0.4 1.16 0.45 16.52 0.46 0 0.41 4.04 0.46 0.77 0.46 0 0.41 0 0.41 0 0.41 0.77 0.46 0.36 0.46 0.36 0.46 1.18 0.46 0 0.41 4.07 0.46 1.25" fill="none"/><circle cx="529.8" cy="170.8" r="92.55" pathLength="360" stroke="#b2d5e7" stroke-width="6.7" stroke-dasharray="0 6.85 0.46 0 0.41 4.86 0.45 1.96 0.45 1.16 0.45 4.77 0.45 2.76 0.45 0 0.4 0 0.4 3.17 0.45 1.6 0.46 1.99 0.46 4.44 0.46 3.21 0.46 0 0.41 0 0.41 3.67 0.46 2.42 0.46 2 0.46 0.36 0.46 25.94 0.45 1.16 0.45 11.01 0.45 5.18 0.45 0.75 0.45 1.56 0.45 0 0.4 4.84 0.46 1.18 0.46 0 0.41 6.49 0.46 0.36 0.46 3.65 0.45 0.35 0.45 3.55 0.45 2.35 0.45 0.35 0.45 0.75 0.45 1.15 0.45 3.55 0.45 4.03 0.45 6.02 0.45 0 0.4 0 0.4 5.66 0.45 0 0.4 0.35 0.45 3.99 0.45 0.76 0.45 0 0.4 1.57 0.45 0 0.4 1.57 0.45 0.35 0.45 1.97 0.45 0 0.4 0 0.4 5.25 0.45 2.36 0.45 0.35 0.45 0.75 0.45 3.57 0.45 0.35 0.45 0 0.4 5.98 0.45 5.18 0.45 18.42 0.45 1.15 0.45 8.05 0.46 1.57 0.46 4 0.46 1.57 0.46 1.17 0.46 0 0.41 4 0.41 6.06 0.45 7.57 0.45 0.35 0.45 1.55 0.45 2.76 0.45 1.15 0.45 15.67 0.45 0.75 0.45 6.76 0.45 6.76 0.45 9.31 0.46 1.98 0.46 6.03 0.46 0.36 0.46 0 0.41 1.17 0.46 0 0.41 0 0.36 4.48 0.45 0.35 0.45 2.77 0.45 4.38 0.45 1.97 0.45 3.98 0.45 2.83 0.46 0 0.41 4.04 0.46 10.21 0.46 0.76 0.46 0.43" fill="none"/><circle cx="529.8" cy="170.8" r="92.55" pathLength="360" stroke="#c6e0ed" stroke-width="6.7" stroke-dasharray="0 3.59 0.46 2.39 0.46 25.43 0.46 5.66 0.46 5.25 0.46 35.82 0.45 17.05 0.45 3.17 0.45 6.47 0.46 0 0.41 0.77 0.46 15.02 0.45 0 0.4 0.75 0.45 0.35 0.45 23.36 0.4 4.49 0.45 8.85 0.45 0.35 0.45 15.72 0.45 1.16 0.45 5.18 0.45 7.19 0.45 0.75 0.45 0 0.4 4.01 0.45 0.35 0.45 9.15 0.45 4.35 0.45 0.75 0.45 15.77 0.46 1.57 0.46 7.25 0.45 1.55 0.45 1.55 0.45 6.36 0.45 0.35 0.45 0 0.4 14.07 0.45 6.76 0.45 0.75 0.45 0.35 0.45 5.96 0.45 12.05 0.46 1.57 0.46 0.36 0.46 0.76 0.46 1.17 0.46 9.68 0.46 2.83 0.45 9.62 0.45 0 0.4 0 0.4 0 0.4 0.76 0.45 0.35 0.45 0.35 0.45 1.56 0.45 0.76 0.45 1.56 0.45 5.7 0.46 6.91 0.46 0.77 0.46 1.59 0.46 2.02 0.46 0.84" fill="none"/><circle cx="529.8" cy="170.8" r="92.55" pathLength="360" stroke="#e4eef4" stroke-width="6.7" stroke-dasharray="0 4.41 0.46 28.28 0.46 8.11 0.46 0 0.41 1.99 0.41 19.25 0.45 27.63 0.45 2.36 0.45 14.95 0.46 17.41 0.45 0 0.4 6.35 0.45 20.25 0.45 16.94 0.45 0 0.4 0.35 0.4 2.46 0.45 1.96 0.45 1.96 0.45 9.2 0.45 5.98 0.45 5.22 0.45 8.35 0.45 0.35 0.45 6.35 0.45 27.91 0.45 17.19 0.45 7.25 0.45 12.77 0.45 2.35 0.45 1.15 0.45 9.26 0.46 12.93 0.46 10.09 0.45 12.04 0.45 1.16 0.45 14.3 0.46 4.96" fill="none"/><circle cx="529.8" cy="170.8" r="92.55" pathLength="360" stroke="#fae9df" stroke-width="6.7" stroke-dasharray="0 4 0.46 22.99 0.45 1.96 0.45 2.43 0.46 0.36 0.46 46.83 0.45 16.24 0.45 0.35 0.45 0.35 0.45 6.84 0.46 53.04 0.45 20.19 0.45 16.03 0.45 16.03 0.45 3.95 0.45 11.28 0.46 23.38 0.45 48.64 0.46 20.65 0.45 12.45 0.45 1.56 0.45 20.92" fill="none"/><circle cx="529.8" cy="170.8" r="92.55" pathLength="360" stroke="#fcd2bc" stroke-width="6.7" stroke-dasharray="0 17 0.45 41.93 0.45 4.8 0.45 75.8 0.45 26.69 0.45 169.33 0.45 21.73" fill="none"/><circle cx="529.8" cy="170.8" r="92.55" pathLength="360" stroke="#f8c0a4" stroke-width="6.7" stroke-dasharray="0 122 0.45 18.03 0.45 17.39 0.45 201.22" fill="none"/><circle cx="529.8" cy="170.8" r="92.55" pathLength="360" stroke="#f6ae8d" stroke-width="6.7" stroke-dasharray="0 197.47 0.45 162.08" fill="none"/><circle cx="529.8" cy="170.8" r="92.55" pathLength="360" stroke="#ef9a79" stroke-width="6.7" stroke-dasharray="0 191.84 0.45 167.71" fill="none"/><circle cx="529.8" cy="170.8" r="85.80" pathLength="360" stroke="#c32a4b" stroke-width="4.0" stroke-dasharray="0 11.37 19.29 0.85 13.46 0.85 10.27 0.85 13.74 0.85 14.16 4.6 15.29 0.85 13.9 0.85 16.41 0.85 13.76 0.85 22.24 0.85 26.14 0.85 19.6 0.85 19.05 0.85 24.05 4.9 24.85 0.85 20.68 0.85 20.96 0.85 15.55 0.85 12.63 0" fill="none"/><circle cx="529.8" cy="170.8" r="85.80" pathLength="360" stroke="#a40743" stroke-width="4.0" stroke-dasharray="0 10.11 0.41 2.86 0.45 0 0.4 0 0.4 8.79 0.45 7.63 0.46 0.36 0.46 0 0.41 1.17 0.46 1.99 0.46 0.77 0.46 1.17 0.46 0.77 0.46 0 0.41 0.36 0.46 0 0.41 6.13 0.46 0 0.41 0 0.41 1.59 0.46 2.42 0.46 2.03 0.45 2.78 0.45 0 0.4 0.35 0.45 0 0.4 0 0.4 0 0.4 0.76 0.45 0 0.4 1.16 0.45 0 0.4 1.16 0.45 0 0.4 2.42 0.45 2.38 0.45 0 0.4 0 0.4 0 0.4 1.97 0.45 0 0.4 2.38 0.45 0 0.4 2.78 0.45 4.95 0.45 0 0.4 1.16 0.45 0 0.4 0 0.4 0.35 0.45 0 0.4 1.56 0.45 3.17 0.45 0 0.4 0.75 0.45 0 0.4 0.35 0.45 0.35 0.45 0 0.4 2.42 0.46 1.59 0.46 0 0.41 1.99 0.46 0 0.41 0.36 0.46 0 0.41 1.99 0.46 1.99 0.46 0.77 0.46 2.41 0.45 1.95 0.45 9.15 0.45 9.67 0.45 1.16 0.45 0 0.4 1.57 0.45 0 0.4 0.76 0.45 0.35 0.45 0.35 0.4 1.66 0.45 1.16 0.45 0 0.4 0 0.4 0 0.4 0 0.4 0 0.4 1.57 0.45 0 0.4 0 0.4 1.16 0.45 0 0.4 0 0.4 0 0.4 1.57 0.45 0 0.4 0 0.4 1.97 0.45 5.61 0.45 3.22 0.45 0 0.4 6.38 0.45 2.36 0.45 0 0.4 0 0.4 0.75 0.45 0 0.4 1.16 0.45 0 0.4 4.37 0.45 2.36 0.45 0 0.4 0.75 0.4 1.25 0.45 2.35 0.45 0.75 0.45 0.75 0.45 1.15 0.45 0.35 0.45 5.15 0.45 0 0.4 0.75 0.45 0 0.4 0 0.4 0.75 0.45 7.66 0.46 5.62 0.46 3.6 0.46 1.57 0.46 0 0.41 2.02 0.45 0 0.4 2.36 0.45 0 0.4 0 0.4 1.15 0.45 0 0.4 0 0.4 0.35 0.45 0 0.4 0 0.4 0 0.4 0.35 0.45 1.15 0.45 3.96 0.45 2.76 0.45 0 0.4 0.75 0.45 0 0.4 0 0.4 0 0.4 7.26 0.45 0.35 0.45 1.15 0.45 0.75 0.45 0 0.4 0 0.4 0.75 0.45 0.75 0.45 3.16 0.45 0 0.4 0 0.4 1.95 0.45 5.96 0.45 0 0.4 0 0.4 0 0.4 1.55 0.45 2.41 0.46 0 0.41 3.19 0.46 0 0.41 0 0.41 0.36 0.46 4.82 0.46 0 0.41 0 0.41 0.36 0.46 0.36 0.46 1.17 0.46 0 0.41 0 0.41 0.36 0.46 0 0.41 0.76 0.46 0 0.41 0 0.41 2.42 0.45 0 0.4 0 0.4 0 0.4 0 0.4 0 0.4 0 0.4 6 0.45 1.56 0.45 0 0.4 0 0.4 1.16 0.45 0 0.4 0 0.4 0 0.4 0 0.4 0 0.4 0 0.4 0 0.4 1.56 0.45 0 0.4 2.01 0.46 0.77 0.46 0 0.41 0 0.41 0.36 0.46 1.18 0.46 0 0.41 0.36 0.46 0.36 0.46 2.81 0.46 0.77 0.46 5.71 0.46 0.84" fill="none"/><circle cx="529.8" cy="170.8" r="85.80" pathLength="360" stroke="#ae1346" stroke-width="4.0" stroke-dasharray="0 9.7 0.46 1.61 0.45 0 0.4 2.76 0.45 6.38 0.45 0 0.4 0.75 0.45 0.75 0.45 8.47 0.46 4.03 0.46 2.81 0.46 5.3 0.46 15.48 0.45 3.18 0.45 8.48 0.45 2.78 0.45 5.61 0.4 5.81 0.45 0 0.4 2.77 0.45 1.16 0.45 2.36 0.45 1.16 0.45 4.82 0.46 0.36 0.46 1.99 0.46 6.49 0.46 2.81 0.41 0.85 0.45 4.75 0.45 0 0.4 0 0.4 9.55 0.4 12.99 0.45 2.01 0.45 7.23 0.45 2.78 0.45 1.97 0.45 2.38 0.45 2.38 0.45 0.35 0.45 0 0.4 1.16 0.4 8.09 0.45 3.97 0.45 1.16 0.45 1.96 0.45 3.97 0.45 2.76 0.45 1.16 0.45 3.2 0.45 0 0.4 0.35 0.45 6.75 0.45 4.35 0.45 14.93 0.46 0.36 0.46 1.17 0.46 1.57 0.46 0 0.41 1.57 0.46 1.17 0.46 8.02 0.45 3.16 0.45 0.75 0.45 4.36 0.45 1.15 0.45 12.47 0.45 0.75 0.45 1.15 0.45 0.75 0.45 8.37 0.45 16.1 0.46 0.36 0.46 4.01 0.46 1.17 0.46 1.17 0.46 7.29 0.45 8.01 0.45 1.97 0.45 1.16 0.45 12.14 0.46 0 0.41 1.59 0.46 4.04 0.46 5.71 0.46 1.25" fill="none"/><circle cx="529.8" cy="170.8" r="85.80" pathLength="360" stroke="#ba2048" stroke-width="4.0" stroke-dasharray="0 5.22 0.46 12.93 0.45 0 0.4 0 0.4 0.35 0.45 0 0.4 0 0.4 1.56 0.45 1.16 0.45 1.56 0.45 6.46 0.46 3.62 0.46 1.17 0.46 0.77 0.46 1.99 0.46 8.18 0.46 2 0.46 3.25 0.45 0 0.4 6.42 0.45 0.35 0.45 7.67 0.45 5.21 0.45 0 0.4 17.05 0.45 5.18 0.45 0.75 0.45 0 0.4 17.56 0.45 12.75 0.45 0 0.4 6.46 0.45 0.35 0.45 2.38 0.45 0 0.4 0.35 0.45 1.16 0.45 1.16 0.45 1.61 0.45 7.23 0.45 0 0.4 2.78 0.45 1.97 0.45 4.8 0.45 0.76 0.45 0 0.4 3.22 0.45 5.58 0.45 0.35 0.45 0.75 0.45 1.16 0.45 6.38 0.45 0.75 0.45 0.75 0.45 2.76 0.45 5.21 0.45 2.35 0.45 0.75 0.45 2.35 0.45 2.35 0.45 0.75 0.45 12.07 0.46 1.98 0.46 0 0.41 2.79 0.46 3.6 0.46 0 0.41 4.44 0.45 1.15 0.45 2.36 0.45 3.16 0.45 0.35 0.45 24.09 0.45 0.75 0.45 0.35 0.45 1.55 0.45 4.36 0.45 2.76 0.45 1.55 0.45 1.95 0.45 1.55 0.45 0 0.4 1.2 0.46 6.44 0.46 0 0.41 0 0.41 5.22 0.46 12.93 0.45 0.35 0.45 1.16 0.45 0.35 0.45 1.56 0.45 0 0.4 1.97 0.45 4.79 0.45 5.27 0.46 8.54 0.46 6.6" fill="none"/><circle cx="529.8" cy="170.8" r="85.80" pathLength="360" stroke="#c42c4b" stroke-width="4.0" stroke-dasharray="0 3.18 0.46 3.62 0.46 3.65 0.45 3.17 0.45 0.35 0.45 0.35 0.45 2.76 0.45 1.56 0.45 4.77 0.45 1.56 0.45 6.49 0.46 0 0.41 3.21 0.46 3.21 0.46 1.62 0.46 15.11 0.45 7.63 0.45 2.82 0.45 31.98 0.4 2.89 0.46 1.18 0.46 0.77 0.46 1.99 0.46 0 0.41 0.77 0.46 2.81 0.46 2.43 0.45 0 0.4 3.55 0.45 3.15 0.45 5.55 0.45 2.4 0.45 6.02 0.45 12.54 0.45 8.44 0.45 1.57 0.45 9.68 0.45 4.78 0.45 1.56 0.45 0 0.4 3.97 0.45 0 0.4 2.76 0.45 3.17 0.45 2.76 0.45 7.2 0.45 0.35 0.45 4.35 0.45 4.75 0.45 4.42 0.46 0 0.41 0 0.41 3.19 0.46 0.76 0.46 0 0.41 5.22 0.46 0 0.41 4.81 0.41 2.85 0.45 1.95 0.45 7.17 0.45 2.36 0.45 0.75 0.45 0.75 0.45 1.55 0.45 18.88 0.45 2.35 0.45 3.56 0.45 0 0.4 0.75 0.45 8.83 0.46 0 0.41 12.12 0.46 6.48 0.45 3.58 0.45 1.97 0.45 0.35 0.45 1.56 0.45 3.98 0.45 3.17 0.45 0.35 0.45 1.97 0.4 1.67 0.46 5.68 0.46 0 0.41 5.68 0.46 4.55" fill="none"/><circle cx="529.8" cy="170.8" r="85.80" pathLength="360" stroke="#d0384e" stroke-width="4.0" stroke-dasharray="0 1.15 0.46 0.36 0.46 0 0.41 1.17 0.46 0 0.41 2.8 0.46 0.36 0.46 3.64 0.45 3.17 0.45 4.77 0.45 2.36 0.45 3.97 0.45 0.75 0.45 1.61 0.46 3.21 0.46 1.17 0.46 9.38 0.46 1.18 0.46 6.11 0.46 8.08 0.45 3.59 0.45 3.63 0.45 0.76 0.45 0 0.4 2.38 0.45 16.67 0.45 3.17 0.45 1.56 0.45 1.16 0.45 1.16 0.45 9.75 0.46 1.59 0.46 0 0.41 8.11 0.45 5.95 0.45 9.62 0.45 1.57 0.45 1.16 0.45 1.57 0.45 3.19 0.45 4.44 0.45 0.35 0.45 3.19 0.45 0 0.4 8.44 0.45 8.88 0.45 2.36 0.45 1.96 0.45 6.79 0.45 2.76 0.45 0.35 0.45 0.75 0.45 0.35 0.45 0.75 0.45 1.56 0.45 3.61 0.45 3.15 0.45 0.75 0.45 7.15 0.45 1.55 0.45 9.25 0.46 0 0.41 0 0.41 4.41 0.46 0.36 0.46 1.17 0.46 0.36 0.46 9.68 0.45 1.55 0.45 4.76 0.45 0.75 0.45 0.75 0.45 0.75 0.45 0 0.4 0 0.4 2.76 0.45 3.56 0.45 1.55 0.4 6.1 0.45 1.15 0.45 11.17 0.45 3.96 0.45 0.35 0.45 1.95 0.45 0 0.4 4.02 0.46 1.57 0.46 4.41 0.46 1.17 0.46 9.68 0.46 6.85 0.45 25.12 0.46 0.36 0.46 4.04 0.46 0 0.36 2.48 0.46 0 0.41 0" fill="none"/><circle cx="529.8" cy="170.8" r="85.80" pathLength="360" stroke="#d8434e" stroke-width="4.0" stroke-dasharray="0 5.63 0.46 8.5 0.45 1.96 0.45 0.75 0.45 8.79 0.45 0.35 0.45 4.44 0.46 9.74 0.46 2.43 0.46 4.06 0.46 0 0.41 1.59 0.46 0 0.41 4.47 0.45 10.05 0.45 2.82 0.45 4.4 0.45 0 0.4 0.76 0.45 1.16 0.45 1.57 0.45 11.81 0.45 0.35 0.45 14.55 0.46 6.9 0.46 0.77 0.46 3.62 0.45 4.35 0.45 0.75 0.45 2.35 0.45 1.15 0.45 0 0.4 6.43 0.45 0.35 0.45 12.54 0.45 8.44 0.45 3.59 0.45 11.7 0.45 1.96 0.45 0.35 0.45 3.57 0.45 11.21 0.45 4.82 0.45 9.55 0.45 6.35 0.45 1.15 0.4 1.26 0.46 16.97 0.46 18.45 0.45 2.36 0.45 9.26 0.45 0.75 0.45 6.36 0.45 0 0.4 0.75 0.45 1.55 0.45 11.97 0.4 4.91 0.46 4.01 0.46 0 0.41 0 0.41 6.84 0.46 3.19 0.41 4.48 0.45 0.76 0.45 14.46 0.45 2.02 0.46 4.45 0.46 6.09 0.46 0.77 0.46 4.96" fill="none"/><circle cx="529.8" cy="170.8" r="85.80" pathLength="360" stroke="#de4c4b" stroke-width="4.0" stroke-dasharray="0 4.81 0.46 7.71 0.45 12.81 0.45 2.76 0.45 4.87 0.46 12.65 0.46 2 0.46 1.59 0.46 4.09 0.45 2.78 0.45 6.82 0.45 1.97 0.45 11.72 0.45 1.97 0.45 6.16 0.45 4.38 0.45 1.96 0.45 8.87 0.46 0 0.41 7.72 0.46 7.68 0.45 0.75 0.45 4.35 0.45 0 0.4 3.55 0.45 10.08 0.45 12.53 0.45 10.87 0.45 6.06 0.45 8.39 0.45 7.99 0.45 16.85 0.45 0.35 0.45 1.55 0.45 0.35 0.45 1.15 0.45 4.75 0.45 0.35 0.45 1.2 0.46 0.36 0.46 4.81 0.46 1.98 0.46 7.24 0.46 16.46 0.45 1.95 0.45 5.96 0.45 0 0.4 0.35 0.45 16.87 0.45 3.56 0.45 6.76 0.45 4.84 0.46 0 0.41 0.36 0.46 6.44 0.46 4.01 0.46 10.51 0.45 3.17 0.45 1.56 0.45 7.21 0.45 1.97 0.45 4.48 0.46 4.04 0.46 0 0.41 0.36 0.46 3.22 0.46 4.48 0.46 0.43" fill="none"/><circle cx="529.8" cy="170.8" r="85.80" pathLength="360" stroke="#e45649" stroke-width="4.0" stroke-dasharray="0 0.74 0.46 1.58 0.46 24.62 0.45 6.88 0.46 3.21 0.46 8.98 0.46 5.7 0.46 4.46 0.45 0 0.4 20.61 0.45 1.97 0.45 0.35 0.45 14.22 0.45 18.28 0.46 9.66 0.45 0.35 0.45 0 0.4 3.15 0.45 2.35 0.45 1.15 0.45 2.01 0.45 0.76 0.45 0.35 0.45 35.22 0.45 3.97 0.45 16.03 0.45 6.02 0.45 7.15 0.45 24.98 0.46 18.49 0.45 9.57 0.45 21.68 0.45 1.15 0.45 25.86 0.46 9.68 0.45 23.1 0.46 3.22 0.46 1.59 0.46 3.73" fill="none"/><circle cx="529.8" cy="170.8" r="85.80" pathLength="360" stroke="#eb5f47" stroke-width="4.0" stroke-dasharray="0 1.55 0.46 1.58 0.46 1.99 0.46 0 0.41 0 0.41 0.76 0.46 0.76 0.46 8.05 0.45 7.19 0.45 0 0.4 3.97 0.4 34.77 0.45 10.91 0.45 5.61 0.45 0.35 0.45 26.81 0.46 21.8 0.45 6.02 0.45 2.38 0.45 0 0.4 21.03 0.45 5.61 0.45 5.65 0.45 3.57 0.45 0 0.4 38.11 0.45 1.55 0.45 4.03 0.46 18.21 0.45 0 0.4 45.33 0.45 24.66 0.46 38.95 0.46 4.14" fill="none"/><circle cx="529.8" cy="170.8" r="85.80" pathLength="360" stroke="#f16844" stroke-width="4.0" stroke-dasharray="0 8.89 0.46 35.22 0.41 1.67 0.46 11.86 0.45 10.86 0.4 27.26 0.45 18.68 0.46 21.32 0.45 32.36 0.45 7.25 0.45 47.01 0.46 5.22 0.46 47.09 0.45 5.16 0.45 1.55 0.45 20.16 0.46 51.26" fill="none"/><circle cx="529.8" cy="170.8" r="85.80" pathLength="360" stroke="#f57446" stroke-width="4.0" stroke-dasharray="0 17.4 0.45 34.96 0.46 2.42 0.41 75.5 0.45 0.75 0.45 14.51 0.45 21.84 0.45 0.35 0.45 0 0.4 10.07 0.45 30.51 0.45 13.24 0.46 53.57 0.45 79.08" fill="none"/><circle cx="529.8" cy="170.8" r="85.80" pathLength="360" stroke="#f7804c" stroke-width="4.0" stroke-dasharray="0 125.2 0.45 5.55 0.45 75.5 0.45 22.49 0.46 127.35 0.46 1.66" fill="none"/><circle cx="529.8" cy="170.8" r="85.80" pathLength="360" stroke="#f88e52" stroke-width="4.0" stroke-dasharray="0 0.33 0.46 43.37 0.46 79.38 0.45 235.55" fill="none"/><circle cx="529.8" cy="170.8" r="85.80" pathLength="360" stroke="#fca85e" stroke-width="4.0" stroke-dasharray="0 285.27 0.45 74.28" fill="none"/><circle cx="529.8" cy="170.8" r="80.25" pathLength="360" stroke="#c32a4b" stroke-width="4.1" stroke-dasharray="0 11.37 19.29 0.85 13.46 0.85 10.27 0.85 13.74 0.85 14.16 4.6 15.29 0.85 13.9 0.85 16.41 0.85 13.76 0.85 22.24 0.85 26.14 0.85 19.6 0.85 19.05 0.85 24.05 4.9 24.85 0.85 20.68 0.85 20.96 0.85 15.55 0.85 12.63 0" fill="none"/><circle cx="529.8" cy="170.8" r="80.25" pathLength="360" stroke="#a40743" stroke-width="4.1" stroke-dasharray="0 1.55 0.46 0 0.41 0 0.41 0 0.41 0.36 0.46 0 0.41 0 0.41 0 0.41 4.02 0.46 2.02 0.45 13.22 0.45 0 0.4 0.35 0.45 0.35 0.45 0.35 0.45 1.16 0.45 2.02 0.46 4.85 0.46 0 0.41 0 0.41 0 0.41 1.17 0.46 0 0.41 1.58 0.46 0.77 0.46 0 0.36 6.19 0.46 0.36 0.46 0 0.41 0.36 0.46 1.18 0.46 0 0.41 0 0.36 5.7 0.45 0 0.4 2.38 0.45 0.35 0.45 0 0.4 0 0.4 4.44 0.45 0 0.4 0 0.4 0.35 0.45 0 0.4 0 0.4 0 0.4 0 0.4 0.76 0.45 0 0.4 3.19 0.45 0.35 0.45 0.35 0.45 0.76 0.45 7.38 0.45 0.75 0.45 6.39 0.45 0 0.4 0 0.4 1.16 0.45 0.75 0.45 2.36 0.4 1.67 0.46 0 0.41 0 0.41 0 0.41 1.18 0.46 0.36 0.46 1.59 0.46 0 0.41 0 0.41 0 0.41 0.36 0.46 0 0.41 0 0.41 0 0.41 0 0.41 0.77 0.46 0 0.41 0 0.41 0.36 0.46 2.01 0.45 0 0.4 0 0.4 0.35 0.45 1.55 0.45 1.15 0.45 0 0.4 0 0.4 7.95 0.45 0 0.4 2.01 0.45 0 0.4 1.16 0.45 0.76 0.45 1.97 0.45 0 0.4 8.49 0.45 0 0.4 2.38 0.45 0 0.4 0.35 0.45 1.57 0.45 0 0.4 1.57 0.45 0.35 0.45 2.38 0.45 1.16 0.45 3.99 0.45 0 0.4 0 0.4 2.01 0.45 0 0.4 1.16 0.45 1.16 0.45 4.37 0.45 1.96 0.45 0 0.4 3.97 0.45 0 0.4 1.56 0.45 4.78 0.45 0 0.4 0 0.4 0 0.4 2.81 0.45 2.75 0.45 0.75 0.45 1.15 0.45 0.35 0.45 0.75 0.45 2.35 0.45 0.35 0.45 0 0.4 0 0.4 8.42 0.46 0 0.41 0 0.41 0 0.41 0.36 0.46 0 0.41 0.36 0.46 0 0.41 0.76 0.46 1.98 0.46 5.62 0.46 1.57 0.46 0.36 0.46 6.42 0.45 0.35 0.45 0.35 0.45 0 0.4 0 0.4 0 0.4 0 0.4 3.16 0.45 5.96 0.45 0.35 0.45 0.35 0.45 0 0.4 9.26 0.45 0.35 0.45 0.35 0.45 1.15 0.45 0.35 0.45 1.15 0.45 0 0.4 0 0.4 3.16 0.45 1.55 0.45 2.35 0.45 6.76 0.45 5.65 0.46 1.17 0.46 3.6 0.46 5.22 0.46 3.19 0.46 0.36 0.46 0 0.41 0.36 0.41 1.25 0.45 0 0.4 5.19 0.45 3.58 0.45 2.37 0.45 13.78 0.46 2.81 0.46 0 0.41 2.81 0.46 0 0.41 0 0.41 0 0.41 0 0.41 0 0.41 2.02 0.46 0.84" fill="none"/><circle cx="529.8" cy="170.8" r="80.25" pathLength="360" stroke="#ae1346" stroke-width="4.1" stroke-dasharray="0 1.15 0.46 3.62 0.46 7.7 0.45 15.22 0.45 0 0.4 4.46 0.46 7.7 0.46 0.36 0.46 9.83 0.46 3.26 0.45 9.25 0.45 8.08 0.45 2.38 0.45 2.38 0.45 1.97 0.45 6.97 0.45 11.22 0.45 3.21 0.46 1.99 0.46 1.99 0.46 5.27 0.46 0 0.41 1.18 0.46 0.36 0.41 2.85 0.45 1.55 0.45 0.35 0.45 2.35 0.45 0.75 0.45 1.15 0.45 1.95 0.45 0 0.4 6.03 0.45 1.97 0.45 7.24 0.45 0 0.4 2.01 0.45 5.61 0.45 1.16 0.45 0.35 0.45 2.38 0.45 0 0.4 1.57 0.45 1.97 0.45 0 0.4 0.35 0.45 8.86 0.45 2.36 0.45 0.35 0.45 1.56 0.45 5.98 0.45 0 0.4 0 0.4 0 0.4 0.75 0.45 1.16 0.45 3.97 0.45 1.6 0.45 2.75 0.45 0.75 0.45 0 0.4 3.15 0.45 7.95 0.45 1.95 0.4 1.26 0.46 0.36 0.46 9.68 0.46 4 0.46 7.65 0.45 13.18 0.45 2.76 0.45 8.86 0.45 4.36 0.45 9.57 0.45 4.36 0.45 14.55 0.46 6.84 0.46 0 0.41 0.36 0.46 7.26 0.45 6.4 0.45 3.58 0.45 9.32 0.46 0.77 0.46 0 0.41 9.36 0.41 2.96" fill="none"/><circle cx="529.8" cy="170.8" r="80.25" pathLength="360" stroke="#ba2048" stroke-width="4.1" stroke-dasharray="0 11.37 0.45 14.42 0.45 1.16 0.45 4.84 0.46 0 0.41 0 0.41 0.36 0.46 4.03 0.46 0 0.41 1.99 0.46 4.07 0.46 2 0.46 4.47 0.46 2.44 0.45 0.76 0.45 1.97 0.45 4.4 0.45 2.38 0.45 0 0.4 0.35 0.45 2.82 0.45 1.97 0.45 1.16 0.45 2.38 0.45 2.38 0.45 0.35 0.45 8.99 0.45 5.18 0.45 5.99 0.45 1.61 0.46 2.4 0.46 16.22 0.45 3.55 0.45 8.01 0.45 1.16 0.45 2.78 0.45 3.19 0.45 1.16 0.45 0 0.4 0.35 0.45 2.42 0.45 0 0.4 1.97 0.45 0.35 0.45 2.38 0.45 0.35 0.45 3.59 0.45 1.16 0.45 4.4 0.45 5.65 0.45 3.57 0.45 6.79 0.45 0.35 0.45 6.38 0.45 0 0.4 0.35 0.45 0 0.4 0 0.4 0 0.4 4.82 0.45 0.35 0.45 1.95 0.45 7.95 0.45 2.35 0.45 0.35 0.45 0 0.4 4.81 0.46 4.41 0.46 5.62 0.46 0 0.41 4.81 0.46 0.36 0.46 2.01 0.45 0 0.4 0.75 0.45 1.55 0.45 0.35 0.45 5.56 0.45 5.56 0.45 5.96 0.4 10.11 0.45 0 0.4 1.55 0.45 8.77 0.45 3.96 0.45 0 0.4 0 0.4 1.95 0.4 5.31 0.46 6.03 0.46 0 0.41 2.38 0.46 14.54 0.45 5.59 0.45 0.35 0.45 1.97 0.45 2.37 0.45 2.83 0.46 0.36 0.46 2 0.46 7.31 0.46 5.78" fill="none"/><circle cx="529.8" cy="170.8" r="80.25" pathLength="360" stroke="#c42c4b" stroke-width="4.1" stroke-dasharray="0 0.74 0.46 10.98 0.45 4.37 0.45 11.21 0.45 1.16 0.4 1.26 0.46 4.85 0.46 10.2 0.46 3.24 0.46 6.53 0.45 1.16 0.45 1.97 0.45 0 0.4 1.16 0.45 19.4 0.45 9.38 0.45 5.18 0.45 0.35 0.45 1.96 0.45 0 0.4 5.27 0.46 1.99 0.46 2.4 0.46 14.12 0.45 0 0.4 1.95 0.45 1.15 0.45 11.69 0.45 2.38 0.45 2.78 0.4 6.11 0.45 0.35 0.45 3.19 0.45 0.35 0.45 2.38 0.45 0.35 0.45 0.35 0.45 6.42 0.4 2.46 0.45 1.16 0.45 0.35 0.45 0.75 0.45 1.96 0.45 3.57 0.45 3.17 0.45 2.76 0.45 3.57 0.45 6.42 0.45 3.15 0.45 0 0.4 0.35 0.45 1.55 0.45 0.75 0.45 6.35 0.45 8.88 0.46 8.87 0.46 0.36 0.46 6.44 0.45 4.76 0.45 1.95 0.45 0.75 0.45 0.75 0.45 3.16 0.45 1.95 0.45 1.95 0.45 10.46 0.45 3.96 0.45 1.15 0.45 1.15 0.45 1.55 0.45 0 0.4 1.15 0.45 0.75 0.45 1.95 0.45 3.16 0.45 0.35 0.45 11.33 0.46 4.01 0.46 1.98 0.46 6.06 0.45 4.38 0.45 0.35 0.45 0 0.4 0.76 0.45 3.58 0.45 1.16 0.45 5.59 0.45 2.02 0.46 2 0.46 4.86 0.46 8.57 0.46 0.43" fill="none"/><circle cx="529.8" cy="170.8" r="80.25" pathLength="360" stroke="#d0384e" stroke-width="4.1" stroke-dasharray="0 12.98 0.45 0.35 0.45 17.28 0.46 0.77 0.46 6.89 0.46 1.17 0.46 6.12 0.46 0.77 0.46 0.36 0.46 3.65 0.46 12.54 0.45 0 0.4 8.89 0.45 0.35 0.45 11.83 0.45 0.75 0.45 2.77 0.45 0 0.4 1.16 0.45 0.35 0.45 2.36 0.45 0.75 0.45 0 0.4 8.11 0.46 1.59 0.46 8.16 0.45 5.15 0.45 1.15 0.45 3.55 0.45 8.84 0.45 0.76 0.45 0.76 0.45 5.21 0.45 0.35 0.45 4.44 0.45 8.85 0.45 4.4 0.45 3.99 0.45 8.04 0.45 6.38 0.45 0.35 0.45 8.39 0.45 6.42 0.45 2.35 0.45 7.95 0.45 4.35 0.45 1.2 0.46 2.79 0.46 3.19 0.46 3.6 0.46 3.19 0.46 1.57 0.46 4.83 0.45 0.35 0.45 5.56 0.45 5.96 0.45 2.76 0.45 2.36 0.45 7.26 0.45 3.96 0.45 5.56 0.45 12.77 0.45 0 0.4 4.04 0.46 1.98 0.46 0 0.41 0 0.41 0 0.41 5.63 0.46 0.36 0.46 1.17 0.46 1.57 0.46 4.04 0.45 4.79 0.45 4.38 0.45 0.76 0.45 1.16 0.45 4.79 0.45 6.08 0.46 4.86 0.46 9.87" fill="none"/><circle cx="529.8" cy="170.8" r="80.25" pathLength="360" stroke="#d8434e" stroke-width="4.1" stroke-dasharray="0 6.85 0.46 0 0.41 2.39 0.41 2.06 0.45 1.56 0.45 0.35 0.45 1.56 0.45 0 0.4 3.97 0.45 0 0.4 0 0.4 3.57 0.45 7.69 0.46 10.18 0.46 2.42 0.46 3.65 0.46 6.1 0.45 1.57 0.45 7.23 0.45 0.76 0.4 8.13 0.45 1.16 0.45 1.16 0.45 1.57 0.45 0.76 0.4 11.44 0.45 0.35 0.45 25.6 0.45 22.51 0.45 0.35 0.45 0 0.4 8.49 0.45 4.4 0.45 6.42 0.45 3.19 0.45 4.43 0.45 0.75 0.45 3.17 0.45 12.82 0.45 5.58 0.45 0 0.35 2.45 0.45 5.95 0.45 1.15 0.45 0 0.4 3.15 0.45 1.15 0.45 0.75 0.45 0.75 0.45 9.69 0.46 1.57 0.46 0 0.41 8.46 0.41 4.46 0.45 1.95 0.45 3.96 0.45 9.57 0.45 1.15 0.45 9.26 0.45 8.37 0.45 7.56 0.45 7.23 0.46 0 0.41 0 0.41 1.17 0.46 4.01 0.46 0.76 0.46 9.68 0.46 2.82 0.45 2.37 0.45 0.76 0.45 2.77 0.45 2.77 0.45 4.79 0.45 1.56 0.45 3.65 0.46 0.36 0.46 1.18 0.46 1.59 0.46 4.86 0.46 6.6" fill="none"/><circle cx="529.8" cy="170.8" r="80.25" pathLength="360" stroke="#de4c4b" stroke-width="4.1" stroke-dasharray="0 8.07 0.46 0.36 0.46 0.36 0.46 4.02 0.45 0.35 0.45 0.35 0.45 0.35 0.45 1.96 0.45 5.58 0.45 18.27 0.46 2.03 0.46 4.06 0.46 8.56 0.45 3.99 0.45 20.21 0.45 7.77 0.45 0.35 0.45 1.16 0.45 16.18 0.46 8.97 0.45 8.75 0.45 1.95 0.45 3.55 0.4 0.85 0.45 3.19 0.45 3.59 0.45 0 0.4 8.08 0.45 13.7 0.45 4.8 0.45 4.02 0.45 2.36 0.45 3.57 0.45 0.35 0.45 1.56 0.45 1.96 0.45 22.86 0.45 2.75 0.45 3.15 0.45 6.46 0.46 3.6 0.46 1.57 0.46 10.51 0.45 7.97 0.45 3.16 0.45 1.55 0.45 0.35 0.45 14.07 0.45 0.75 0.45 5.16 0.45 0 0.4 4.36 0.45 0 0.4 5.56 0.45 4.81 0.46 6.44 0.46 4.41 0.46 3.19 0.46 0.76 0.46 6.47 0.45 0.35 0.45 4.79 0.45 2.37 0.45 4.79 0.45 0 0.4 3.58 0.4 10.67 0.46 1.59 0.46 4.48 0.46 1.25" fill="none"/><circle cx="529.8" cy="170.8" r="80.25" pathLength="360" stroke="#e45649" stroke-width="4.1" stroke-dasharray="0 3.18 0.46 2.39 0.46 1.99 0.46 7.25 0.45 1.56 0.45 0 0.4 0.75 0.45 0 0.4 0 0.4 2.36 0.45 23.18 0.46 0 0.41 2 0.46 7.36 0.45 0.76 0.45 1.57 0.45 8.44 0.45 7.27 0.45 1.16 0.45 12.63 0.45 0.75 0.45 2.36 0.45 7.19 0.45 20.36 0.45 5.95 0.45 3.95 0.45 0 0.4 48.56 0.45 4.37 0.45 14.86 0.45 25.7 0.46 4.41 0.46 0.36 0.46 6.07 0.45 9.17 0.45 2.76 0.45 0.75 0.45 1.55 0.45 5.96 0.45 0 0.4 14.07 0.45 1.15 0.45 4.36 0.45 11.63 0.46 10.49 0.46 0.36 0.46 10.52 0.45 0.76 0.45 5.19 0.45 0 0.4 5.19 0.45 2.77 0.45 9.77 0.46 0.36 0.46 2 0.46 0 0.41 5.3 0.46 1.17 0.46 0.03" fill="none"/><circle cx="529.8" cy="170.8" r="80.25" pathLength="360" stroke="#eb5f47" stroke-width="4.1" stroke-dasharray="0 0.33 0.46 6.88 0.46 12.89 0.45 0 0.4 19.44 0.46 21.65 0.45 40.52 0.45 27.96 0.45 1.55 0.45 9.27 0.45 11.32 0.45 14.91 0.45 0 0.4 10.47 0.45 1.96 0.45 45.85 0.46 1.57 0.46 9.71 0.45 28.5 0.45 16.38 0.45 0.75 0.45 1.15 0.45 30.77 0.45 17.74 0.46 10.18 0.46 7" fill="none"/><circle cx="529.8" cy="170.8" r="80.25" pathLength="360" stroke="#f16844" stroke-width="4.1" stroke-dasharray="0 5.63 0.46 13.32 0.45 4.77 0.45 11.73 0.46 102.8 0.45 73.42 0.45 7.15 0.45 15.38 0.46 14.88 0.45 36.91 0.45 1.15 0.45 6.42 0.46 2.79 0.46 3.6 0.46 0 0.41 1.98 0.46 25.45 0.45 2.37 0.45 0.76 0.45 8.96 0.46 0.36 0.46 10.69" fill="none"/><circle cx="529.8" cy="170.8" r="80.25" pathLength="360" stroke="#f57446" stroke-width="4.1" stroke-dasharray="0 6.44 0.46 14.92 0.45 1.56 0.45 0 0.4 39.14 0.45 70.93 0.45 54.99 0.45 45.48 0.46 0.76 0.46 17.68 0.45 1.95 0.45 82.71 0.46 18.05" fill="none"/><circle cx="529.8" cy="170.8" r="80.25" pathLength="360" stroke="#f7804c" stroke-width="4.1" stroke-dasharray="0 95.93 0.45 28.01 0.45 133.08 0.45 26.49 0.45 37.58 0.45 36.64" fill="none"/><circle cx="529.8" cy="170.8" r="80.25" pathLength="360" stroke="#f88e52" stroke-width="4.1" stroke-dasharray="0 36 0.46 230.29 0.45 38.25 0.46 8.06 0.46 45.58" fill="none"/><circle cx="529.8" cy="170.8" r="80.25" pathLength="360" stroke="#fa9a58" stroke-width="4.1" stroke-dasharray="0 36.41 0.46 323.06 0.46 0" fill="none"/><circle cx="529.8" cy="170.8" r="80.25" pathLength="360" stroke="#fca85e" stroke-width="4.1" stroke-dasharray="0 35.59 0.46 248.42 0.45 5.56 0.45 69.07" fill="none"/><circle cx="529.8" cy="170.8" r="80.25" pathLength="360" stroke="#fdb365" stroke-width="4.1" stroke-dasharray="0 298.96 0.46 60.59" fill="none"/><path d="M563.4 100.8A77.6 77.6 0 0 1 565.3 101.8Q529.8 170.8 495.3 101.3A77.6 77.6 0 0 1 497.1 100.4Q529.8 170.8 563.4 100.8Z" fill="#9e0142" fill-opacity="0.87"/><path d="M561.0 99.8A77.6 77.6 0 0 1 563.5 100.9Q529.8 170.8 497.0 100.5A77.6 77.6 0 0 1 499.4 99.4Q529.8 170.8 561.0 99.8Z" fill="#9e0142" fill-opacity="0.90"/><path d="M559.7 99.2A77.6 77.6 0 0 1 561.6 100.0Q529.8 170.8 498.9 99.6A77.6 77.6 0 0 1 500.7 98.9Q529.8 170.7 559.7 99.2Z" fill="#9e0142" fill-opacity="0.94"/><path d="M557.1 98.2A77.6 77.6 0 0 1 559.8 99.2Q529.8 170.7 500.6 98.9A77.6 77.6 0 0 1 503.2 97.9Q529.8 168.8 557.1 98.2Z" fill="#9e0142" fill-opacity="0.86"/><path d="M555.7 97.7A77.6 77.6 0 0 1 557.6 98.3Q529.8 169.2 502.8 98.1A77.6 77.6 0 0 1 504.6 97.4Q529.8 167.8 555.7 97.7Z" fill="#9e0142" fill-opacity="0.91"/><path d="M554.0 97.1A77.6 77.6 0 0 1 555.9 97.7Q529.8 167.9 504.4 97.5A77.6 77.6 0 0 1 506.3 96.9Q529.8 166.6 554.0 97.1Z" fill="#9e0142" fill-opacity="0.97"/><path d="M551.7 96.4A77.6 77.6 0 0 1 553.9 97.1Q529.8 166.6 506.3 96.8A77.6 77.6 0 0 1 508.4 96.2Q529.8 165.0 551.7 96.4Z" fill="#9e0142" fill-opacity="0.96"/><path d="M549.5 95.7A77.6 77.6 0 0 1 551.9 96.4Q529.8 165.1 508.2 96.3A77.6 77.6 0 0 1 510.6 95.6Q529.8 163.4 549.5 95.7Z" fill="#9e0142" fill-opacity="0.87"/><path d="M548.1 95.4A77.6 77.6 0 0 1 550.2 95.9Q529.8 163.8 509.9 95.8A77.6 77.6 0 0 1 511.9 95.3Q529.8 162.4 548.1 95.4Z" fill="#9e0142" fill-opacity="0.92"/><path d="M545.5 94.8A77.6 77.6 0 0 1 548.2 95.4Q529.8 162.4 511.8 95.3A77.6 77.6 0 0 1 514.5 94.7Q529.8 160.4 545.5 94.8Z" fill="#9e0142" fill-opacity="0.89"/><path d="M544.0 94.5A77.6 77.6 0 0 1 546.2 94.9Q529.8 160.9 513.8 94.9A77.6 77.6 0 0 1 515.9 94.5Q529.8 159.3 544.0 94.5Z" fill="#9e0142" fill-opacity="0.90"/><path d="M541.9 94.2A77.6 77.6 0 0 1 544.0 94.5Q529.8 159.4 515.9 94.5A77.6 77.6 0 0 1 517.9 94.1Q529.8 157.8 541.9 94.2Z" fill="#9e0142" fill-opacity="0.96"/><path d="M539.6 93.8A77.6 77.6 0 0 1 542.2 94.2Q529.8 158.0 517.6 94.2A77.6 77.6 0 0 1 520.2 93.8Q529.8 156.1 539.6 93.8Z" fill="#9e0142" fill-opacity="0.96"/><path d="M537.5 93.6A77.6 77.6 0 0 1 540.2 93.9Q529.8 156.6 519.6 93.9A77.6 77.6 0 0 1 522.2 93.6Q529.8 154.6 537.5 93.6Z" fill="#9e0142" fill-opacity="0.97"/><path d="M535.8 93.4A77.6 77.6 0 0 1 538.3 93.7Q529.8 155.2 521.5 93.6A77.6 77.6 0 0 1 523.8 93.4Q529.8 153.4 535.8 93.4Z" fill="#9e0142" fill-opacity="0.96"/><path d="M534.3 93.3A77.6 77.6 0 0 1 536.2 93.5Q529.8 153.7 523.4 93.5A77.6 77.6 0 0 1 525.3 93.3Q529.8 152.3 534.3 93.3Z" fill="#9e0142" fill-opacity="0.90"/><path d="M586.8 118.2A77.6 77.6 0 0 1 588.0 119.5Q529.8 170.8 473.8 117.1A77.6 77.6 0 0 1 474.9 115.9Q529.8 170.8 586.8 118.2Z" fill="#f46d43" fill-opacity="0.97"/><path d="M585.6 116.9A77.6 77.6 0 0 1 586.8 118.1Q529.8 170.8 475.0 115.9A77.6 77.6 0 0 1 476.1 114.8Q529.8 170.8 585.6 116.9Z" fill="#f46d43" fill-opacity="0.86"/><path d="M584.3 115.5A77.6 77.6 0 0 1 585.7 116.9Q529.8 170.8 476.0 114.8A77.6 77.6 0 0 1 477.4 113.6Q529.8 170.8 584.3 115.5Z" fill="#f46d43" fill-opacity="0.90"/><path d="M583.1 114.4A77.6 77.6 0 0 1 584.4 115.6Q529.8 170.8 477.3 113.6A77.6 77.6 0 0 1 478.5 112.6Q529.8 170.8 583.1 114.4Z" fill="#f46d43" fill-opacity="0.92"/><path d="M581.6 113.1A77.6 77.6 0 0 1 583.3 114.6Q529.8 170.8 478.3 112.7A77.6 77.6 0 0 1 479.9 111.4Q529.8 170.8 581.6 113.1Z" fill="#f46d43" fill-opacity="0.92"/><path d="M580.2 111.8A77.6 77.6 0 0 1 582.0 113.4Q529.8 170.8 479.5 111.7A77.6 77.6 0 0 1 481.3 110.3Q529.8 170.8 580.2 111.8Z" fill="#f46d43" fill-opacity="0.89"/><path d="M579.0 110.8A77.6 77.6 0 0 1 580.7 112.3Q529.8 170.8 480.7 110.7A77.6 77.6 0 0 1 482.4 109.4Q529.8 170.8 579.0 110.8Z" fill="#f46d43" fill-opacity="0.91"/><path d="M577.8 109.8A77.6 77.6 0 0 1 579.2 110.9Q529.8 170.8 482.2 109.5A77.6 77.6 0 0 1 483.5 108.5Q529.8 170.8 577.8 109.8Z" fill="#f46d43" fill-opacity="0.93"/><path d="M576.1 108.5A77.6 77.6 0 0 1 577.9 109.9Q529.8 170.8 483.5 108.6A77.6 77.6 0 0 1 485.1 107.4Q529.8 170.8 576.1 108.5Z" fill="#f46d43" fill-opacity="0.88"/><path d="M575.0 107.7A77.6 77.6 0 0 1 576.7 109.0Q529.8 170.8 484.6 107.7A77.6 77.6 0 0 1 486.2 106.6Q529.8 170.8 575.0 107.7Z" fill="#f46d43" fill-opacity="0.88"/><path d="M573.6 106.8A77.6 77.6 0 0 1 575.0 107.7Q529.8 170.8 486.1 106.7A77.6 77.6 0 0 1 487.4 105.8Q529.8 170.8 573.6 106.8Z" fill="#f46d43" fill-opacity="0.90"/><path d="M572.2 105.8A77.6 77.6 0 0 1 573.8 106.9Q529.8 170.8 487.2 105.9A77.6 77.6 0 0 1 488.7 105.0Q529.8 170.8 572.2 105.8Z" fill="#f46d43" fill-opacity="0.90"/><path d="M570.8 104.9A77.6 77.6 0 0 1 572.3 105.9Q529.8 170.8 488.6 105.0A77.6 77.6 0 0 1 490.1 104.1Q529.8 170.8 570.8 104.9Z" fill="#f46d43" fill-opacity="0.89"/><path d="M569.4 104.0A77.6 77.6 0 0 1 570.7 104.8Q529.8 170.8 490.2 104.1A77.6 77.6 0 0 1 491.4 103.4Q529.8 170.8 569.4 104.0Z" fill="#f46d43" fill-opacity="0.92"/><path d="M567.9 103.2A77.6 77.6 0 0 1 569.2 104.0Q529.8 170.8 491.5 103.3A77.6 77.6 0 0 1 492.7 102.6Q529.8 170.8 567.9 103.2Z" fill="#f46d43" fill-opacity="0.96"/><path d="M566.4 102.4A77.6 77.6 0 0 1 567.7 103.1Q529.8 170.8 493.0 102.5A77.6 77.6 0 0 1 494.1 101.9Q529.8 170.8 566.4 102.4Z" fill="#f46d43" fill-opacity="0.87"/><path d="M602.1 142.7A77.6 77.6 0 0 1 603.0 145.0Q529.8 170.8 458.5 140.3A77.6 77.6 0 0 1 459.4 138.1Q529.8 170.8 602.1 142.7Z" fill="#d53e4f" fill-opacity="0.87"/><path d="M601.6 141.3A77.6 77.6 0 0 1 602.3 143.2Q529.8 170.8 459.2 138.6A77.6 77.6 0 0 1 460.0 136.9Q529.8 170.8 601.6 141.3Z" fill="#d53e4f" fill-opacity="0.94"/><path d="M600.9 139.8A77.6 77.6 0 0 1 601.7 141.6Q529.8 170.8 459.9 137.1A77.6 77.6 0 0 1 460.7 135.5Q529.8 170.8 600.9 139.8Z" fill="#d53e4f" fill-opacity="0.92"/><path d="M600.3 138.4A77.6 77.6 0 0 1 600.9 139.8Q529.8 170.8 460.7 135.5A77.6 77.6 0 0 1 461.4 134.2Q529.8 170.8 600.3 138.4Z" fill="#d53e4f" fill-opacity="0.89"/><path d="M599.4 136.6A77.6 77.6 0 0 1 600.3 138.3Q529.8 170.8 461.4 134.1A77.6 77.6 0 0 1 462.3 132.6Q529.8 170.8 599.4 136.6Z" fill="#d53e4f" fill-opacity="0.93"/><path d="M598.4 134.6A77.6 77.6 0 0 1 599.5 136.7Q529.8 170.8 462.2 132.7A77.6 77.6 0 0 1 463.3 130.8Q529.8 170.8 598.4 134.6Z" fill="#d53e4f" fill-opacity="0.89"/><path d="M598.0 133.7A77.6 77.6 0 0 1 598.6 135.0Q529.8 170.8 463.1 131.1A77.6 77.6 0 0 1 463.8 130.0Q529.8 170.8 598.0 133.7Z" fill="#d53e4f" fill-opacity="0.96"/><path d="M597.0 132.0A77.6 77.6 0 0 1 598.0 133.7Q529.8 170.8 463.8 130.0A77.6 77.6 0 0 1 464.8 128.4Q529.8 170.8 597.0 132.0Z" fill="#d53e4f" fill-opacity="0.91"/><path d="M596.2 130.6A77.6 77.6 0 0 1 596.9 131.9Q529.8 170.8 464.9 128.3A77.6 77.6 0 0 1 465.7 127.1Q529.8 170.8 596.2 130.6Z" fill="#d53e4f" fill-opacity="0.92"/><path d="M595.1 128.8A77.6 77.6 0 0 1 596.0 130.4Q529.8 170.8 465.8 127.0A77.6 77.6 0 0 1 466.8 125.5Q529.8 170.8 595.1 128.8Z" fill="#d53e4f" fill-opacity="0.95"/><path d="M593.9 127.1A77.6 77.6 0 0 1 595.0 128.8Q529.8 170.8 466.8 125.5A77.6 77.6 0 0 1 467.9 124.0Q529.8 170.8 593.9 127.1Z" fill="#d53e4f" fill-opacity="0.89"/><path d="M593.0 125.8A77.6 77.6 0 0 1 594.2 127.5Q529.8 170.8 467.6 124.4A77.6 77.6 0 0 1 468.8 122.8Q529.8 170.8 593.0 125.8Z" fill="#d53e4f" fill-opacity="0.95"/><path d="M591.8 124.2A77.6 77.6 0 0 1 593.1 125.9Q529.8 170.8 468.8 122.9A77.6 77.6 0 0 1 470.0 121.4Q529.8 170.8 591.8 124.2Z" fill="#d53e4f" fill-opacity="0.95"/><path d="M590.8 122.9A77.6 77.6 0 0 1 592.1 124.6Q529.8 170.8 469.7 121.7A77.6 77.6 0 0 1 471.0 120.2Q529.8 170.8 590.8 122.9Z" fill="#d53e4f" fill-opacity="0.96"/><path d="M590.0 121.8A77.6 77.6 0 0 1 591.0 123.1Q529.8 170.8 470.8 120.4A77.6 77.6 0 0 1 471.8 119.3Q529.8 170.8 590.0 121.8Z" fill="#d53e4f" fill-opacity="0.89"/><path d="M589.0 120.6A77.6 77.6 0 0 1 590.0 121.8Q529.8 170.8 471.8 119.2A77.6 77.6 0 0 1 472.8 118.1Q529.8 170.8 589.0 120.6Z" fill="#d53e4f" fill-opacity="0.90"/><path d="M606.6 182.2A77.6 77.6 0 0 1 606.2 184.5Q529.8 170.8 452.3 175.6A77.6 77.6 0 0 1 452.2 173.5Q529.8 170.8 606.6 182.2Z" fill="#e3d000" fill-opacity="0.94"/><path d="M607.0 178.9A77.6 77.6 0 0 1 606.6 182.0Q529.8 170.8 452.2 173.3A77.6 77.6 0 0 1 452.2 170.5Q529.8 170.8 607.0 178.9Z" fill="#e3d000" fill-opacity="0.93"/><path d="M607.1 177.5A77.6 77.6 0 0 1 606.9 179.8Q529.8 170.8 452.2 171.3A77.6 77.6 0 0 1 452.2 169.2Q529.8 170.8 607.1 177.5Z" fill="#e3d000" fill-opacity="0.96"/><path d="M607.3 175.1A77.6 77.6 0 0 1 607.1 177.5Q529.8 170.8 452.2 169.3A77.6 77.6 0 0 1 452.3 167.0Q529.8 170.8 607.3 175.1Z" fill="#e3d000" fill-opacity="0.96"/><path d="M607.4 172.2A77.6 77.6 0 0 1 607.3 174.9Q529.8 170.8 452.3 166.9A77.6 77.6 0 0 1 452.5 164.5Q529.8 170.8 607.4 172.2Z" fill="#e3d000" fill-opacity="0.88"/><path d="M607.4 169.5A77.6 77.6 0 0 1 607.4 172.2Q529.8 170.8 452.5 164.5A77.6 77.6 0 0 1 452.7 162.0Q529.8 170.8 607.4 169.5Z" fill="#e3d000" fill-opacity="0.30"/><path d="M607.3 167.3A77.6 77.6 0 0 1 607.4 170.1Q529.8 170.8 452.6 162.5A77.6 77.6 0 0 1 453.0 160.0Q529.8 170.8 607.3 167.3Z" fill="#e3d000" fill-opacity="0.30"/><path d="M607.2 165.4A77.6 77.6 0 0 1 607.3 167.8Q529.8 170.8 452.9 160.5A77.6 77.6 0 0 1 453.2 158.3Q529.8 170.8 607.2 165.4Z" fill="#e3d000" fill-opacity="0.30"/><path d="M606.9 162.0A77.6 77.6 0 0 1 607.2 165.2Q529.8 170.8 453.2 158.2A77.6 77.6 0 0 1 453.8 155.3Q529.8 170.8 606.9 162.0Z" fill="#e3d000" fill-opacity="0.95"/><path d="M606.6 159.8A77.6 77.6 0 0 1 607.0 162.6Q529.8 170.8 453.7 155.8A77.6 77.6 0 0 1 454.2 153.4Q529.8 170.8 606.6 159.8Z" fill="#e3d000" fill-opacity="0.89"/><path d="M606.2 157.3A77.6 77.6 0 0 1 606.7 160.2Q529.8 170.8 454.1 153.7A77.6 77.6 0 0 1 454.7 151.2Q529.8 170.8 606.2 157.3Z" fill="#e3d000" fill-opacity="0.89"/><path d="M605.9 155.6A77.6 77.6 0 0 1 606.3 157.8Q529.8 170.8 454.6 151.6A77.6 77.6 0 0 1 455.1 149.6Q529.8 170.8 605.9 155.6Z" fill="#e3d000" fill-opacity="0.94"/><path d="M605.3 153.0A77.6 77.6 0 0 1 605.9 155.4Q529.8 170.8 455.2 149.5A77.6 77.6 0 0 1 455.8 147.4Q529.8 170.8 605.3 153.0Z" fill="#e3d000" fill-opacity="0.95"/><path d="M604.7 150.6A77.6 77.6 0 0 1 605.3 152.8Q529.8 170.8 455.9 147.2A77.6 77.6 0 0 1 456.5 145.3Q529.8 170.8 604.7 150.6Z" fill="#e3d000" fill-opacity="0.86"/><path d="M603.8 147.4A77.6 77.6 0 0 1 604.7 150.5Q529.8 170.8 456.5 145.2A77.6 77.6 0 0 1 457.6 142.5Q529.8 170.8 603.8 147.4Z" fill="#e3d000" fill-opacity="0.87"/><path d="M603.4 146.2A77.6 77.6 0 0 1 604.0 148.1Q529.8 170.8 457.3 143.0A77.6 77.6 0 0 1 458.0 141.4Q529.8 170.8 603.4 146.2Z" fill="#e3d000" fill-opacity="0.94"/><path d="M597.5 208.7A77.6 77.6 0 0 1 596.6 210.4Q529.8 170.8 460.6 205.9A77.6 77.6 0 0 1 459.6 203.9Q529.8 170.8 597.5 208.7Z" fill="#238b45" fill-opacity="0.87"/><path d="M598.5 206.8A77.6 77.6 0 0 1 597.6 208.6Q529.8 170.8 459.6 203.9A77.6 77.6 0 0 1 458.6 201.7Q529.8 170.8 598.5 206.8Z" fill="#238b45" fill-opacity="0.95"/><path d="M599.2 205.5A77.6 77.6 0 0 1 598.3 207.3Q529.8 170.8 458.9 202.3A77.6 77.6 0 0 1 458.0 200.2Q529.8 170.8 599.2 205.5Z" fill="#238b45" fill-opacity="0.88"/><path d="M599.8 204.3A77.6 77.6 0 0 1 599.1 205.7Q529.8 170.8 458.1 200.4A77.6 77.6 0 0 1 457.4 198.8Q529.8 170.8 599.8 204.3Z" fill="#238b45" fill-opacity="0.91"/><path d="M600.4 203.1A77.6 77.6 0 0 1 599.6 204.6Q529.8 170.8 457.5 199.1A77.6 77.6 0 0 1 456.8 197.3Q529.8 170.8 600.4 203.1Z" fill="#238b45" fill-opacity="0.97"/><path d="M601.2 201.3A77.6 77.6 0 0 1 600.4 203.1Q529.8 170.8 456.8 197.2A77.6 77.6 0 0 1 456.1 195.1Q529.8 170.8 601.2 201.3Z" fill="#238b45" fill-opacity="0.95"/><path d="M601.8 199.8A77.6 77.6 0 0 1 601.1 201.4Q529.8 170.8 456.1 195.2A77.6 77.6 0 0 1 455.6 193.4Q529.8 170.8 601.8 199.8Z" fill="#238b45" fill-opacity="0.94"/><path d="M602.3 198.5A77.6 77.6 0 0 1 601.8 199.8Q529.8 170.8 455.6 193.4A77.6 77.6 0 0 1 455.1 191.8Q529.8 170.8 602.3 198.5Z" fill="#238b45" fill-opacity="0.91"/><path d="M603.0 196.6A77.6 77.6 0 0 1 602.3 198.4Q529.8 170.8 455.1 191.7A77.6 77.6 0 0 1 454.5 189.5Q529.8 170.8 603.0 196.6Z" fill="#238b45" fill-opacity="0.93"/><path d="M603.4 195.4A77.6 77.6 0 0 1 602.8 197.1Q529.8 170.8 454.6 190.1A77.6 77.6 0 0 1 454.1 188.1Q529.8 170.8 603.4 195.4Z" fill="#238b45" fill-opacity="0.90"/><path d="M604.0 193.5A77.6 77.6 0 0 1 603.5 195.2Q529.8 170.8 454.1 187.9A77.6 77.6 0 0 1 453.7 185.9Q529.8 170.8 604.0 193.5Z" fill="#238b45" fill-opacity="0.89"/><path d="M604.4 192.2A77.6 77.6 0 0 1 603.9 193.8Q529.8 170.8 453.7 186.2A77.6 77.6 0 0 1 453.4 184.3Q529.8 170.8 604.4 192.2Z" fill="#238b45" fill-opacity="0.98"/><path d="M604.9 190.2A77.6 77.6 0 0 1 604.4 192.2Q529.8 170.8 453.4 184.3A77.6 77.6 0 0 1 453.0 182.0Q529.8 170.8 604.9 190.2Z" fill="#238b45" fill-opacity="0.91"/><path d="M605.3 188.7A77.6 77.6 0 0 1 604.8 190.8Q529.8 170.8 453.1 182.7A77.6 77.6 0 0 1 452.8 180.2Q529.8 170.8 605.3 188.7Z" fill="#238b45" fill-opacity="0.88"/><path d="M605.7 187.1A77.6 77.6 0 0 1 605.2 189.0Q529.8 170.8 452.8 180.5A77.6 77.6 0 0 1 452.6 178.3Q529.8 170.8 605.7 187.1Z" fill="#238b45" fill-opacity="0.96"/><path d="M605.9 186.1A77.6 77.6 0 0 1 605.6 187.5Q529.8 170.8 452.6 178.8A77.6 77.6 0 0 1 452.5 177.1Q529.8 170.8 605.9 186.1Z" fill="#238b45" fill-opacity="0.86"/><path d="M585.5 224.8A77.6 77.6 0 0 1 584.7 225.6Q529.8 170.8 471.7 222.2A77.6 77.6 0 0 1 470.9 221.3Q529.8 170.8 585.5 224.8Z" fill="#a1d99b" fill-opacity="0.87"/><path d="M586.3 224.0A77.6 77.6 0 0 1 585.6 224.7Q529.8 170.8 470.9 221.3A77.6 77.6 0 0 1 470.2 220.5Q529.8 170.8 586.3 224.0Z" fill="#a1d99b" fill-opacity="0.92"/><path d="M587.1 223.1A77.6 77.6 0 0 1 586.3 224.0Q529.8 170.8 470.2 220.5A77.6 77.6 0 0 1 469.4 219.5Q529.8 170.8 587.1 223.1Z" fill="#a1d99b" fill-opacity="0.96"/><path d="M588.0 222.1A77.6 77.6 0 0 1 587.2 223.0Q529.8 170.8 469.3 219.4A77.6 77.6 0 0 1 468.5 218.4Q529.8 170.8 588.0 222.1Z" fill="#a1d99b" fill-opacity="0.93"/><path d="M588.7 221.3A77.6 77.6 0 0 1 587.9 222.3Q529.8 170.8 468.7 218.7A77.6 77.6 0 0 1 467.9 217.6Q529.8 170.8 588.7 221.3Z" fill="#a1d99b" fill-opacity="0.97"/><path d="M589.4 220.4A77.6 77.6 0 0 1 588.6 221.5Q529.8 170.8 468.0 217.8A77.6 77.6 0 0 1 467.2 216.7Q529.8 170.8 589.4 220.4Z" fill="#a1d99b" fill-opacity="0.89"/><path d="M590.1 219.7A77.6 77.6 0 0 1 589.3 220.6Q529.8 170.8 467.3 216.8A77.6 77.6 0 0 1 466.6 215.8Q529.8 170.8 590.1 219.7Z" fill="#a1d99b" fill-opacity="0.95"/><path d="M591.1 218.4A77.6 77.6 0 0 1 590.1 219.7Q529.8 170.8 466.6 215.8A77.6 77.6 0 0 1 465.7 214.5Q529.8 170.8 591.1 218.4Z" fill="#a1d99b" fill-opacity="0.90"/><path d="M591.6 217.8A77.6 77.6 0 0 1 590.9 218.7Q529.8 170.8 465.9 214.8A77.6 77.6 0 0 1 465.2 213.8Q529.8 170.8 591.6 217.8Z" fill="#a1d99b" fill-opacity="0.95"/><path d="M592.4 216.6A77.6 77.6 0 0 1 591.5 217.9Q529.8 170.8 465.3 214.0A77.6 77.6 0 0 1 464.4 212.5Q529.8 170.8 592.4 216.6Z" fill="#a1d99b" fill-opacity="0.89"/><path d="M592.9 216.0A77.6 77.6 0 0 1 592.2 216.9Q529.8 170.8 464.6 212.8A77.6 77.6 0 0 1 464.0 211.9Q529.8 170.8 592.9 216.0Z" fill="#a1d99b" fill-opacity="0.86"/><path d="M593.5 215.1A77.6 77.6 0 0 1 592.9 216.0Q529.8 170.8 464.0 211.9A77.6 77.6 0 0 1 463.4 211.0Q529.8 170.8 593.5 215.1Z" fill="#a1d99b" fill-opacity="0.95"/><path d="M594.1 214.2A77.6 77.6 0 0 1 593.5 215.1Q529.8 170.8 463.4 211.0A77.6 77.6 0 0 1 462.8 210.0Q529.8 170.8 594.1 214.2Z" fill="#a1d99b" fill-opacity="0.92"/><path d="M594.9 213.0A77.6 77.6 0 0 1 594.2 214.1Q529.8 170.8 462.8 209.9A77.6 77.6 0 0 1 462.1 208.7Q529.8 170.8 594.9 213.0Z" fill="#a1d99b" fill-opacity="0.95"/><path d="M595.6 211.9A77.6 77.6 0 0 1 594.7 213.3Q529.8 170.8 462.3 209.0A77.6 77.6 0 0 1 461.5 207.6Q529.8 170.8 595.6 211.9Z" fill="#a1d99b" fill-opacity="0.96"/><path d="M596.0 211.4A77.6 77.6 0 0 1 595.5 212.2Q529.8 170.8 461.6 207.8A77.6 77.6 0 0 1 461.1 207.0Q529.8 170.8 596.0 211.4Z" fill="#a1d99b" fill-opacity="0.89"/><path d="M574.1 234.5A77.6 77.6 0 0 1 573.1 235.2Q529.8 170.8 489.5 237.1A77.6 77.6 0 0 1 487.9 236.1Q529.8 170.8 574.1 234.5Z" fill="#3288bd" fill-opacity="0.89"/><path d="M574.6 234.2A77.6 77.6 0 0 1 573.9 234.7Q529.8 170.8 488.3 236.4A77.6 77.6 0 0 1 487.1 235.6Q529.8 170.8 574.6 234.2Z" fill="#3288bd" fill-opacity="0.95"/><path d="M575.4 233.6A77.6 77.6 0 0 1 574.5 234.2Q529.8 170.8 487.2 235.7A77.6 77.6 0 0 1 485.8 234.8Q529.8 170.8 575.4 233.6Z" fill="#3288bd" fill-opacity="0.95"/><path d="M576.0 233.1A77.6 77.6 0 0 1 575.3 233.7Q529.8 170.8 486.0 234.9A77.6 77.6 0 0 1 484.8 234.0Q529.8 170.8 576.0 233.1Z" fill="#3288bd" fill-opacity="0.92"/><path d="M576.9 232.5A77.6 77.6 0 0 1 576.0 233.2Q529.8 170.8 484.9 234.1A77.6 77.6 0 0 1 483.4 233.0Q529.8 170.8 576.9 232.5Z" fill="#3288bd" fill-opacity="0.96"/><path d="M577.3 232.1A77.6 77.6 0 0 1 576.7 232.7Q529.8 170.8 483.8 233.3A77.6 77.6 0 0 1 482.7 232.5Q529.8 170.8 577.3 232.1Z" fill="#3288bd" fill-opacity="0.90"/><path d="M578.3 231.4A77.6 77.6 0 0 1 577.3 232.2Q529.8 170.8 482.7 232.5A77.6 77.6 0 0 1 481.2 231.3Q529.8 170.8 578.3 231.4Z" fill="#3288bd" fill-opacity="0.97"/><path d="M578.8 230.9A77.6 77.6 0 0 1 578.1 231.5Q529.8 170.8 481.5 231.5A77.6 77.6 0 0 1 480.3 230.5Q529.8 170.8 578.8 230.9Z" fill="#3288bd" fill-opacity="0.93"/><path d="M579.5 230.4A77.6 77.6 0 0 1 578.7 231.0Q529.8 170.8 480.5 230.7A77.6 77.6 0 0 1 479.2 229.6Q529.8 170.8 579.5 230.4Z" fill="#3288bd" fill-opacity="0.93"/><path d="M580.1 229.9A77.6 77.6 0 0 1 579.5 230.4Q529.8 170.8 479.3 229.7A77.6 77.6 0 0 1 478.3 228.8Q529.8 170.8 580.1 229.9Z" fill="#3288bd" fill-opacity="0.88"/><path d="M580.7 229.4A77.6 77.6 0 0 1 580.1 229.9Q529.8 170.8 478.3 228.9A77.6 77.6 0 0 1 477.4 228.0Q529.8 170.8 580.7 229.4Z" fill="#3288bd" fill-opacity="0.90"/><path d="M581.6 228.6A77.6 77.6 0 0 1 580.8 229.3Q529.8 170.8 477.3 227.9A77.6 77.6 0 0 1 476.0 226.7Q529.8 170.8 581.6 228.6Z" fill="#3288bd" fill-opacity="0.93"/><path d="M582.2 228.0A77.6 77.6 0 0 1 581.5 228.7Q529.8 170.8 476.1 226.9A77.6 77.6 0 0 1 475.0 225.8Q529.8 170.8 582.2 228.0Z" fill="#3288bd" fill-opacity="0.98"/><path d="M582.7 227.6A77.6 77.6 0 0 1 582.1 228.1Q529.8 170.8 475.2 225.9A77.6 77.6 0 0 1 474.3 225.0Q529.8 170.8 582.7 227.6Z" fill="#3288bd" fill-opacity="0.88"/><path d="M583.5 226.8A77.6 77.6 0 0 1 582.7 227.6Q529.8 170.8 474.2 225.0A77.6 77.6 0 0 1 473.1 223.8Q529.8 170.8 583.5 226.8Z" fill="#3288bd" fill-opacity="0.91"/><path d="M583.9 226.5A77.6 77.6 0 0 1 583.4 226.9Q529.8 170.8 473.3 223.9A77.6 77.6 0 0 1 472.5 223.1Q529.8 170.8 583.9 226.5Z" fill="#3288bd" fill-opacity="0.96"/><path d="M557.0 243.5A77.6 77.6 0 0 1 555.5 244.0Q529.9 175.0 507.8 245.2A77.6 77.6 0 0 1 506.3 244.7Q529.9 173.9 557.0 243.5Z" fill="#66c2a5" fill-opacity="0.97"/><path d="M558.1 243.1A77.6 77.6 0 0 1 556.6 243.6Q529.9 174.2 506.6 244.9A77.6 77.6 0 0 1 505.1 244.4Q529.9 173.1 558.1 243.1Z" fill="#66c2a5" fill-opacity="0.89"/><path d="M559.2 242.6A77.6 77.6 0 0 1 557.9 243.1Q529.9 173.3 505.4 244.5A77.6 77.6 0 0 1 504.0 244.0Q529.8 172.3 559.2 242.6Z" fill="#66c2a5" fill-opacity="0.96"/><path d="M559.9 242.3A77.6 77.6 0 0 1 558.7 242.8Q529.8 172.6 504.4 244.1A77.6 77.6 0 0 1 503.3 243.7Q529.8 171.8 559.9 242.3Z" fill="#66c2a5" fill-opacity="0.93"/><path d="M561.1 241.8A77.6 77.6 0 0 1 559.9 242.3Q529.8 171.8 503.3 243.7A77.6 77.6 0 0 1 502.1 243.3Q529.8 170.9 561.1 241.8Z" fill="#66c2a5" fill-opacity="0.98"/><path d="M562.0 241.4A77.6 77.6 0 0 1 561.1 241.8Q529.8 170.9 502.0 243.3A77.6 77.6 0 0 1 501.1 242.9Q529.8 170.8 562.0 241.4Z" fill="#66c2a5" fill-opacity="0.88"/><path d="M563.3 240.8A77.6 77.6 0 0 1 562.1 241.3Q529.8 170.8 501.0 242.8A77.6 77.6 0 0 1 499.8 242.4Q529.8 170.8 563.3 240.8Z" fill="#66c2a5" fill-opacity="0.86"/><path d="M564.1 240.4A77.6 77.6 0 0 1 563.2 240.8Q529.8 170.8 499.8 242.4A77.6 77.6 0 0 1 498.9 242.0Q529.8 170.8 564.1 240.4Z" fill="#66c2a5" fill-opacity="0.87"/><path d="M565.5 239.7A77.6 77.6 0 0 1 564.3 240.3Q529.8 170.8 498.8 241.9A77.6 77.6 0 0 1 497.5 241.4Q529.8 170.8 565.5 239.7Z" fill="#66c2a5" fill-opacity="0.87"/><path d="M566.6 239.1A77.6 77.6 0 0 1 565.2 239.8Q529.8 170.8 497.8 241.5A77.6 77.6 0 0 1 496.4 240.8Q529.8 170.8 566.6 239.1Z" fill="#66c2a5" fill-opacity="0.98"/><path d="M567.5 238.6A77.6 77.6 0 0 1 566.3 239.3Q529.8 170.8 496.6 240.9A77.6 77.6 0 0 1 495.4 240.3Q529.8 170.8 567.5 238.6Z" fill="#66c2a5" fill-opacity="0.97"/><path d="M568.5 238.1A77.6 77.6 0 0 1 567.2 238.8Q529.8 170.8 495.7 240.5A77.6 77.6 0 0 1 494.4 239.8Q529.8 170.8 568.5 238.1Z" fill="#66c2a5" fill-opacity="0.96"/><path d="M569.4 237.5A77.6 77.6 0 0 1 568.3 238.1Q529.8 170.8 494.5 239.9A77.6 77.6 0 0 1 493.4 239.3Q529.8 170.8 569.4 237.5Z" fill="#66c2a5" fill-opacity="0.96"/><path d="M570.6 236.8A77.6 77.6 0 0 1 569.3 237.6Q529.8 170.8 493.5 239.4A77.6 77.6 0 0 1 492.2 238.7Q529.8 170.8 570.6 236.8Z" fill="#66c2a5" fill-opacity="0.97"/><path d="M571.2 236.4A77.6 77.6 0 0 1 570.4 237.0Q529.8 170.8 492.4 238.8A77.6 77.6 0 0 1 491.5 238.3Q529.8 170.8 571.2 236.4Z" fill="#66c2a5" fill-opacity="0.90"/><path d="M572.1 235.8A77.6 77.6 0 0 1 571.3 236.4Q529.8 170.8 491.5 238.3A77.6 77.6 0 0 1 490.6 237.8Q529.8 170.8 572.1 235.8Z" fill="#66c2a5" fill-opacity="0.89"/><path d="M538.1 248.0A77.6 77.6 0 0 1 536.7 248.1Q530.5 189.5 528.3 248.4A77.6 77.6 0 0 1 526.8 248.3Q530.4 188.4 538.1 248.0Z" fill="#5e4fa2" fill-opacity="0.92"/><path d="M538.8 247.9A77.6 77.6 0 0 1 537.7 248.0Q530.4 188.7 527.2 248.4A77.6 77.6 0 0 1 526.0 248.3Q530.4 187.9 538.8 247.9Z" fill="#5e4fa2" fill-opacity="0.92"/><path d="M540.0 247.7A77.6 77.6 0 0 1 539.0 247.9Q530.4 187.8 525.8 248.3A77.6 77.6 0 0 1 524.7 248.2Q530.3 187.0 540.0 247.7Z" fill="#5e4fa2" fill-opacity="0.94"/><path d="M541.2 247.6A77.6 77.6 0 0 1 540.1 247.7Q530.3 186.9 524.6 248.2A77.6 77.6 0 0 1 523.3 248.1Q530.3 186.0 541.2 247.6Z" fill="#5e4fa2" fill-opacity="0.91"/><path d="M542.2 247.4A77.6 77.6 0 0 1 541.2 247.6Q530.3 186.1 523.4 248.1A77.6 77.6 0 0 1 522.3 248.0Q530.3 185.3 542.2 247.4Z" fill="#5e4fa2" fill-opacity="0.90"/><path d="M543.3 247.2A77.6 77.6 0 0 1 542.2 247.4Q530.3 185.3 522.3 248.0A77.6 77.6 0 0 1 521.1 247.9Q530.2 184.4 543.3 247.2Z" fill="#5e4fa2" fill-opacity="0.89"/><path d="M544.8 246.9A77.6 77.6 0 0 1 543.5 247.2Q530.2 184.3 520.9 247.9A77.6 77.6 0 0 1 519.5 247.7Q530.2 183.3 544.8 246.9Z" fill="#5e4fa2" fill-opacity="0.91"/><path d="M545.8 246.7A77.6 77.6 0 0 1 544.4 247.0Q530.2 183.6 519.9 247.8A77.6 77.6 0 0 1 518.4 247.6Q530.1 182.5 545.8 246.7Z" fill="#5e4fa2" fill-opacity="0.89"/><path d="M547.1 246.4A77.6 77.6 0 0 1 545.7 246.8Q530.2 182.6 518.5 247.6A77.6 77.6 0 0 1 516.9 247.3Q530.1 181.5 547.1 246.4Z" fill="#5e4fa2" fill-opacity="0.90"/><path d="M548.2 246.2A77.6 77.6 0 0 1 546.7 246.5Q530.1 181.8 517.3 247.4A77.6 77.6 0 0 1 515.7 247.1Q530.1 180.6 548.2 246.2Z" fill="#5e4fa2" fill-opacity="0.96"/><path d="M549.0 246.0A77.6 77.6 0 0 1 547.9 246.3Q530.1 180.8 516.0 247.2A77.6 77.6 0 0 1 514.8 246.9Q530.1 180.0 549.0 246.0Z" fill="#5e4fa2" fill-opacity="0.97"/><path d="M550.5 245.6A77.6 77.6 0 0 1 548.9 246.0Q530.1 180.1 515.0 247.0A77.6 77.6 0 0 1 513.2 246.6Q530.0 178.8 550.5 245.6Z" fill="#5e4fa2" fill-opacity="0.95"/><path d="M551.2 245.4A77.6 77.6 0 0 1 550.0 245.7Q530.0 179.2 513.8 246.7A77.6 77.6 0 0 1 512.5 246.4Q530.0 178.3 551.2 245.4Z" fill="#5e4fa2" fill-opacity="0.96"/><path d="M552.2 245.1A77.6 77.6 0 0 1 551.3 245.4Q530.0 178.2 512.3 246.4A77.6 77.6 0 0 1 511.3 246.2Q530.0 177.5 552.2 245.1Z" fill="#5e4fa2" fill-opacity="0.93"/><path d="M553.6 244.7A77.6 77.6 0 0 1 552.4 245.0Q530.0 177.4 511.1 246.1A77.6 77.6 0 0 1 509.8 245.8Q529.9 176.4 553.6 244.7Z" fill="#5e4fa2" fill-opacity="0.97"/><path d="M554.4 244.4A77.6 77.6 0 0 1 553.5 244.7Q529.9 176.5 509.9 245.8A77.6 77.6 0 0 1 508.9 245.5Q529.9 175.9 554.4 244.4Z" fill="#5e4fa2" fill-opacity="0.87"/><path d="M606.7 160.7A77.6 77.6 0 0 1 607.0 163.4Q529.8 170.8 452.4 165.4A77.6 77.6 0 0 1 452.6 162.9Q529.8 170.8 606.7 160.7Z" fill="#e3d000" fill-opacity="0.75"/><path d="M607.1 177.6A77.6 77.6 0 0 1 606.8 180.3Q529.8 170.8 452.6 162.6A77.6 77.6 0 0 1 452.9 160.5Q529.8 170.8 607.1 177.6Z" fill="#e3d000" fill-opacity="0.75"/><path d="M607.4 170.9A77.6 77.6 0 0 1 607.4 173.3Q529.8 170.8 453.3 157.7A77.6 77.6 0 0 1 453.7 155.6Q529.8 170.8 607.4 170.9Z" fill="#e3d000" fill-opacity="0.75"/><path d="M458.6 140.0Q529.8 170.8 605.3 153.1M458.0 141.3Q529.8 170.8 597.4 208.9M453.0 181.6Q529.8 170.8 603.6 194.8M456.4 196.0Q529.8 170.8 607.3 174.4M459.1 202.8Q529.8 170.8 606.3 183.8M458.5 201.3Q529.8 170.8 607.3 167.5M462.9 210.2Q529.8 170.8 596.5 210.4M452.6 162.5Q529.8 170.8 606.7 160.4M456.0 194.8Q529.8 170.8 603.2 196.1M452.2 172.9Q529.8 170.8 607.0 178.9M462.2 208.9Q529.8 170.8 607.0 162.6M452.3 175.0Q529.8 170.8 601.5 200.4M456.6 196.5Q529.8 170.8 600.1 138.0M452.2 169.0Q529.8 170.8 604.8 150.8M462.3 209.2Q529.8 170.8 602.0 142.4M452.3 173.8Q529.8 170.8 607.3 167.6M455.0 191.6Q529.8 170.8 605.0 189.9M461.9 208.3Q529.8 170.8 606.1 156.8M452.2 172.5Q529.8 170.8 605.3 152.9M461.2 134.5Q529.8 170.8 606.7 160.4M452.4 175.8Q529.8 170.8 597.7 208.4M452.2 170.5Q529.8 170.8 605.1 152.0M452.3 174.2Q529.8 170.8 596.0 211.3M456.7 144.8Q529.8 170.8 606.4 158.2M460.9 206.6Q529.8 170.8 598.6 206.6M454.3 188.8Q529.8 170.8 601.1 140.3M452.6 178.9Q529.8 170.8 603.7 194.5M453.1 182.9Q529.8 170.8 602.6 197.6M460.1 136.6Q529.8 170.8 605.6 187.4M458.2 140.9Q529.8 170.8 606.8 180.7M460.5 205.7Q529.8 170.8 605.5 187.8M455.3 192.4Q529.8 170.8 602.5 198.0M458.7 139.7Q529.8 170.8 607.4 170.7M453.8 155.1Q529.8 170.8 600.1 137.9M452.4 165.9Q529.8 170.8 605.8 186.4M459.4 138.1Q529.8 170.8 600.8 139.4M456.8 197.1Q529.8 170.8 603.7 194.3M452.6 162.7Q529.8 170.8 607.4 169.4M461.4 134.1Q529.8 170.8 600.8 139.5M457.8 141.8Q529.8 170.8 602.1 142.7M455.6 193.5Q529.8 170.8 605.9 186.2M461.8 208.2Q529.8 170.8 603.6 194.7M454.2 188.1Q529.8 170.8 602.8 197.0M452.5 163.7Q529.8 170.8 605.5 153.8M455.6 148.0Q529.8 170.8 598.9 206.1M455.6 148.1Q529.8 170.8 601.6 141.3M452.4 177.0Q529.8 170.8 600.7 139.3M452.4 176.4Q529.8 170.8 606.0 155.9M452.2 169.7Q529.8 170.8 600.7 202.4M454.6 151.8Q529.8 170.8 602.9 196.8M461.6 207.9Q529.8 170.8 607.4 172.3M452.7 179.2Q529.8 170.8 604.6 191.6M458.4 140.5Q529.8 170.8 598.6 134.9M457.6 142.4Q529.8 170.8 606.6 159.8M462.6 209.6Q529.8 170.8 606.4 183.2M452.2 171.4Q529.8 170.8 562.7 241.1M465.8 126.9Q529.8 170.8 607.4 172.1M463.5 130.4Q529.8 170.8 573.5 234.9M452.3 174.7Q529.8 170.8 603.3 146.0M454.8 150.9Q529.8 170.8 579.0 230.8M458.1 141.0Q529.8 170.8 602.5 197.8M478.6 229.1Q529.8 170.8 593.5 215.0M452.9 160.1Q529.8 170.8 594.1 214.2M453.5 184.7Q529.8 170.8 574.3 107.2M467.8 217.4Q529.8 170.8 604.0 193.4M479.7 230.0Q529.8 170.8 603.7 147.2M455.5 193.2Q529.8 170.8 588.0 119.4M465.0 213.5Q529.8 170.8 607.4 168.7M478.5 112.5Q529.8 170.8 594.5 213.6M487.2 235.7Q529.8 170.8 606.4 158.5" stroke="#a0a0a0" stroke-width="0.45" fill="none" opacity="0.7"/><path d="M455.4 148.9Q529.8 170.8 602.7 144.3M453.9 154.8Q529.8 170.8 606.5 182.6M453.1 182.5Q529.8 170.8 603.0 145.0M452.6 179.0Q529.8 170.8 606.8 161.5M453.4 157.5Q529.8 170.8 604.0 148.2M454.0 187.6Q529.8 170.8 606.5 182.8M456.1 195.0Q529.8 170.8 607.2 175.9M452.3 175.2Q529.8 170.8 606.9 161.9M452.2 173.0Q529.8 170.8 606.9 162.2M455.1 149.8Q529.8 170.8 604.2 193.0M452.6 163.2Q529.8 170.8 606.8 180.8M456.0 146.8Q529.8 170.8 604.5 149.9" stroke="#fff" stroke-width="0.6" fill="none" opacity="0.45"/><text transform="translate(568.7 24.3) rotate(14.9)" text-anchor="middle" dy="0.36em" font-size="7" fill="#444">Chr1</text><text transform="translate(624.1 52.1) rotate(38.5)" text-anchor="middle" dy="0.36em" font-size="7" fill="#444">Chr3</text><text transform="translate(661.3 95.4) rotate(60.2)" text-anchor="middle" dy="0.36em" font-size="7" fill="#444">Chr5</text><text transform="translate(678.7 142.6) rotate(79.3)" text-anchor="middle" dy="0.36em" font-size="7" fill="#444">Chr8</text><text transform="translate(681.0 181.9) rotate(-85.8)" text-anchor="middle" dy="0.36em" font-size="7" fill="#444">Chr13</text><text transform="translate(671.3 225.2) rotate(-69.0)" text-anchor="middle" dy="0.36em" font-size="7" fill="#444">Chr9</text><text transform="translate(648.9 264.6) rotate(-51.8)" text-anchor="middle" dy="0.36em" font-size="7" fill="#444">Chr11</text><text transform="translate(625.3 288.6) rotate(-39.0)" text-anchor="middle" dy="0.36em" font-size="7" fill="#444">Chr15</text><text transform="translate(596.7 306.8) rotate(-26.2)" text-anchor="middle" dy="0.36em" font-size="7" fill="#444">Chr17</text><text transform="translate(559.7 319.4) rotate(-11.4)" text-anchor="middle" dy="0.36em" font-size="7" fill="#444">Chr19</text><text transform="translate(508.8 320.9) rotate(7.9)" text-anchor="middle" dy="0.36em" font-size="7" fill="#444">Chr18</text><text transform="translate(469.6 309.9) rotate(23.4)" text-anchor="middle" dy="0.36em" font-size="7" fill="#444">Chr16</text><text transform="translate(433.6 287.9) rotate(39.4)" text-anchor="middle" dy="0.36em" font-size="7" fill="#444">Chr14</text><text transform="translate(405.1 257.0) rotate(55.3)" text-anchor="middle" dy="0.36em" font-size="7" fill="#444">Chr12</text><text transform="translate(383.9 212.1) rotate(74.2)" text-anchor="middle" dy="0.36em" font-size="7" fill="#444">Chr10</text><text transform="translate(380.2 146.5) rotate(279.2)" text-anchor="middle" dy="0.36em" font-size="7" fill="#444">Chr7</text><text transform="translate(402.6 88.3) rotate(302.9)" text-anchor="middle" dy="0.36em" font-size="7" fill="#444">Chr6</text><text transform="translate(438.8 49.5) rotate(323.1)" text-anchor="middle" dy="0.36em" font-size="7" fill="#444">Chr4</text><text transform="translate(491.9 24.0) rotate(345.5)" text-anchor="middle" dy="0.36em" font-size="7" fill="#444">Chr2</text><text x="530.0" y="41.06" text-anchor="middle" font-size="8.5" font-weight="bold">A</text><text x="530.0" y="49.14" text-anchor="middle" font-size="7.9" font-weight="bold">B</text><text x="530.0" y="55.88" text-anchor="middle" font-size="8.0" font-weight="bold">C</text><text x="530.0" y="64.62" text-anchor="middle" font-size="8.4" font-weight="bold">D</text><text x="530.0" y="72.86" text-anchor="middle" font-size="7.4" font-weight="bold">E</text><text x="530.0" y="81.31" text-anchor="middle" font-size="7.8" font-weight="bold">F</text><text x="530.0" y="87.44" text-anchor="middle" font-size="5.4" font-weight="bold">G</text><text x="530.0" y="92.73" text-anchor="middle" font-size="6.6" font-weight="bold">H</text><path d="M450.2 341.8H489.7M450.2 338.8V342.5M470.5 338.8V342.5M489.7 338.8V342.5" stroke="#777" stroke-width="1.3" fill="none"/><path d="M512.5 341.8H551.2M512.5 338.5V342.5M531.5 338.5V342.5M551.2 338.5V342.5" stroke="#e3cf00" stroke-width="1.3" fill="none"/><defs><linearGradient id="rb"><stop offset="0" stop-color="#053061"/><stop offset="0.15" stop-color="#2166ac"/><stop offset="0.32" stop-color="#92c5de"/><stop offset="0.5" stop-color="#f7f7f7"/><stop offset="0.68" stop-color="#f4a582"/><stop offset="0.85" stop-color="#b2182b"/><stop offset="1" stop-color="#67001f"/></linearGradient></defs><rect x="579.9" y="336.2" width="38.1" height="7.9" fill="url(#rb)"/><text x="449.0" y="351.6" font-size="8">3</text><text x="484.4" y="351.6" font-size="8">20</text><text x="502.8" y="351.6" font-size="8">0.30</text><text x="544.7" y="351.6" font-size="8">0.65</text><text x="570.7" y="351.6" font-size="8">Low</text><text x="610.0" y="351.6" font-size="8">High</text><text x="365.2" y="20.7" font-size="28.5">b</text>
</svg>
</body></html>
